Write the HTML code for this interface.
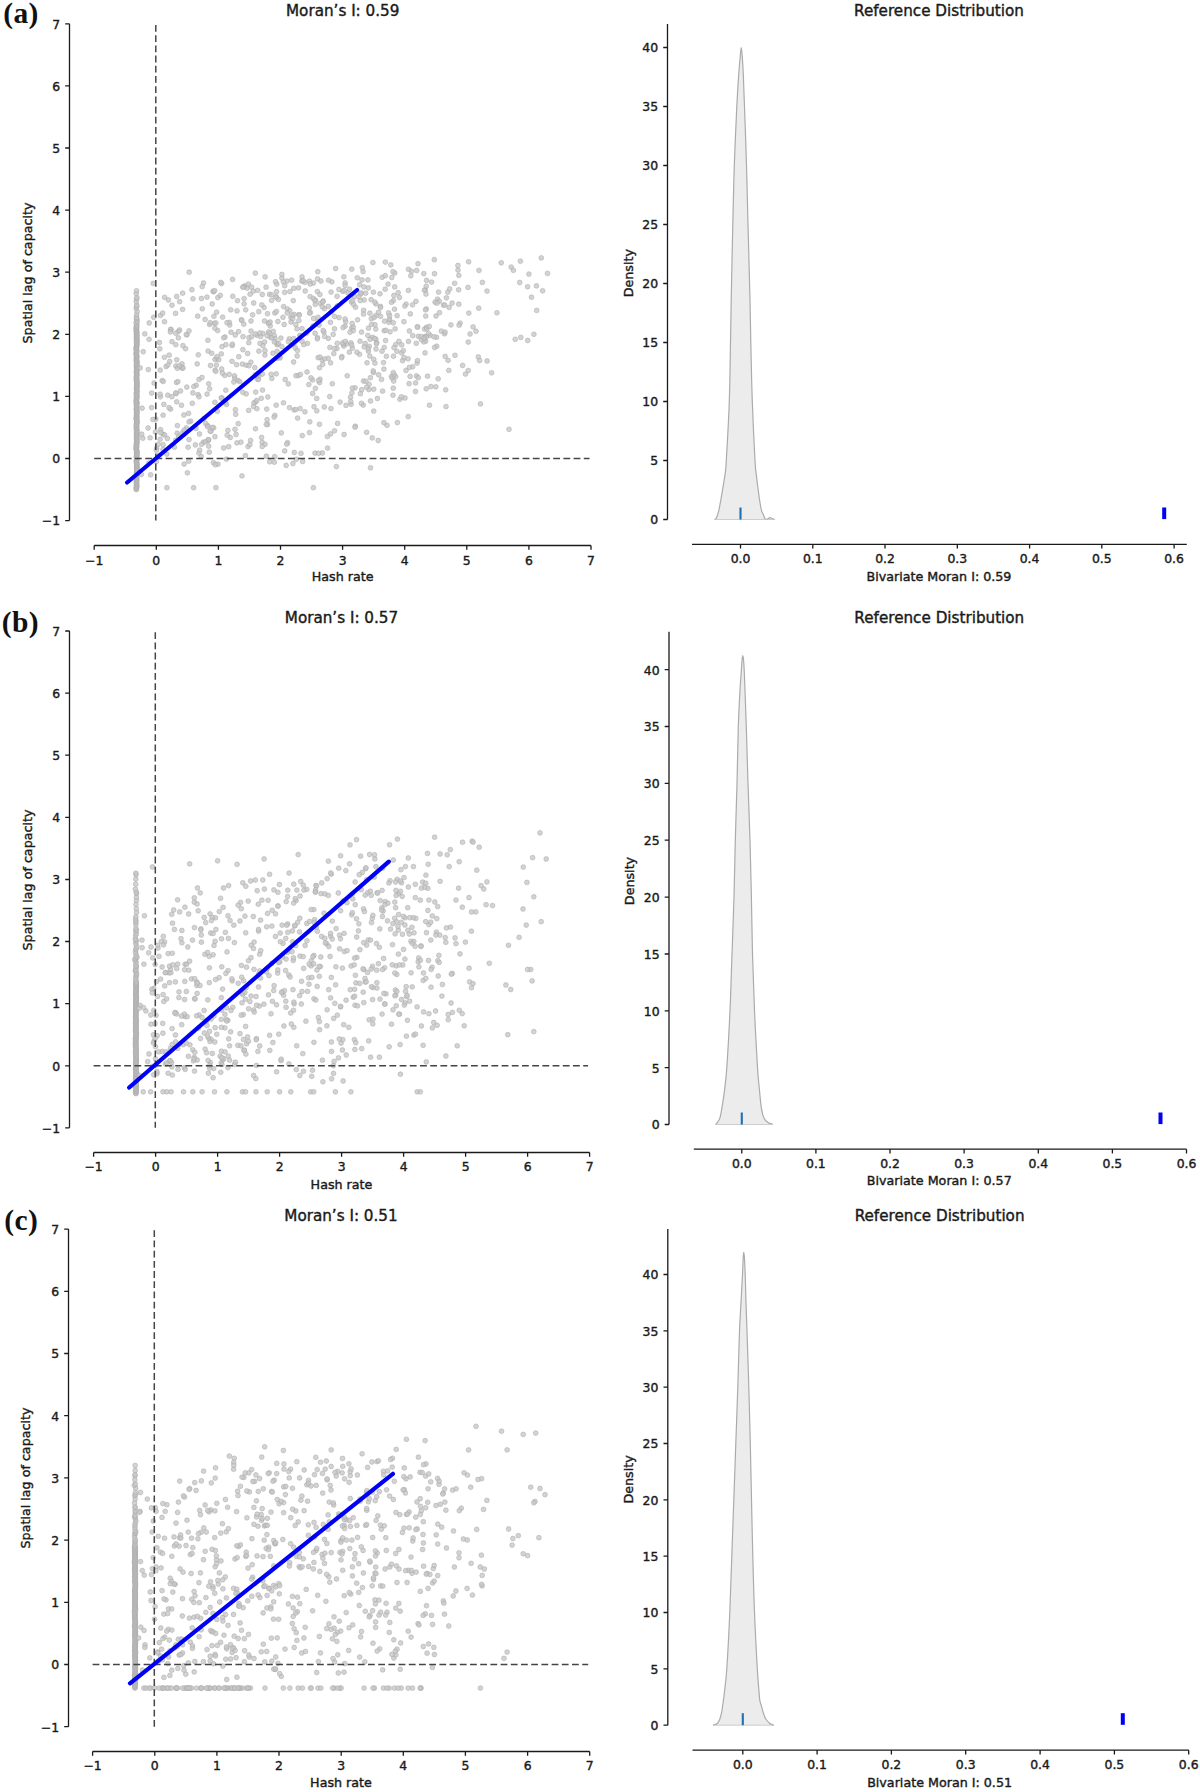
<!DOCTYPE html>
<html lang="en"><head><meta charset="utf-8"><title>Moran scatterplots</title>
<style>html,body{margin:0;padding:0;background:#fff}svg{display:block}text{font-family:'DejaVu Sans','Liberation Sans',sans-serif;fill:#1a1a1a;stroke:#1a1a1a;stroke-width:.4px}.t{font-size:12.4px}.h{font-size:15.2px}.l{font-size:12.7px}.tag{font-family:'Liberation Serif','DejaVu Serif',serif;font-weight:700;font-size:29.5px;fill:#111;stroke:none;letter-spacing:.4px}.ax{stroke:#1a1a1a;stroke-width:1.3;fill:none}.d{stroke:#454545;stroke-width:1.5;stroke-dasharray:6.8 3.4;fill:none}.p circle{fill:#c6c6c6;fill-opacity:.78;stroke:#a8a8a8;stroke-opacity:.75;stroke-width:.7}</style></head><body>
<svg width="1200" height="1792" viewBox="0 0 1200 1792">
<rect width="1200" height="1792" fill="#fff"/>
<g>
<text class="tag" x="3.2" y="23">(a)</text>
<text class="h" x="342.7" y="16.2" text-anchor="middle">Moran’s I: 0.59</text>
<g class="p">
<circle cx="136.3" cy="489.6" r="2.4"/><circle cx="136.5" cy="488.8" r="2.4"/><circle cx="136.2" cy="488.1" r="2.4"/><circle cx="136.3" cy="487.3" r="2.4"/><circle cx="137" cy="486.6" r="2.4"/><circle cx="136.6" cy="485.8" r="2.4"/><circle cx="136.5" cy="485.1" r="2.4"/><circle cx="136.6" cy="484.3" r="2.4"/><circle cx="136.4" cy="483.6" r="2.4"/><circle cx="136.6" cy="482.8" r="2.4"/><circle cx="136.5" cy="482.1" r="2.4"/><circle cx="136.4" cy="481.4" r="2.4"/><circle cx="136.6" cy="480.6" r="2.4"/><circle cx="136.8" cy="479.9" r="2.4"/><circle cx="136.6" cy="479.1" r="2.4"/><circle cx="136.3" cy="478.4" r="2.4"/><circle cx="136.6" cy="477.6" r="2.4"/><circle cx="136.5" cy="476.9" r="2.4"/><circle cx="136.5" cy="476.1" r="2.4"/><circle cx="136.7" cy="475.4" r="2.4"/><circle cx="136.7" cy="474.6" r="2.4"/><circle cx="136.8" cy="473.9" r="2.4"/><circle cx="136.5" cy="473.2" r="2.4"/><circle cx="137.2" cy="472.4" r="2.4"/><circle cx="136.8" cy="471.7" r="2.4"/><circle cx="136.8" cy="470.9" r="2.4"/><circle cx="137" cy="470.2" r="2.4"/><circle cx="136.9" cy="469.4" r="2.4"/><circle cx="137" cy="468.7" r="2.4"/><circle cx="136.9" cy="467.9" r="2.4"/><circle cx="136.5" cy="467.2" r="2.4"/><circle cx="136.8" cy="466.4" r="2.4"/><circle cx="136.9" cy="465.7" r="2.4"/><circle cx="136.8" cy="465" r="2.4"/><circle cx="136.9" cy="464.2" r="2.4"/><circle cx="136.8" cy="463.5" r="2.4"/><circle cx="136.4" cy="462.7" r="2.4"/><circle cx="136.6" cy="462" r="2.4"/><circle cx="136.4" cy="461.2" r="2.4"/><circle cx="136.3" cy="460.5" r="2.4"/><circle cx="137.1" cy="459.7" r="2.4"/><circle cx="136.8" cy="459" r="2.4"/><circle cx="136.9" cy="458.3" r="2.4"/><circle cx="136.3" cy="457.5" r="2.4"/><circle cx="136.8" cy="456.8" r="2.4"/><circle cx="136.5" cy="456" r="2.4"/><circle cx="136.8" cy="455.3" r="2.4"/><circle cx="136.8" cy="454.5" r="2.4"/><circle cx="136.9" cy="453.8" r="2.4"/><circle cx="136.4" cy="453" r="2.4"/><circle cx="136.9" cy="452.3" r="2.4"/><circle cx="136.9" cy="451.5" r="2.4"/><circle cx="136.7" cy="450.8" r="2.4"/><circle cx="136.4" cy="450.1" r="2.4"/><circle cx="136.3" cy="449.3" r="2.4"/><circle cx="136.2" cy="448.6" r="2.4"/><circle cx="136.2" cy="447.8" r="2.4"/><circle cx="136.8" cy="447.1" r="2.4"/><circle cx="136.2" cy="446.3" r="2.4"/><circle cx="136.4" cy="445.6" r="2.4"/><circle cx="136.7" cy="444.8" r="2.4"/><circle cx="136.5" cy="444.1" r="2.4"/><circle cx="136.7" cy="443.3" r="2.4"/><circle cx="136.9" cy="442.6" r="2.4"/><circle cx="136.5" cy="441.9" r="2.4"/><circle cx="136.8" cy="441.1" r="2.4"/><circle cx="136.9" cy="440.4" r="2.4"/><circle cx="136.6" cy="439.6" r="2.4"/><circle cx="136.9" cy="438.9" r="2.4"/><circle cx="136.6" cy="438.1" r="2.4"/><circle cx="136.7" cy="437.4" r="2.4"/><circle cx="136.8" cy="436.6" r="2.4"/><circle cx="136.6" cy="435.9" r="2.4"/><circle cx="136.6" cy="435.2" r="2.4"/><circle cx="136.8" cy="434.4" r="2.4"/><circle cx="136.9" cy="433.7" r="2.4"/><circle cx="136.4" cy="432.9" r="2.4"/><circle cx="136.9" cy="432.2" r="2.4"/><circle cx="136.7" cy="431.4" r="2.4"/><circle cx="136.7" cy="430.7" r="2.4"/><circle cx="137" cy="429.9" r="2.4"/><circle cx="136.4" cy="429.2" r="2.4"/><circle cx="136.4" cy="428.4" r="2.4"/><circle cx="136.3" cy="427.7" r="2.4"/><circle cx="136.7" cy="427" r="2.4"/><circle cx="136.7" cy="426.2" r="2.4"/><circle cx="136.3" cy="425.5" r="2.4"/><circle cx="136.7" cy="424.7" r="2.4"/><circle cx="136.3" cy="424" r="2.4"/><circle cx="136.7" cy="423.2" r="2.4"/><circle cx="137.1" cy="422.5" r="2.4"/><circle cx="136.9" cy="421.7" r="2.4"/><circle cx="136.6" cy="421" r="2.4"/><circle cx="136.9" cy="420.2" r="2.4"/><circle cx="136.8" cy="419.5" r="2.4"/><circle cx="136" cy="418.8" r="2.4"/><circle cx="136.4" cy="418" r="2.4"/><circle cx="136.8" cy="417.3" r="2.4"/><circle cx="136.8" cy="416.5" r="2.4"/><circle cx="136.4" cy="415.8" r="2.4"/><circle cx="136.7" cy="415" r="2.4"/><circle cx="136.7" cy="414.3" r="2.4"/><circle cx="136.6" cy="413.5" r="2.4"/><circle cx="136.6" cy="412.8" r="2.4"/><circle cx="137.1" cy="412" r="2.4"/><circle cx="136.8" cy="411.3" r="2.4"/><circle cx="136.8" cy="410.6" r="2.4"/><circle cx="136.2" cy="409.8" r="2.4"/><circle cx="136.5" cy="409.1" r="2.4"/><circle cx="136.8" cy="408.3" r="2.4"/><circle cx="136.7" cy="407.6" r="2.4"/><circle cx="136.6" cy="406.8" r="2.4"/><circle cx="136.4" cy="406.1" r="2.4"/><circle cx="136.7" cy="405.3" r="2.4"/><circle cx="136.6" cy="404.6" r="2.4"/><circle cx="136.2" cy="403.9" r="2.4"/><circle cx="137.3" cy="403.1" r="2.4"/><circle cx="136.6" cy="402.4" r="2.4"/><circle cx="136.2" cy="401.6" r="2.4"/><circle cx="136.3" cy="400.9" r="2.4"/><circle cx="136.5" cy="400.1" r="2.4"/><circle cx="136.5" cy="399.4" r="2.4"/><circle cx="136.4" cy="398.6" r="2.4"/><circle cx="136.6" cy="397.9" r="2.4"/><circle cx="137" cy="397.1" r="2.4"/><circle cx="136.4" cy="396.4" r="2.4"/><circle cx="136.9" cy="395.7" r="2.4"/><circle cx="136.8" cy="394.9" r="2.4"/><circle cx="136.4" cy="394.2" r="2.4"/><circle cx="136.3" cy="393.4" r="2.4"/><circle cx="136.8" cy="392.7" r="2.4"/><circle cx="136.9" cy="391.9" r="2.4"/><circle cx="136.8" cy="391.2" r="2.4"/><circle cx="136.8" cy="390.4" r="2.4"/><circle cx="136.5" cy="389.7" r="2.4"/><circle cx="136.8" cy="388.9" r="2.4"/><circle cx="136.4" cy="388.2" r="2.4"/><circle cx="136.8" cy="387.5" r="2.4"/><circle cx="136.8" cy="386.7" r="2.4"/><circle cx="136.8" cy="386" r="2.4"/><circle cx="137" cy="385.2" r="2.4"/><circle cx="136.8" cy="384.5" r="2.4"/><circle cx="136.9" cy="383.7" r="2.4"/><circle cx="136.7" cy="383" r="2.4"/><circle cx="137" cy="382.2" r="2.4"/><circle cx="136.6" cy="381.5" r="2.4"/><circle cx="137" cy="380.8" r="2.4"/><circle cx="136.5" cy="380" r="2.4"/><circle cx="136.3" cy="379.3" r="2.4"/><circle cx="136.7" cy="378.5" r="2.4"/><circle cx="136.6" cy="377.8" r="2.4"/><circle cx="136.5" cy="377" r="2.4"/><circle cx="136.4" cy="376.3" r="2.4"/><circle cx="136.8" cy="375.5" r="2.4"/><circle cx="136.7" cy="374.8" r="2.4"/><circle cx="136.9" cy="374" r="2.4"/><circle cx="136.5" cy="373.3" r="2.4"/><circle cx="136.7" cy="372.6" r="2.4"/><circle cx="136.4" cy="371.8" r="2.4"/><circle cx="136.5" cy="371.1" r="2.4"/><circle cx="136.8" cy="370.3" r="2.4"/><circle cx="136.8" cy="369.6" r="2.4"/><circle cx="136.7" cy="368.8" r="2.4"/><circle cx="136.9" cy="368.1" r="2.4"/><circle cx="136.4" cy="367.3" r="2.4"/><circle cx="137" cy="366.6" r="2.4"/><circle cx="136.6" cy="365.8" r="2.4"/><circle cx="136.6" cy="365.1" r="2.4"/><circle cx="136.4" cy="364.4" r="2.4"/><circle cx="137" cy="363.6" r="2.4"/><circle cx="136.4" cy="362.9" r="2.4"/><circle cx="137" cy="362.1" r="2.4"/><circle cx="137" cy="361.4" r="2.4"/><circle cx="136.2" cy="360.6" r="2.4"/><circle cx="136.6" cy="359.9" r="2.4"/><circle cx="136.4" cy="359.1" r="2.4"/><circle cx="136.5" cy="358.4" r="2.4"/><circle cx="136.6" cy="357.6" r="2.4"/><circle cx="136.6" cy="356.9" r="2.4"/><circle cx="136.8" cy="356.2" r="2.4"/><circle cx="136.7" cy="355.4" r="2.4"/><circle cx="136.2" cy="354.7" r="2.4"/><circle cx="136.3" cy="353.9" r="2.4"/><circle cx="136.3" cy="353.2" r="2.4"/><circle cx="136.3" cy="352.4" r="2.4"/><circle cx="136.8" cy="351.7" r="2.4"/><circle cx="136.6" cy="350.9" r="2.4"/><circle cx="136.6" cy="350.2" r="2.4"/><circle cx="136.1" cy="349.5" r="2.4"/><circle cx="136.5" cy="348.7" r="2.4"/><circle cx="136.1" cy="348" r="2.4"/><circle cx="136.6" cy="347.2" r="2.4"/><circle cx="136.5" cy="346.5" r="2.4"/><circle cx="136.7" cy="345.7" r="2.4"/><circle cx="136.8" cy="345" r="2.4"/><circle cx="136.8" cy="344.2" r="2.4"/><circle cx="136.6" cy="343.5" r="2.4"/><circle cx="136.7" cy="342.7" r="2.4"/><circle cx="136.4" cy="342" r="2.4"/><circle cx="137.2" cy="341.3" r="2.4"/><circle cx="136.7" cy="340.5" r="2.4"/><circle cx="136.4" cy="339.8" r="2.4"/><circle cx="136.6" cy="339" r="2.4"/><circle cx="136.9" cy="338.3" r="2.4"/><circle cx="136.4" cy="337.5" r="2.4"/><circle cx="136.9" cy="336.8" r="2.4"/><circle cx="136.5" cy="336" r="2.4"/><circle cx="137" cy="335.3" r="2.4"/><circle cx="136.6" cy="334.5" r="2.4"/><circle cx="136.4" cy="333.8" r="2.4"/><circle cx="136.7" cy="333.1" r="2.4"/><circle cx="136.9" cy="332.3" r="2.4"/><circle cx="136.2" cy="331.6" r="2.4"/><circle cx="136.4" cy="330.8" r="2.4"/><circle cx="136.7" cy="330.1" r="2.4"/><circle cx="136.4" cy="329.3" r="2.4"/><circle cx="136.2" cy="328.6" r="2.4"/><circle cx="136.6" cy="327.8" r="2.4"/><circle cx="136.5" cy="327.1" r="2.4"/><circle cx="136.6" cy="326.4" r="2.4"/><circle cx="136.5" cy="325.6" r="2.4"/><circle cx="136.7" cy="324.9" r="2.4"/><circle cx="136.7" cy="323.4" r="2.4"/><circle cx="136.1" cy="322.5" r="2.4"/><circle cx="137.2" cy="321.2" r="2.4"/><circle cx="136.7" cy="319.3" r="2.4"/><circle cx="136.6" cy="318.2" r="2.4"/><circle cx="136.5" cy="317.1" r="2.4"/><circle cx="136.7" cy="314.4" r="2.4"/><circle cx="137.1" cy="311.4" r="2.4"/><circle cx="136.2" cy="308.4" r="2.4"/><circle cx="136.7" cy="306.4" r="2.4"/><circle cx="136.7" cy="305.1" r="2.4"/><circle cx="136.2" cy="301.6" r="2.4"/><circle cx="136.6" cy="298.9" r="2.4"/><circle cx="136.9" cy="297.6" r="2.4"/><circle cx="136.2" cy="293.5" r="2.4"/><circle cx="136.6" cy="290.8" r="2.4"/>
<circle cx="330.6" cy="362.8" r="2.4"/><circle cx="465.5" cy="374.1" r="2.4"/><circle cx="213.7" cy="427.8" r="2.4"/><circle cx="405" cy="398" r="2.4"/><circle cx="276.2" cy="405.2" r="2.4"/><circle cx="487" cy="291.1" r="2.4"/><circle cx="198.1" cy="394.7" r="2.4"/><circle cx="441.3" cy="331.1" r="2.4"/><circle cx="271.8" cy="378.4" r="2.4"/><circle cx="253.7" cy="303" r="2.4"/><circle cx="247.6" cy="353.5" r="2.4"/><circle cx="212.4" cy="427.4" r="2.4"/>
<circle cx="229.2" cy="374.4" r="2.4"/><circle cx="267.6" cy="424.5" r="2.4"/><circle cx="394.7" cy="286.9" r="2.4"/><circle cx="203.5" cy="283" r="2.4"/><circle cx="159.8" cy="348.8" r="2.4"/><circle cx="430.1" cy="335.4" r="2.4"/><circle cx="398.9" cy="341.3" r="2.4"/><circle cx="305.2" cy="291" r="2.4"/><circle cx="163.1" cy="415.2" r="2.4"/><circle cx="155.8" cy="419.2" r="2.4"/><circle cx="280.9" cy="338.1" r="2.4"/><circle cx="348" cy="292.8" r="2.4"/>
<circle cx="329.9" cy="347.4" r="2.4"/><circle cx="330.6" cy="433.9" r="2.4"/><circle cx="167.8" cy="395.2" r="2.4"/><circle cx="207.1" cy="394.1" r="2.4"/><circle cx="230.3" cy="437.5" r="2.4"/><circle cx="394.8" cy="273" r="2.4"/><circle cx="437.5" cy="299.2" r="2.4"/><circle cx="409.4" cy="331" r="2.4"/><circle cx="289.4" cy="338.8" r="2.4"/><circle cx="468.2" cy="370.6" r="2.4"/><circle cx="346.5" cy="343.9" r="2.4"/><circle cx="274.8" cy="313" r="2.4"/>
<circle cx="231" cy="332.2" r="2.4"/><circle cx="425.1" cy="336.4" r="2.4"/><circle cx="323.2" cy="301" r="2.4"/><circle cx="460.1" cy="323.1" r="2.4"/><circle cx="396.9" cy="351.3" r="2.4"/><circle cx="300.2" cy="408.6" r="2.4"/><circle cx="361.2" cy="293" r="2.4"/><circle cx="246.2" cy="393.9" r="2.4"/><circle cx="201.3" cy="456.6" r="2.4"/><circle cx="351.7" cy="269.2" r="2.4"/><circle cx="355.3" cy="426.2" r="2.4"/><circle cx="175.9" cy="366" r="2.4"/>
<circle cx="156.6" cy="448.2" r="2.4"/><circle cx="354.4" cy="296.6" r="2.4"/><circle cx="351.1" cy="404.3" r="2.4"/><circle cx="426.6" cy="280.4" r="2.4"/><circle cx="337.1" cy="296.3" r="2.4"/><circle cx="412.7" cy="366.8" r="2.4"/><circle cx="160.4" cy="396.8" r="2.4"/><circle cx="369.3" cy="346.3" r="2.4"/><circle cx="181.5" cy="405.3" r="2.4"/><circle cx="393.5" cy="356.2" r="2.4"/><circle cx="264.5" cy="321" r="2.4"/><circle cx="447.8" cy="292.2" r="2.4"/>
<circle cx="336.9" cy="348.6" r="2.4"/><circle cx="360.6" cy="294.1" r="2.4"/><circle cx="317.5" cy="278.9" r="2.4"/><circle cx="293.6" cy="362" r="2.4"/><circle cx="226.5" cy="404.5" r="2.4"/><circle cx="185.6" cy="348.7" r="2.4"/><circle cx="287.5" cy="442.7" r="2.4"/><circle cx="319.5" cy="367.7" r="2.4"/><circle cx="297.6" cy="418.1" r="2.4"/><circle cx="458.6" cy="289.8" r="2.4"/><circle cx="426.3" cy="327.3" r="2.4"/><circle cx="277.2" cy="344.8" r="2.4"/>
<circle cx="304.9" cy="282.3" r="2.4"/><circle cx="160.1" cy="394.2" r="2.4"/><circle cx="176.7" cy="296.5" r="2.4"/><circle cx="408.5" cy="341.4" r="2.4"/><circle cx="285.2" cy="379.5" r="2.4"/><circle cx="358.9" cy="296.7" r="2.4"/><circle cx="217.8" cy="297.6" r="2.4"/><circle cx="458.8" cy="275.4" r="2.4"/><circle cx="237.5" cy="300.7" r="2.4"/><circle cx="274.8" cy="415.4" r="2.4"/><circle cx="286.9" cy="281.1" r="2.4"/><circle cx="360.4" cy="393.7" r="2.4"/>
<circle cx="391.5" cy="376.4" r="2.4"/><circle cx="211" cy="431.3" r="2.4"/><circle cx="184" cy="434.1" r="2.4"/><circle cx="271.6" cy="300.4" r="2.4"/><circle cx="274.7" cy="456.7" r="2.4"/><circle cx="293.8" cy="338.6" r="2.4"/><circle cx="245.4" cy="455.6" r="2.4"/><circle cx="269.5" cy="294.3" r="2.4"/><circle cx="281.8" cy="346.5" r="2.4"/><circle cx="187" cy="334.8" r="2.4"/><circle cx="320.5" cy="303.4" r="2.4"/><circle cx="310.1" cy="296.6" r="2.4"/>
<circle cx="409.1" cy="383.7" r="2.4"/><circle cx="291" cy="322" r="2.4"/><circle cx="229.7" cy="325.1" r="2.4"/><circle cx="205.1" cy="319.5" r="2.4"/><circle cx="389.6" cy="320.1" r="2.4"/><circle cx="368.4" cy="351.3" r="2.4"/><circle cx="443.6" cy="305.1" r="2.4"/><circle cx="357.3" cy="277.8" r="2.4"/><circle cx="208.7" cy="383.8" r="2.4"/><circle cx="313.4" cy="283.1" r="2.4"/><circle cx="388.1" cy="284.1" r="2.4"/><circle cx="171.9" cy="396.7" r="2.4"/>
<circle cx="178.4" cy="337.8" r="2.4"/><circle cx="375.9" cy="303.9" r="2.4"/><circle cx="176.1" cy="393.6" r="2.4"/><circle cx="273.3" cy="331.4" r="2.4"/><circle cx="291.6" cy="280.1" r="2.4"/><circle cx="171.1" cy="329.6" r="2.4"/><circle cx="182.6" cy="309.4" r="2.4"/><circle cx="298.9" cy="314.6" r="2.4"/><circle cx="415.6" cy="382.9" r="2.4"/><circle cx="388.9" cy="322.3" r="2.4"/><circle cx="368.5" cy="328.2" r="2.4"/><circle cx="371.6" cy="324.3" r="2.4"/>
<circle cx="357.6" cy="319.8" r="2.4"/><circle cx="244.8" cy="285.9" r="2.4"/><circle cx="434.5" cy="273.7" r="2.4"/><circle cx="255.5" cy="428.8" r="2.4"/><circle cx="376.7" cy="342.8" r="2.4"/><circle cx="384.6" cy="321.2" r="2.4"/><circle cx="175.6" cy="313.4" r="2.4"/><circle cx="208.6" cy="439.9" r="2.4"/><circle cx="319.5" cy="424.3" r="2.4"/><circle cx="242.4" cy="364.1" r="2.4"/><circle cx="393.4" cy="300.7" r="2.4"/><circle cx="307" cy="372" r="2.4"/>
<circle cx="232" cy="361.3" r="2.4"/><circle cx="260.1" cy="343.4" r="2.4"/><circle cx="212.2" cy="304" r="2.4"/><circle cx="280.2" cy="357.9" r="2.4"/><circle cx="163.9" cy="404.4" r="2.4"/><circle cx="209.6" cy="324.5" r="2.4"/><circle cx="240.9" cy="442.2" r="2.4"/><circle cx="237" cy="310.9" r="2.4"/><circle cx="306.8" cy="333" r="2.4"/><circle cx="217.4" cy="411.3" r="2.4"/><circle cx="382.2" cy="277.3" r="2.4"/><circle cx="383.5" cy="362.6" r="2.4"/>
<circle cx="416" cy="301.3" r="2.4"/><circle cx="399.9" cy="399.3" r="2.4"/><circle cx="302.6" cy="461.5" r="2.4"/><circle cx="294.1" cy="409.9" r="2.4"/><circle cx="307.4" cy="343.4" r="2.4"/><circle cx="283.5" cy="402.8" r="2.4"/><circle cx="214.5" cy="323.3" r="2.4"/><circle cx="250.1" cy="294.2" r="2.4"/><circle cx="196" cy="428.5" r="2.4"/><circle cx="352.4" cy="348.1" r="2.4"/><circle cx="283.6" cy="306.6" r="2.4"/><circle cx="468.8" cy="313.1" r="2.4"/>
<circle cx="423.8" cy="273.7" r="2.4"/><circle cx="198.9" cy="453" r="2.4"/><circle cx="342.7" cy="291.3" r="2.4"/><circle cx="426.3" cy="309" r="2.4"/><circle cx="250.9" cy="362.2" r="2.4"/><circle cx="296.3" cy="459.3" r="2.4"/><circle cx="182.4" cy="368.3" r="2.4"/><circle cx="398.2" cy="292.7" r="2.4"/><circle cx="438.6" cy="292.1" r="2.4"/><circle cx="355.1" cy="387.8" r="2.4"/><circle cx="309.5" cy="281.2" r="2.4"/><circle cx="250.6" cy="440.4" r="2.4"/>
<circle cx="241.4" cy="319.9" r="2.4"/><circle cx="188.6" cy="413.4" r="2.4"/><circle cx="221.6" cy="283.5" r="2.4"/><circle cx="364.1" cy="300" r="2.4"/><circle cx="279" cy="357.1" r="2.4"/><circle cx="351.4" cy="302.1" r="2.4"/><circle cx="317.5" cy="337.6" r="2.4"/><circle cx="386.4" cy="356.3" r="2.4"/><circle cx="244.1" cy="298.6" r="2.4"/><circle cx="262.1" cy="442.4" r="2.4"/><circle cx="247.1" cy="288.2" r="2.4"/><circle cx="288.3" cy="383.9" r="2.4"/>
<circle cx="395.8" cy="344.6" r="2.4"/><circle cx="276.3" cy="297" r="2.4"/><circle cx="426.2" cy="388.8" r="2.4"/><circle cx="425.4" cy="290" r="2.4"/><circle cx="319.6" cy="382.6" r="2.4"/><circle cx="331.6" cy="311.6" r="2.4"/><circle cx="317.4" cy="291.6" r="2.4"/><circle cx="251" cy="321" r="2.4"/><circle cx="190.7" cy="421.2" r="2.4"/><circle cx="527.6" cy="286.8" r="2.4"/><circle cx="417.1" cy="363.1" r="2.4"/><circle cx="334.5" cy="328.8" r="2.4"/>
<circle cx="208" cy="440.8" r="2.4"/><circle cx="458.8" cy="304.2" r="2.4"/><circle cx="363.6" cy="310.3" r="2.4"/><circle cx="186.3" cy="334.6" r="2.4"/><circle cx="372.5" cy="337.3" r="2.4"/><circle cx="393.9" cy="295.5" r="2.4"/><circle cx="213.4" cy="462.7" r="2.4"/><circle cx="406.1" cy="304.1" r="2.4"/><circle cx="345.1" cy="326.1" r="2.4"/><circle cx="297.1" cy="356" r="2.4"/><circle cx="482.4" cy="282.4" r="2.4"/><circle cx="343.1" cy="327.6" r="2.4"/>
<circle cx="154.1" cy="383" r="2.4"/><circle cx="276.2" cy="373.8" r="2.4"/><circle cx="319.9" cy="294.6" r="2.4"/><circle cx="277.1" cy="351.4" r="2.4"/><circle cx="160.2" cy="370.1" r="2.4"/><circle cx="449.1" cy="307.4" r="2.4"/><circle cx="179.6" cy="330" r="2.4"/><circle cx="235" cy="429.3" r="2.4"/><circle cx="424.5" cy="329.1" r="2.4"/><circle cx="216.3" cy="365.1" r="2.4"/><circle cx="293.3" cy="300.6" r="2.4"/><circle cx="176.8" cy="359.8" r="2.4"/>
<circle cx="331.9" cy="281.9" r="2.4"/><circle cx="283.3" cy="281.8" r="2.4"/><circle cx="237.9" cy="380.5" r="2.4"/><circle cx="424.4" cy="290.2" r="2.4"/><circle cx="159.4" cy="342.5" r="2.4"/><circle cx="261.3" cy="398.3" r="2.4"/><circle cx="363.1" cy="271.6" r="2.4"/><circle cx="243.8" cy="324.2" r="2.4"/><circle cx="289.5" cy="407.6" r="2.4"/><circle cx="496.9" cy="312.8" r="2.4"/><circle cx="181.9" cy="366.8" r="2.4"/><circle cx="343.8" cy="346.1" r="2.4"/>
<circle cx="270.3" cy="337.1" r="2.4"/><circle cx="385.3" cy="275.7" r="2.4"/><circle cx="531.5" cy="297.2" r="2.4"/><circle cx="151.6" cy="407.6" r="2.4"/><circle cx="284.2" cy="324.5" r="2.4"/><circle cx="245.7" cy="309.8" r="2.4"/><circle cx="281.9" cy="278" r="2.4"/><circle cx="315.5" cy="300.3" r="2.4"/><circle cx="265.1" cy="276.9" r="2.4"/><circle cx="232.8" cy="296.3" r="2.4"/><circle cx="331.1" cy="292.1" r="2.4"/><circle cx="272.9" cy="353.2" r="2.4"/>
<circle cx="360" cy="341.2" r="2.4"/><circle cx="214.9" cy="402.3" r="2.4"/><circle cx="335.6" cy="268.5" r="2.4"/><circle cx="235.2" cy="335" r="2.4"/><circle cx="223.7" cy="448" r="2.4"/><circle cx="277" cy="343.3" r="2.4"/><circle cx="283" cy="317.3" r="2.4"/><circle cx="382.6" cy="391.1" r="2.4"/><circle cx="372.9" cy="262.6" r="2.4"/><circle cx="401.7" cy="352.9" r="2.4"/><circle cx="262.3" cy="294.5" r="2.4"/><circle cx="371.3" cy="318.7" r="2.4"/>
<circle cx="236.6" cy="364.7" r="2.4"/><circle cx="248" cy="446.6" r="2.4"/><circle cx="287.3" cy="308.9" r="2.4"/><circle cx="274.4" cy="335.7" r="2.4"/><circle cx="439.3" cy="301.3" r="2.4"/><circle cx="215.1" cy="370.2" r="2.4"/><circle cx="276.5" cy="311.5" r="2.4"/><circle cx="458" cy="270.1" r="2.4"/><circle cx="363.5" cy="381" r="2.4"/><circle cx="172" cy="341.7" r="2.4"/><circle cx="322.9" cy="301.9" r="2.4"/><circle cx="226.4" cy="459.1" r="2.4"/>
<circle cx="369.8" cy="356.1" r="2.4"/><circle cx="322.7" cy="364.3" r="2.4"/><circle cx="320" cy="379.2" r="2.4"/><circle cx="202.3" cy="308.8" r="2.4"/><circle cx="384.2" cy="347.4" r="2.4"/><circle cx="309.3" cy="307.9" r="2.4"/><circle cx="324.4" cy="308.7" r="2.4"/><circle cx="300.3" cy="335.8" r="2.4"/><circle cx="268.7" cy="322.9" r="2.4"/><circle cx="286.7" cy="444.2" r="2.4"/><circle cx="455" cy="355.3" r="2.4"/><circle cx="385.2" cy="289.2" r="2.4"/>
<circle cx="373.7" cy="359.3" r="2.4"/><circle cx="376" cy="349" r="2.4"/><circle cx="317.7" cy="321.7" r="2.4"/><circle cx="302" cy="328.7" r="2.4"/><circle cx="210.2" cy="322.7" r="2.4"/><circle cx="345.1" cy="282.9" r="2.4"/><circle cx="428.4" cy="333.6" r="2.4"/><circle cx="239.8" cy="381.6" r="2.4"/><circle cx="322.2" cy="306.7" r="2.4"/><circle cx="295.7" cy="324.5" r="2.4"/><circle cx="366.6" cy="432.3" r="2.4"/><circle cx="426.9" cy="328.7" r="2.4"/>
<circle cx="249.9" cy="444.6" r="2.4"/><circle cx="337.2" cy="305.9" r="2.4"/><circle cx="425.7" cy="341.2" r="2.4"/><circle cx="160.1" cy="439.3" r="2.4"/><circle cx="397.1" cy="315.7" r="2.4"/><circle cx="308.8" cy="384.6" r="2.4"/><circle cx="274.1" cy="417.1" r="2.4"/><circle cx="323.9" cy="332.1" r="2.4"/><circle cx="418.4" cy="336.3" r="2.4"/><circle cx="411.5" cy="271.3" r="2.4"/><circle cx="255.2" cy="374.9" r="2.4"/><circle cx="339" cy="317.6" r="2.4"/>
<circle cx="395.1" cy="328.9" r="2.4"/><circle cx="177.4" cy="425.6" r="2.4"/><circle cx="416.7" cy="270.5" r="2.4"/><circle cx="170.6" cy="329.3" r="2.4"/><circle cx="349.5" cy="289.2" r="2.4"/><circle cx="164.6" cy="297.3" r="2.4"/><circle cx="302.3" cy="435.6" r="2.4"/><circle cx="166.1" cy="366.6" r="2.4"/><circle cx="363.5" cy="314.1" r="2.4"/><circle cx="227.9" cy="430.4" r="2.4"/><circle cx="384.2" cy="330.7" r="2.4"/><circle cx="264.1" cy="307.5" r="2.4"/>
<circle cx="454.6" cy="283.3" r="2.4"/><circle cx="380" cy="293.8" r="2.4"/><circle cx="203.5" cy="442.2" r="2.4"/><circle cx="391.8" cy="277.5" r="2.4"/><circle cx="426.2" cy="337" r="2.4"/><circle cx="177.2" cy="433.2" r="2.4"/><circle cx="318.1" cy="357.7" r="2.4"/><circle cx="395.6" cy="376.7" r="2.4"/><circle cx="174.4" cy="447.2" r="2.4"/><circle cx="368.4" cy="287.8" r="2.4"/><circle cx="163.1" cy="444.6" r="2.4"/><circle cx="199" cy="379.5" r="2.4"/>
<circle cx="265" cy="350.7" r="2.4"/><circle cx="353.6" cy="304.6" r="2.4"/><circle cx="351.7" cy="328.1" r="2.4"/><circle cx="182.8" cy="432.4" r="2.4"/><circle cx="327.4" cy="436.5" r="2.4"/><circle cx="448.1" cy="360.3" r="2.4"/><circle cx="208.4" cy="439.6" r="2.4"/><circle cx="169.2" cy="355.1" r="2.4"/><circle cx="180.5" cy="391" r="2.4"/><circle cx="351" cy="342.9" r="2.4"/><circle cx="284.7" cy="292.4" r="2.4"/><circle cx="295.8" cy="409.6" r="2.4"/>
<circle cx="312.5" cy="379.9" r="2.4"/><circle cx="406" cy="370.4" r="2.4"/><circle cx="207.7" cy="425.7" r="2.4"/><circle cx="261.6" cy="437.5" r="2.4"/><circle cx="227.2" cy="435.2" r="2.4"/><circle cx="330.9" cy="408.6" r="2.4"/><circle cx="293.9" cy="343.9" r="2.4"/><circle cx="380.3" cy="306.4" r="2.4"/><circle cx="416.5" cy="376" r="2.4"/><circle cx="478.3" cy="356.9" r="2.4"/><circle cx="374.9" cy="363.1" r="2.4"/><circle cx="257.2" cy="335.3" r="2.4"/>
<circle cx="334.5" cy="348.5" r="2.4"/><circle cx="301.8" cy="281.2" r="2.4"/><circle cx="243" cy="336.6" r="2.4"/><circle cx="332.3" cy="383.8" r="2.4"/><circle cx="375.9" cy="339.2" r="2.4"/><circle cx="276.8" cy="284.1" r="2.4"/><circle cx="242.8" cy="392.3" r="2.4"/><circle cx="330.4" cy="322.3" r="2.4"/><circle cx="470.1" cy="334" r="2.4"/><circle cx="353.3" cy="327.1" r="2.4"/><circle cx="286.2" cy="465.4" r="2.4"/><circle cx="309.8" cy="421.8" r="2.4"/>
<circle cx="301" cy="453.3" r="2.4"/><circle cx="163" cy="434.2" r="2.4"/><circle cx="294.1" cy="314.4" r="2.4"/><circle cx="418.3" cy="377.7" r="2.4"/><circle cx="172" cy="305.2" r="2.4"/><circle cx="216.6" cy="358.8" r="2.4"/><circle cx="501.3" cy="262.8" r="2.4"/><circle cx="164.6" cy="434.9" r="2.4"/><circle cx="417.7" cy="327" r="2.4"/><circle cx="241.8" cy="320.2" r="2.4"/><circle cx="275.1" cy="338.8" r="2.4"/><circle cx="255.7" cy="402.1" r="2.4"/>
<circle cx="258.8" cy="311.7" r="2.4"/><circle cx="375.8" cy="329.1" r="2.4"/><circle cx="328.4" cy="338.4" r="2.4"/><circle cx="232.6" cy="279.4" r="2.4"/><circle cx="248.3" cy="284.1" r="2.4"/><circle cx="394.5" cy="309.2" r="2.4"/><circle cx="391.5" cy="302.3" r="2.4"/><circle cx="295.3" cy="348" r="2.4"/><circle cx="334.5" cy="430.8" r="2.4"/><circle cx="425" cy="352.9" r="2.4"/><circle cx="361.6" cy="332.1" r="2.4"/><circle cx="363.2" cy="405.1" r="2.4"/>
<circle cx="387" cy="425.3" r="2.4"/><circle cx="213.9" cy="316.3" r="2.4"/><circle cx="303.8" cy="344.6" r="2.4"/><circle cx="251.6" cy="287.1" r="2.4"/><circle cx="201.6" cy="444.3" r="2.4"/><circle cx="328.2" cy="358.3" r="2.4"/><circle cx="429.3" cy="326.4" r="2.4"/><circle cx="289.8" cy="310.8" r="2.4"/><circle cx="268.6" cy="331.9" r="2.4"/><circle cx="362.3" cy="267.7" r="2.4"/><circle cx="243.4" cy="286.8" r="2.4"/><circle cx="365.7" cy="293.2" r="2.4"/>
<circle cx="232.1" cy="345.6" r="2.4"/><circle cx="255.3" cy="273.1" r="2.4"/><circle cx="363.9" cy="287" r="2.4"/><circle cx="186.8" cy="387.1" r="2.4"/><circle cx="340.1" cy="402.1" r="2.4"/><circle cx="205.7" cy="423.6" r="2.4"/><circle cx="236.9" cy="442.9" r="2.4"/><circle cx="266.1" cy="287.2" r="2.4"/><circle cx="176.5" cy="382.5" r="2.4"/><circle cx="316.7" cy="398.5" r="2.4"/><circle cx="313" cy="326.1" r="2.4"/><circle cx="393" cy="395.2" r="2.4"/>
<circle cx="170.4" cy="331.9" r="2.4"/><circle cx="313.4" cy="298.4" r="2.4"/><circle cx="249" cy="337.6" r="2.4"/><circle cx="253.3" cy="291.2" r="2.4"/><circle cx="207.6" cy="426.6" r="2.4"/><circle cx="382" cy="351.2" r="2.4"/><circle cx="436.7" cy="346.2" r="2.4"/><circle cx="372.3" cy="437.9" r="2.4"/><circle cx="267.5" cy="313.7" r="2.4"/><circle cx="182.9" cy="367.9" r="2.4"/><circle cx="394" cy="347.7" r="2.4"/><circle cx="368.8" cy="389.5" r="2.4"/>
<circle cx="224.7" cy="375.4" r="2.4"/><circle cx="385.6" cy="340.5" r="2.4"/><circle cx="402.6" cy="360.7" r="2.4"/><circle cx="341.9" cy="356.6" r="2.4"/><circle cx="186.5" cy="427.9" r="2.4"/><circle cx="404" cy="357.7" r="2.4"/><circle cx="370.4" cy="377.7" r="2.4"/><circle cx="169.7" cy="361.5" r="2.4"/><circle cx="318.5" cy="380.6" r="2.4"/><circle cx="367.8" cy="335.4" r="2.4"/><circle cx="310.2" cy="284" r="2.4"/><circle cx="163" cy="449.4" r="2.4"/>
<circle cx="408.1" cy="358.8" r="2.4"/><circle cx="230.7" cy="309.8" r="2.4"/><circle cx="225.6" cy="402.5" r="2.4"/><circle cx="353.3" cy="330.6" r="2.4"/><circle cx="255.7" cy="392.1" r="2.4"/><circle cx="462.6" cy="365.4" r="2.4"/><circle cx="373.7" cy="389.2" r="2.4"/><circle cx="423.8" cy="341.9" r="2.4"/><circle cx="209.6" cy="388.8" r="2.4"/><circle cx="192.9" cy="392.9" r="2.4"/><circle cx="213.1" cy="291.3" r="2.4"/><circle cx="156.3" cy="461.6" r="2.4"/>
<circle cx="244.1" cy="303.9" r="2.4"/><circle cx="403.3" cy="350.6" r="2.4"/><circle cx="370.1" cy="339.3" r="2.4"/><circle cx="246.2" cy="365.2" r="2.4"/><circle cx="328.3" cy="306.4" r="2.4"/><circle cx="158.9" cy="455.3" r="2.4"/><circle cx="221.9" cy="397.8" r="2.4"/><circle cx="381.5" cy="379.4" r="2.4"/><circle cx="267.1" cy="419.7" r="2.4"/><circle cx="252.6" cy="314.8" r="2.4"/><circle cx="198.3" cy="354.8" r="2.4"/><circle cx="222" cy="346.6" r="2.4"/>
<circle cx="215" cy="359.4" r="2.4"/><circle cx="315" cy="453.1" r="2.4"/><circle cx="281.3" cy="432.9" r="2.4"/><circle cx="343.5" cy="344.1" r="2.4"/><circle cx="315.1" cy="333.2" r="2.4"/><circle cx="182.9" cy="345.6" r="2.4"/><circle cx="265" cy="444.3" r="2.4"/><circle cx="188.7" cy="461.2" r="2.4"/><circle cx="345.7" cy="321.6" r="2.4"/><circle cx="479" cy="270.4" r="2.4"/><circle cx="367" cy="362.8" r="2.4"/><circle cx="267.8" cy="397" r="2.4"/>
<circle cx="266.4" cy="456.2" r="2.4"/><circle cx="421.4" cy="339.6" r="2.4"/><circle cx="410.8" cy="275.8" r="2.4"/><circle cx="392.9" cy="271.7" r="2.4"/><circle cx="258.9" cy="351.2" r="2.4"/><circle cx="222.3" cy="373" r="2.4"/><circle cx="409.3" cy="367.4" r="2.4"/><circle cx="217.7" cy="330.6" r="2.4"/><circle cx="408.5" cy="269.3" r="2.4"/><circle cx="197.7" cy="316.2" r="2.4"/><circle cx="195.4" cy="444.9" r="2.4"/><circle cx="448.8" cy="370.4" r="2.4"/>
<circle cx="257.5" cy="379.1" r="2.4"/><circle cx="350.5" cy="397.2" r="2.4"/><circle cx="288.5" cy="341.5" r="2.4"/><circle cx="415.5" cy="391.5" r="2.4"/><circle cx="278.4" cy="299.4" r="2.4"/><circle cx="232.4" cy="344.2" r="2.4"/><circle cx="373.5" cy="372.5" r="2.4"/><circle cx="260.7" cy="336.5" r="2.4"/><circle cx="256.9" cy="408.7" r="2.4"/><circle cx="362" cy="279.9" r="2.4"/><circle cx="302" cy="276.9" r="2.4"/><circle cx="182.6" cy="293.2" r="2.4"/>
<circle cx="352.2" cy="323.4" r="2.4"/><circle cx="452.1" cy="303.1" r="2.4"/><circle cx="207" cy="297.1" r="2.4"/><circle cx="397.4" cy="422.6" r="2.4"/><circle cx="235.7" cy="414.3" r="2.4"/><circle cx="314" cy="406.7" r="2.4"/><circle cx="238.2" cy="423.7" r="2.4"/><circle cx="370.5" cy="401" r="2.4"/><circle cx="209.3" cy="452.2" r="2.4"/><circle cx="158.2" cy="444.3" r="2.4"/><circle cx="290.8" cy="317.4" r="2.4"/><circle cx="425.7" cy="316.1" r="2.4"/>
<circle cx="270.2" cy="326" r="2.4"/><circle cx="337.3" cy="343.3" r="2.4"/><circle cx="179.6" cy="301.7" r="2.4"/><circle cx="383.9" cy="369.1" r="2.4"/><circle cx="449.7" cy="288.9" r="2.4"/><circle cx="377.4" cy="398.5" r="2.4"/><circle cx="294.3" cy="452.5" r="2.4"/><circle cx="183.9" cy="415" r="2.4"/><circle cx="374.8" cy="302.1" r="2.4"/><circle cx="218.8" cy="359.7" r="2.4"/><circle cx="324.7" cy="336.4" r="2.4"/><circle cx="435.1" cy="302.2" r="2.4"/>
<circle cx="329.7" cy="396.6" r="2.4"/><circle cx="318" cy="317.3" r="2.4"/><circle cx="313.5" cy="318.4" r="2.4"/><circle cx="167.4" cy="438.5" r="2.4"/><circle cx="204" cy="418.6" r="2.4"/><circle cx="284.7" cy="450.9" r="2.4"/><circle cx="202" cy="377.5" r="2.4"/><circle cx="434.3" cy="259.7" r="2.4"/><circle cx="344.1" cy="434.5" r="2.4"/><circle cx="269.4" cy="333.3" r="2.4"/><circle cx="220.7" cy="282.4" r="2.4"/><circle cx="175.8" cy="392.9" r="2.4"/>
<circle cx="201.4" cy="298.5" r="2.4"/><circle cx="292.3" cy="315.6" r="2.4"/><circle cx="178.4" cy="331.5" r="2.4"/><circle cx="431.6" cy="282.1" r="2.4"/><circle cx="267.1" cy="335.8" r="2.4"/><circle cx="345.1" cy="285.5" r="2.4"/><circle cx="284.7" cy="285.7" r="2.4"/><circle cx="351.9" cy="392.9" r="2.4"/><circle cx="268.6" cy="323.5" r="2.4"/><circle cx="191.9" cy="289.7" r="2.4"/><circle cx="233.8" cy="382" r="2.4"/><circle cx="257.7" cy="290.3" r="2.4"/>
<circle cx="242.8" cy="287.3" r="2.4"/><circle cx="468" cy="287.4" r="2.4"/><circle cx="300" cy="335.3" r="2.4"/><circle cx="266.7" cy="409.1" r="2.4"/><circle cx="445.2" cy="356.4" r="2.4"/><circle cx="182" cy="363.8" r="2.4"/><circle cx="429.5" cy="405.2" r="2.4"/><circle cx="322.4" cy="453" r="2.4"/><circle cx="271.7" cy="294.8" r="2.4"/><circle cx="361.4" cy="403.3" r="2.4"/><circle cx="213.6" cy="291.8" r="2.4"/><circle cx="214.7" cy="290.6" r="2.4"/>
<circle cx="369.1" cy="384.3" r="2.4"/><circle cx="315.3" cy="304.4" r="2.4"/><circle cx="160.6" cy="429.6" r="2.4"/><circle cx="319.1" cy="325.1" r="2.4"/><circle cx="421.1" cy="336.6" r="2.4"/><circle cx="297.5" cy="350.6" r="2.4"/><circle cx="376.5" cy="343.8" r="2.4"/><circle cx="350.7" cy="401.7" r="2.4"/><circle cx="217" cy="356.6" r="2.4"/><circle cx="170.6" cy="409.2" r="2.4"/><circle cx="352.4" cy="388.2" r="2.4"/><circle cx="536.7" cy="310.4" r="2.4"/>
<circle cx="298.1" cy="375.6" r="2.4"/><circle cx="393.3" cy="388.2" r="2.4"/><circle cx="316.8" cy="410.8" r="2.4"/><circle cx="426.2" cy="286.2" r="2.4"/><circle cx="434.6" cy="347.5" r="2.4"/><circle cx="262.4" cy="374" r="2.4"/><circle cx="320.9" cy="281" r="2.4"/><circle cx="392.2" cy="378.1" r="2.4"/><circle cx="337.6" cy="423.4" r="2.4"/><circle cx="346" cy="405.4" r="2.4"/><circle cx="287.3" cy="313" r="2.4"/><circle cx="177.4" cy="368.3" r="2.4"/>
<circle cx="360.3" cy="300.6" r="2.4"/><circle cx="444.5" cy="333.8" r="2.4"/><circle cx="368.1" cy="348.6" r="2.4"/><circle cx="196.2" cy="385.2" r="2.4"/><circle cx="177.9" cy="381.6" r="2.4"/><circle cx="459.1" cy="325.2" r="2.4"/><circle cx="323.2" cy="330.4" r="2.4"/><circle cx="254.8" cy="367.6" r="2.4"/><circle cx="383.9" cy="422.7" r="2.4"/><circle cx="215.9" cy="323" r="2.4"/><circle cx="401.7" cy="344.9" r="2.4"/><circle cx="408.2" cy="416.6" r="2.4"/>
<circle cx="375.8" cy="315.6" r="2.4"/><circle cx="404.8" cy="306.1" r="2.4"/><circle cx="342.6" cy="343" r="2.4"/><circle cx="327.6" cy="448.1" r="2.4"/><circle cx="162.1" cy="380.6" r="2.4"/><circle cx="167.9" cy="365.1" r="2.4"/><circle cx="352.7" cy="300.6" r="2.4"/><circle cx="341.6" cy="357.8" r="2.4"/><circle cx="390.8" cy="264.9" r="2.4"/><circle cx="193.8" cy="386.6" r="2.4"/><circle cx="410.1" cy="376.4" r="2.4"/><circle cx="435.8" cy="386.8" r="2.4"/>
<circle cx="197.2" cy="363.9" r="2.4"/><circle cx="296" cy="375.7" r="2.4"/><circle cx="393.7" cy="381.1" r="2.4"/><circle cx="310.4" cy="312.5" r="2.4"/><circle cx="166.8" cy="454.1" r="2.4"/><circle cx="189" cy="330.9" r="2.4"/><circle cx="251.6" cy="336.8" r="2.4"/><circle cx="289.9" cy="291.6" r="2.4"/><circle cx="437" cy="303.2" r="2.4"/><circle cx="199" cy="396.8" r="2.4"/><circle cx="378.6" cy="374.8" r="2.4"/><circle cx="208.7" cy="446.2" r="2.4"/>
<circle cx="310.9" cy="377.8" r="2.4"/><circle cx="175.8" cy="344.7" r="2.4"/><circle cx="281.9" cy="274.4" r="2.4"/><circle cx="292.8" cy="318.8" r="2.4"/><circle cx="324.3" cy="407" r="2.4"/><circle cx="299.3" cy="315.1" r="2.4"/><circle cx="334.6" cy="316.5" r="2.4"/><circle cx="438.2" cy="378.8" r="2.4"/><circle cx="365.2" cy="343.5" r="2.4"/><circle cx="431" cy="386.6" r="2.4"/><circle cx="278.5" cy="343.5" r="2.4"/><circle cx="371.1" cy="299.7" r="2.4"/>
<circle cx="364.2" cy="346.9" r="2.4"/><circle cx="478.7" cy="308.2" r="2.4"/><circle cx="351.7" cy="345.1" r="2.4"/><circle cx="293.8" cy="288.3" r="2.4"/><circle cx="271.1" cy="374.3" r="2.4"/><circle cx="468.2" cy="342.1" r="2.4"/><circle cx="374.1" cy="317.6" r="2.4"/><circle cx="315.4" cy="388.4" r="2.4"/><circle cx="255.4" cy="333.9" r="2.4"/><circle cx="276" cy="297.2" r="2.4"/><circle cx="262.2" cy="446.5" r="2.4"/><circle cx="359.7" cy="284.7" r="2.4"/>
<circle cx="160.5" cy="315.4" r="2.4"/><circle cx="349.4" cy="352.2" r="2.4"/><circle cx="373.4" cy="292.2" r="2.4"/><circle cx="445.1" cy="332.1" r="2.4"/><circle cx="258.8" cy="376.3" r="2.4"/><circle cx="359.5" cy="354.3" r="2.4"/><circle cx="253.9" cy="402.9" r="2.4"/><circle cx="375" cy="324.7" r="2.4"/><circle cx="261.8" cy="304.9" r="2.4"/><circle cx="248.8" cy="342.7" r="2.4"/><circle cx="234.6" cy="378.1" r="2.4"/><circle cx="179.1" cy="365.9" r="2.4"/>
<circle cx="276.5" cy="291.7" r="2.4"/><circle cx="178.8" cy="436.2" r="2.4"/><circle cx="235.4" cy="409.7" r="2.4"/><circle cx="275.5" cy="281.7" r="2.4"/><circle cx="210.5" cy="365.5" r="2.4"/><circle cx="176.7" cy="401.8" r="2.4"/><circle cx="427.5" cy="376.2" r="2.4"/><circle cx="199.5" cy="434" r="2.4"/><circle cx="205.3" cy="441.8" r="2.4"/><circle cx="216.6" cy="312.2" r="2.4"/><circle cx="184.2" cy="430" r="2.4"/><circle cx="312.7" cy="393.5" r="2.4"/>
<circle cx="436.5" cy="337.3" r="2.4"/><circle cx="214.9" cy="328.2" r="2.4"/><circle cx="160.8" cy="432.7" r="2.4"/><circle cx="333.2" cy="334.4" r="2.4"/><circle cx="253.5" cy="406.6" r="2.4"/><circle cx="156.4" cy="450.1" r="2.4"/><circle cx="343.9" cy="276.8" r="2.4"/><circle cx="317.3" cy="338.9" r="2.4"/><circle cx="393.3" cy="322.8" r="2.4"/><circle cx="345.4" cy="341.4" r="2.4"/><circle cx="304.9" cy="411.8" r="2.4"/><circle cx="487.1" cy="361" r="2.4"/>
<circle cx="225" cy="337" r="2.4"/><circle cx="297" cy="328.8" r="2.4"/><circle cx="153.7" cy="317.3" r="2.4"/><circle cx="225.8" cy="390.2" r="2.4"/><circle cx="309.5" cy="432.6" r="2.4"/><circle cx="424.1" cy="338.1" r="2.4"/><circle cx="238.5" cy="331.6" r="2.4"/><circle cx="269.7" cy="461.8" r="2.4"/><circle cx="369.9" cy="313.2" r="2.4"/><circle cx="444.7" cy="305.1" r="2.4"/><circle cx="350" cy="332.2" r="2.4"/><circle cx="229.4" cy="322.4" r="2.4"/>
<circle cx="519.7" cy="282.5" r="2.4"/><circle cx="408.4" cy="290.4" r="2.4"/><circle cx="302" cy="341.2" r="2.4"/><circle cx="264.9" cy="355.1" r="2.4"/><circle cx="215.8" cy="371.3" r="2.4"/><circle cx="367.9" cy="279.9" r="2.4"/><circle cx="403.9" cy="321.7" r="2.4"/><circle cx="355.5" cy="307.2" r="2.4"/><circle cx="338.9" cy="289.5" r="2.4"/><circle cx="266.3" cy="424.4" r="2.4"/><circle cx="412.7" cy="335.7" r="2.4"/><circle cx="220.3" cy="295.4" r="2.4"/>
<circle cx="426" cy="294.1" r="2.4"/><circle cx="378.5" cy="312.3" r="2.4"/><circle cx="199.7" cy="450.1" r="2.4"/><circle cx="416.3" cy="343.3" r="2.4"/><circle cx="164.5" cy="321.7" r="2.4"/><circle cx="217.9" cy="464.2" r="2.4"/><circle cx="264.6" cy="342" r="2.4"/><circle cx="373.7" cy="411.1" r="2.4"/><circle cx="445.7" cy="389.8" r="2.4"/><circle cx="322.2" cy="360" r="2.4"/><circle cx="236.1" cy="434.5" r="2.4"/><circle cx="418" cy="263.7" r="2.4"/>
<circle cx="303.1" cy="280.6" r="2.4"/><circle cx="188.1" cy="447.2" r="2.4"/><circle cx="309.6" cy="313.2" r="2.4"/><circle cx="378.2" cy="440.5" r="2.4"/><circle cx="214.9" cy="436.7" r="2.4"/><circle cx="189" cy="421.9" r="2.4"/><circle cx="434" cy="336.8" r="2.4"/><circle cx="344.2" cy="290.7" r="2.4"/><circle cx="365.9" cy="381.3" r="2.4"/><circle cx="468.6" cy="261.8" r="2.4"/><circle cx="389.4" cy="319.1" r="2.4"/><circle cx="162.7" cy="313.1" r="2.4"/>
<circle cx="425.4" cy="309.8" r="2.4"/><circle cx="450.9" cy="324.9" r="2.4"/><circle cx="274.3" cy="462.2" r="2.4"/><circle cx="476" cy="331.2" r="2.4"/><circle cx="164.4" cy="357.3" r="2.4"/><circle cx="271.6" cy="337.9" r="2.4"/><circle cx="473.1" cy="326.9" r="2.4"/><circle cx="248.9" cy="365.8" r="2.4"/><circle cx="366.7" cy="387.2" r="2.4"/><circle cx="225.9" cy="344.7" r="2.4"/><circle cx="380.6" cy="316.4" r="2.4"/><circle cx="163.3" cy="381.4" r="2.4"/>
<circle cx="390.1" cy="331.8" r="2.4"/><circle cx="410.3" cy="313.9" r="2.4"/><circle cx="277.9" cy="321.5" r="2.4"/><circle cx="193" cy="298.8" r="2.4"/><circle cx="175.8" cy="333.2" r="2.4"/><circle cx="394.1" cy="374.8" r="2.4"/><circle cx="152.9" cy="419.5" r="2.4"/><circle cx="238.8" cy="356.7" r="2.4"/><circle cx="262.8" cy="333.3" r="2.4"/><circle cx="446" cy="406.6" r="2.4"/><circle cx="380.5" cy="307.5" r="2.4"/><circle cx="318.5" cy="453.3" r="2.4"/>
<circle cx="355.1" cy="427.2" r="2.4"/><circle cx="385.9" cy="330.3" r="2.4"/><circle cx="347.2" cy="375.8" r="2.4"/><circle cx="324.6" cy="358.9" r="2.4"/><circle cx="151.7" cy="393.1" r="2.4"/><circle cx="401.4" cy="396.8" r="2.4"/><circle cx="262.5" cy="390.1" r="2.4"/><circle cx="251" cy="331.1" r="2.4"/><circle cx="345.1" cy="319" r="2.4"/><circle cx="374.5" cy="338.5" r="2.4"/><circle cx="457.9" cy="265.5" r="2.4"/><circle cx="511.2" cy="267.1" r="2.4"/>
<circle cx="328.5" cy="280.2" r="2.4"/><circle cx="389.6" cy="315.5" r="2.4"/><circle cx="223.7" cy="337.8" r="2.4"/><circle cx="298.5" cy="287.9" r="2.4"/><circle cx="258.1" cy="373.9" r="2.4"/><circle cx="210.1" cy="431.1" r="2.4"/><circle cx="333.8" cy="353.6" r="2.4"/><circle cx="202.2" cy="286.6" r="2.4"/><circle cx="168.4" cy="300" r="2.4"/><circle cx="263" cy="345.8" r="2.4"/><circle cx="155.4" cy="432.1" r="2.4"/><circle cx="270.1" cy="322" r="2.4"/>
<circle cx="417.2" cy="326.9" r="2.4"/><circle cx="277.3" cy="358.5" r="2.4"/><circle cx="208.1" cy="351.1" r="2.4"/><circle cx="242.9" cy="349.7" r="2.4"/><circle cx="192.3" cy="403.3" r="2.4"/><circle cx="189" cy="439.6" r="2.4"/><circle cx="221.7" cy="369" r="2.4"/><circle cx="274.4" cy="341.9" r="2.4"/><circle cx="393.3" cy="372.6" r="2.4"/><circle cx="356.9" cy="352.2" r="2.4"/><circle cx="436" cy="316" r="2.4"/><circle cx="248.7" cy="410.4" r="2.4"/>
<circle cx="412.5" cy="304.8" r="2.4"/><circle cx="520.4" cy="261.2" r="2.4"/><circle cx="446.4" cy="297.8" r="2.4"/><circle cx="314.8" cy="300.5" r="2.4"/><circle cx="169" cy="407.7" r="2.4"/><circle cx="228.7" cy="446.7" r="2.4"/><circle cx="320" cy="357.1" r="2.4"/><circle cx="258.4" cy="379.5" r="2.4"/><circle cx="417.5" cy="360.6" r="2.4"/><circle cx="221.3" cy="353.9" r="2.4"/><circle cx="300.4" cy="374.5" r="2.4"/><circle cx="234.5" cy="375.8" r="2.4"/>
<circle cx="385.3" cy="262.1" r="2.4"/><circle cx="439.5" cy="312.7" r="2.4"/><circle cx="399.4" cy="297.5" r="2.4"/><circle cx="211.7" cy="353.3" r="2.4"/><circle cx="175.8" cy="440.2" r="2.4"/><circle cx="259.8" cy="333" r="2.4"/><circle cx="221.2" cy="398" r="2.4"/><circle cx="388.6" cy="312.9" r="2.4"/><circle cx="256.7" cy="400.5" r="2.4"/><circle cx="184.1" cy="464.1" r="2.4"/><circle cx="207.9" cy="340.3" r="2.4"/><circle cx="317.8" cy="271.7" r="2.4"/>
<circle cx="373.2" cy="371" r="2.4"/><circle cx="361.7" cy="389.7" r="2.4"/><circle cx="298.9" cy="320.6" r="2.4"/><circle cx="479.6" cy="360.5" r="2.4"/><circle cx="227" cy="322.7" r="2.4"/><circle cx="222.6" cy="317.1" r="2.4"/><circle cx="166.9" cy="487.7" r="2.4"/><circle cx="193.6" cy="487.7" r="2.4"/><circle cx="215.9" cy="487.7" r="2.4"/><circle cx="313.4" cy="487.7" r="2.4"/><circle cx="140.2" cy="367.9" r="2.4"/><circle cx="150.1" cy="437.8" r="2.4"/>
<circle cx="142.1" cy="408.2" r="2.4"/><circle cx="143.2" cy="351.7" r="2.4"/><circle cx="142.8" cy="438.2" r="2.4"/><circle cx="144.8" cy="333.9" r="2.4"/><circle cx="148.8" cy="463.1" r="2.4"/><circle cx="141.4" cy="474.4" r="2.4"/><circle cx="148.3" cy="369.6" r="2.4"/><circle cx="141.7" cy="434.2" r="2.4"/><circle cx="150.6" cy="474.8" r="2.4"/><circle cx="149.1" cy="339.3" r="2.4"/><circle cx="148.1" cy="428" r="2.4"/><circle cx="149.2" cy="323" r="2.4"/>
<circle cx="509" cy="429.3" r="2.4"/><circle cx="541.3" cy="257.9" r="2.4"/><circle cx="547.5" cy="273.4" r="2.4"/><circle cx="536.4" cy="285.9" r="2.4"/><circle cx="542.6" cy="290.8" r="2.4"/><circle cx="533.9" cy="334.3" r="2.4"/><circle cx="527.7" cy="340.5" r="2.4"/><circle cx="520.8" cy="337.4" r="2.4"/><circle cx="515.2" cy="339.3" r="2.4"/><circle cx="513.4" cy="270.3" r="2.4"/><circle cx="528.9" cy="274.1" r="2.4"/><circle cx="189.2" cy="272.2" r="2.4"/>
<circle cx="153.2" cy="283.4" r="2.4"/><circle cx="242" cy="475.9" r="2.4"/><circle cx="187.4" cy="472.8" r="2.4"/><circle cx="336.4" cy="466.6" r="2.4"/><circle cx="370.5" cy="467.8" r="2.4"/><circle cx="215.3" cy="464.7" r="2.4"/><circle cx="292.9" cy="463.5" r="2.4"/><circle cx="491.6" cy="372.8" r="2.4"/><circle cx="480.5" cy="403.9" r="2.4"/>
</g>
<path class="d" d="M155.8 25V520.6"/>
<path class="d" d="M94.2 458.5H589.5"/>
<path d="M127.1 482.5L357.1 290" stroke="#0000f6" stroke-width="4.2" stroke-linecap="round" fill="none"/>
<path class="ax" d="M69.5 23.8V520.6M69.5 520.6h-4.3M69.5 458.5h-4.3M69.5 396.4h-4.3M69.5 334.3h-4.3M69.5 272.2h-4.3M69.5 210.1h-4.3M69.5 148h-4.3M69.5 85.9h-4.3M69.5 23.8h-4.3M94.2 545.5H591M94.2 545.5v4.3M156.3 545.5v4.3M218.4 545.5v4.3M280.5 545.5v4.3M342.6 545.5v4.3M404.7 545.5v4.3M466.8 545.5v4.3M528.9 545.5v4.3M591 545.5v4.3"/>
<text class="t" x="60.1" y="525.4" text-anchor="end">−1</text>
<text class="t" x="94.2" y="564.5" text-anchor="middle">−1</text>
<text class="t" x="60.1" y="463.3" text-anchor="end">0</text>
<text class="t" x="156.3" y="564.5" text-anchor="middle">0</text>
<text class="t" x="60.1" y="401.2" text-anchor="end">1</text>
<text class="t" x="218.4" y="564.5" text-anchor="middle">1</text>
<text class="t" x="60.1" y="339.1" text-anchor="end">2</text>
<text class="t" x="280.5" y="564.5" text-anchor="middle">2</text>
<text class="t" x="60.1" y="277" text-anchor="end">3</text>
<text class="t" x="342.6" y="564.5" text-anchor="middle">3</text>
<text class="t" x="60.1" y="214.9" text-anchor="end">4</text>
<text class="t" x="404.7" y="564.5" text-anchor="middle">4</text>
<text class="t" x="60.1" y="152.8" text-anchor="end">5</text>
<text class="t" x="466.8" y="564.5" text-anchor="middle">5</text>
<text class="t" x="60.1" y="90.7" text-anchor="end">6</text>
<text class="t" x="528.9" y="564.5" text-anchor="middle">6</text>
<text class="t" x="60.1" y="28.6" text-anchor="end">7</text>
<text class="t" x="591" y="564.5" text-anchor="middle">7</text>
<text class="l" x="342.7" y="581" text-anchor="middle">Hash rate</text>
<text class="l" transform="translate(32 273) rotate(-90)" text-anchor="middle">Spatial lag of capacity</text>
<text class="h" x="939" y="16.2" text-anchor="middle">Reference Distribution</text>
<path d="M714.5 519.5C714.78 519.3 715.68 519.11 716.2 518.32C716.72 517.53 717.15 516.16 717.6 514.78C718.05 513.4 718.37 512.52 718.9 510.06C719.43 507.6 720.07 504.16 720.8 500.03C721.53 495.9 722.6 489.51 723.3 485.28C724 481.05 724.5 478.79 725 474.66C725.5 470.53 725.58 472.69 726.3 460.5C727.02 448.31 728.6 421.17 729.3 401.5C730 381.83 730.18 359.41 730.5 342.5C730.82 325.59 730.82 319.69 731.2 300.02C731.58 280.35 732.28 246.92 732.8 224.5C733.32 202.08 733.63 185.17 734.3 165.5C734.97 145.83 736.07 121.64 736.8 106.5C737.53 91.36 738.12 83.1 738.7 74.64C739.28 66.18 739.88 60.28 740.3 55.76C740.72 51.24 740.93 47.5 741.25 47.5C741.57 47.5 741.86 51.24 742.2 55.76C742.54 60.28 742.92 66.18 743.3 74.64C743.68 83.1 743.97 91.36 744.5 106.5C745.03 121.64 745.92 145.83 746.5 165.5C747.08 185.17 747.42 202.08 748 224.5C748.58 246.92 749.53 280.35 750 300.02C750.47 319.69 750.42 325.59 750.8 342.5C751.18 359.41 751.6 381.83 752.3 401.5C753 421.17 754.33 448.31 755 460.5C755.67 472.69 755.87 470.53 756.3 474.66C756.73 478.79 757.05 481.05 757.6 485.28C758.15 489.51 758.97 495.9 759.6 500.03C760.23 504.16 760.77 507.6 761.4 510.06C762.03 512.52 762.82 513.4 763.4 514.78C763.98 516.16 764.43 517.53 764.9 518.32C765.37 519.11 765.68 519.46 766.2 519.5C766.72 519.54 767.37 518.87 768 518.56C768.63 518.24 769.33 517.61 770 517.61C770.67 517.61 771.17 518.24 772 518.56C772.83 518.87 774.5 519.34 775 519.5Z" fill="#ececec" stroke="none"/>
<path d="M714.5 519.5C714.78 519.3 715.68 519.11 716.2 518.32C716.72 517.53 717.15 516.16 717.6 514.78C718.05 513.4 718.37 512.52 718.9 510.06C719.43 507.6 720.07 504.16 720.8 500.03C721.53 495.9 722.6 489.51 723.3 485.28C724 481.05 724.5 478.79 725 474.66C725.5 470.53 725.58 472.69 726.3 460.5C727.02 448.31 728.6 421.17 729.3 401.5C730 381.83 730.18 359.41 730.5 342.5C730.82 325.59 730.82 319.69 731.2 300.02C731.58 280.35 732.28 246.92 732.8 224.5C733.32 202.08 733.63 185.17 734.3 165.5C734.97 145.83 736.07 121.64 736.8 106.5C737.53 91.36 738.12 83.1 738.7 74.64C739.28 66.18 739.88 60.28 740.3 55.76C740.72 51.24 740.93 47.5 741.25 47.5C741.57 47.5 741.86 51.24 742.2 55.76C742.54 60.28 742.92 66.18 743.3 74.64C743.68 83.1 743.97 91.36 744.5 106.5C745.03 121.64 745.92 145.83 746.5 165.5C747.08 185.17 747.42 202.08 748 224.5C748.58 246.92 749.53 280.35 750 300.02C750.47 319.69 750.42 325.59 750.8 342.5C751.18 359.41 751.6 381.83 752.3 401.5C753 421.17 754.33 448.31 755 460.5C755.67 472.69 755.87 470.53 756.3 474.66C756.73 478.79 757.05 481.05 757.6 485.28C758.15 489.51 758.97 495.9 759.6 500.03C760.23 504.16 760.77 507.6 761.4 510.06C762.03 512.52 762.82 513.4 763.4 514.78C763.98 516.16 764.43 517.53 764.9 518.32C765.37 519.11 765.68 519.46 766.2 519.5C766.72 519.54 767.37 518.87 768 518.56C768.63 518.24 769.33 517.61 770 517.61C770.67 517.61 771.17 518.24 772 518.56C772.83 518.87 774.5 519.34 775 519.5" fill="none" stroke="#ababab" stroke-width="1.2" stroke-linejoin="round"/>
<path d="M714.5 519.5H775" stroke="#c4c4c4" stroke-width=".8"/>
<path d="M740.5 507.5V519.5" stroke="#1f6fb4" stroke-width="2.1"/>
<rect x="1162.2" y="507.5" width="4" height="11.6" fill="#0000f6"/>
<path class="ax" d="M667.5 24V519.5M667.5 519.5h-4.3M667.5 460.5h-4.3M667.5 401.5h-4.3M667.5 342.5h-4.3M667.5 283.5h-4.3M667.5 224.5h-4.3M667.5 165.5h-4.3M667.5 106.5h-4.3M667.5 47.5h-4.3M692 544.3H1186.8M740.5 544.3v4.3M812.8 544.3v4.3M885 544.3v4.3M957.3 544.3v4.3M1029.6 544.3v4.3M1101.8 544.3v4.3M1174.1 544.3v4.3"/>
<text class="t" x="658.1" y="524.3" text-anchor="end">0</text>
<text class="t" x="658.1" y="465.3" text-anchor="end">5</text>
<text class="t" x="658.1" y="406.3" text-anchor="end">10</text>
<text class="t" x="658.1" y="347.3" text-anchor="end">15</text>
<text class="t" x="658.1" y="288.3" text-anchor="end">20</text>
<text class="t" x="658.1" y="229.3" text-anchor="end">25</text>
<text class="t" x="658.1" y="170.3" text-anchor="end">30</text>
<text class="t" x="658.1" y="111.3" text-anchor="end">35</text>
<text class="t" x="658.1" y="52.3" text-anchor="end">40</text>
<text class="t" x="740.5" y="563" text-anchor="middle">0.0</text>
<text class="t" x="812.8" y="563" text-anchor="middle">0.1</text>
<text class="t" x="885" y="563" text-anchor="middle">0.2</text>
<text class="t" x="957.3" y="563" text-anchor="middle">0.3</text>
<text class="t" x="1029.6" y="563" text-anchor="middle">0.4</text>
<text class="t" x="1101.8" y="563" text-anchor="middle">0.5</text>
<text class="t" x="1174.1" y="563" text-anchor="middle">0.6</text>
<text class="l" x="939" y="580.5" text-anchor="middle">Bivariate Moran I: 0.59</text>
<text class="l" transform="translate(632.7 273.2) rotate(-90)" text-anchor="middle">Density</text>
</g>
<g>
<text class="tag" x="1.7" y="632.1">(b)</text>
<text class="h" x="341.5" y="623.3" text-anchor="middle">Moran’s I: 0.57</text>
<g class="p">
<circle cx="136" cy="1093.7" r="2.4"/><circle cx="136" cy="1092.9" r="2.4"/><circle cx="135.5" cy="1092.2" r="2.4"/><circle cx="136" cy="1091.5" r="2.4"/><circle cx="136" cy="1090.7" r="2.4"/><circle cx="136.3" cy="1090" r="2.4"/><circle cx="136.1" cy="1089.2" r="2.4"/><circle cx="135.9" cy="1088.5" r="2.4"/><circle cx="135.7" cy="1087.7" r="2.4"/><circle cx="136.1" cy="1087" r="2.4"/><circle cx="136.1" cy="1086.2" r="2.4"/><circle cx="136" cy="1085.5" r="2.4"/><circle cx="135.8" cy="1084.8" r="2.4"/><circle cx="136.2" cy="1084" r="2.4"/><circle cx="136" cy="1083.3" r="2.4"/><circle cx="136" cy="1082.5" r="2.4"/><circle cx="135.6" cy="1081.8" r="2.4"/><circle cx="136.4" cy="1081" r="2.4"/><circle cx="135.8" cy="1080.3" r="2.4"/><circle cx="135.6" cy="1079.5" r="2.4"/><circle cx="136.1" cy="1078.8" r="2.4"/><circle cx="136" cy="1078" r="2.4"/><circle cx="136.3" cy="1077.3" r="2.4"/><circle cx="135.6" cy="1076.6" r="2.4"/><circle cx="136.3" cy="1075.8" r="2.4"/><circle cx="136.6" cy="1075.1" r="2.4"/><circle cx="136.2" cy="1074.3" r="2.4"/><circle cx="135.8" cy="1073.6" r="2.4"/><circle cx="136" cy="1072.8" r="2.4"/><circle cx="136.4" cy="1072.1" r="2.4"/><circle cx="136.1" cy="1071.3" r="2.4"/><circle cx="136.3" cy="1070.6" r="2.4"/><circle cx="135.7" cy="1069.8" r="2.4"/><circle cx="135.6" cy="1069.1" r="2.4"/><circle cx="135.8" cy="1068.4" r="2.4"/><circle cx="135.9" cy="1067.6" r="2.4"/><circle cx="136.2" cy="1066.9" r="2.4"/><circle cx="135.9" cy="1066.1" r="2.4"/><circle cx="136.2" cy="1065.4" r="2.4"/><circle cx="135.8" cy="1064.6" r="2.4"/><circle cx="135.9" cy="1063.9" r="2.4"/><circle cx="135.7" cy="1063.1" r="2.4"/><circle cx="136.2" cy="1062.4" r="2.4"/><circle cx="136.1" cy="1061.7" r="2.4"/><circle cx="136" cy="1060.9" r="2.4"/><circle cx="136.3" cy="1060.2" r="2.4"/><circle cx="136.1" cy="1059.4" r="2.4"/><circle cx="136.1" cy="1058.7" r="2.4"/><circle cx="135.8" cy="1057.9" r="2.4"/><circle cx="136.2" cy="1057.2" r="2.4"/><circle cx="136.1" cy="1056.4" r="2.4"/><circle cx="136.2" cy="1055.7" r="2.4"/><circle cx="136" cy="1054.9" r="2.4"/><circle cx="135.8" cy="1054.2" r="2.4"/><circle cx="135.8" cy="1053.5" r="2.4"/><circle cx="136.4" cy="1052.7" r="2.4"/><circle cx="135.6" cy="1052" r="2.4"/><circle cx="135.7" cy="1051.2" r="2.4"/><circle cx="135.9" cy="1050.5" r="2.4"/><circle cx="136.3" cy="1049.7" r="2.4"/><circle cx="136.2" cy="1049" r="2.4"/><circle cx="135.8" cy="1048.2" r="2.4"/><circle cx="135.8" cy="1047.5" r="2.4"/><circle cx="135.7" cy="1046.7" r="2.4"/><circle cx="136.3" cy="1046" r="2.4"/><circle cx="135.4" cy="1045.3" r="2.4"/><circle cx="135.8" cy="1044.5" r="2.4"/><circle cx="135.4" cy="1043.8" r="2.4"/><circle cx="136.2" cy="1043" r="2.4"/><circle cx="135.6" cy="1042.3" r="2.4"/><circle cx="135.7" cy="1041.5" r="2.4"/><circle cx="135.7" cy="1040.8" r="2.4"/><circle cx="135.8" cy="1040" r="2.4"/><circle cx="136.1" cy="1039.3" r="2.4"/><circle cx="135.3" cy="1038.6" r="2.4"/><circle cx="136.1" cy="1037.8" r="2.4"/><circle cx="136" cy="1037.1" r="2.4"/><circle cx="136" cy="1036.3" r="2.4"/><circle cx="136" cy="1035.6" r="2.4"/><circle cx="136.1" cy="1034.8" r="2.4"/><circle cx="136.1" cy="1034.1" r="2.4"/><circle cx="136.5" cy="1033.3" r="2.4"/><circle cx="135.8" cy="1032.6" r="2.4"/><circle cx="135.6" cy="1031.8" r="2.4"/><circle cx="136" cy="1031.1" r="2.4"/><circle cx="136.1" cy="1030.4" r="2.4"/><circle cx="135.7" cy="1029.6" r="2.4"/><circle cx="135.9" cy="1028.9" r="2.4"/><circle cx="135.7" cy="1028.1" r="2.4"/><circle cx="135.8" cy="1027.4" r="2.4"/><circle cx="136" cy="1026.6" r="2.4"/><circle cx="135.9" cy="1025.9" r="2.4"/><circle cx="136.1" cy="1025.1" r="2.4"/><circle cx="135.9" cy="1024.4" r="2.4"/><circle cx="135.9" cy="1023.6" r="2.4"/><circle cx="135.5" cy="1022.9" r="2.4"/><circle cx="135.9" cy="1022.2" r="2.4"/><circle cx="136.1" cy="1021.4" r="2.4"/><circle cx="136.2" cy="1020.7" r="2.4"/><circle cx="136" cy="1019.9" r="2.4"/><circle cx="135.8" cy="1019.2" r="2.4"/><circle cx="135.9" cy="1018.4" r="2.4"/><circle cx="135.6" cy="1017.7" r="2.4"/><circle cx="135.7" cy="1016.9" r="2.4"/><circle cx="135.9" cy="1016.2" r="2.4"/><circle cx="135.8" cy="1015.4" r="2.4"/><circle cx="135.8" cy="1014.7" r="2.4"/><circle cx="135.8" cy="1014" r="2.4"/><circle cx="136" cy="1013.2" r="2.4"/><circle cx="135.8" cy="1012.5" r="2.4"/><circle cx="136" cy="1011.7" r="2.4"/><circle cx="136" cy="1011" r="2.4"/><circle cx="135.9" cy="1010.2" r="2.4"/><circle cx="136.1" cy="1009.5" r="2.4"/><circle cx="135.8" cy="1008.7" r="2.4"/><circle cx="136.1" cy="1008" r="2.4"/><circle cx="135.7" cy="1007.3" r="2.4"/><circle cx="135.9" cy="1006.5" r="2.4"/><circle cx="136" cy="1005.8" r="2.4"/><circle cx="136.3" cy="1005" r="2.4"/><circle cx="135.9" cy="1004.3" r="2.4"/><circle cx="136.1" cy="1003.5" r="2.4"/><circle cx="135.9" cy="1002.8" r="2.4"/><circle cx="136" cy="1002" r="2.4"/><circle cx="136.1" cy="1001.3" r="2.4"/><circle cx="135.9" cy="1000.5" r="2.4"/><circle cx="136" cy="999.8" r="2.4"/><circle cx="136.1" cy="999.1" r="2.4"/><circle cx="136.2" cy="998.3" r="2.4"/><circle cx="136.4" cy="997.6" r="2.4"/><circle cx="136.1" cy="996.8" r="2.4"/><circle cx="135.9" cy="996.1" r="2.4"/><circle cx="135.9" cy="995.3" r="2.4"/><circle cx="135.8" cy="994.6" r="2.4"/><circle cx="136.1" cy="993.8" r="2.4"/><circle cx="136" cy="993.1" r="2.4"/><circle cx="136" cy="992.3" r="2.4"/><circle cx="136.1" cy="991.6" r="2.4"/><circle cx="136" cy="990.9" r="2.4"/><circle cx="136.1" cy="990.1" r="2.4"/><circle cx="136" cy="989.4" r="2.4"/><circle cx="136.1" cy="988.6" r="2.4"/><circle cx="136.1" cy="987.9" r="2.4"/><circle cx="136.3" cy="987.1" r="2.4"/><circle cx="136.4" cy="986.4" r="2.4"/><circle cx="136" cy="985.6" r="2.4"/><circle cx="136.1" cy="984.9" r="2.4"/><circle cx="136.2" cy="984.2" r="2.4"/><circle cx="135.9" cy="983.4" r="2.4"/><circle cx="136" cy="982.7" r="2.4"/><circle cx="136.2" cy="981.9" r="2.4"/><circle cx="135.9" cy="980.4" r="2.4"/><circle cx="135.7" cy="978.7" r="2.4"/><circle cx="136" cy="977.1" r="2.4"/><circle cx="136.1" cy="975.6" r="2.4"/><circle cx="136.5" cy="974.4" r="2.4"/><circle cx="136.4" cy="972.9" r="2.4"/><circle cx="135.4" cy="971.1" r="2.4"/><circle cx="135.5" cy="970.1" r="2.4"/><circle cx="136.1" cy="969.2" r="2.4"/><circle cx="136.1" cy="967" r="2.4"/><circle cx="136.2" cy="966.1" r="2.4"/><circle cx="135.7" cy="965.3" r="2.4"/><circle cx="136.1" cy="962.9" r="2.4"/><circle cx="135.8" cy="961" r="2.4"/><circle cx="134.7" cy="959.7" r="2.4"/><circle cx="135.7" cy="958.7" r="2.4"/><circle cx="137" cy="957.4" r="2.4"/><circle cx="136.2" cy="956.2" r="2.4"/><circle cx="136" cy="954" r="2.4"/><circle cx="135.4" cy="951.9" r="2.4"/><circle cx="136" cy="949.6" r="2.4"/><circle cx="136.2" cy="948.3" r="2.4"/><circle cx="136.6" cy="946.3" r="2.4"/><circle cx="135.7" cy="943.6" r="2.4"/><circle cx="136.2" cy="941.3" r="2.4"/><circle cx="136" cy="940" r="2.4"/><circle cx="135.3" cy="938.9" r="2.4"/><circle cx="135.6" cy="935.5" r="2.4"/><circle cx="136.3" cy="933.7" r="2.4"/><circle cx="135.7" cy="930.9" r="2.4"/><circle cx="136.4" cy="930" r="2.4"/><circle cx="135.9" cy="928.3" r="2.4"/><circle cx="135.8" cy="924.6" r="2.4"/><circle cx="135.9" cy="922.3" r="2.4"/><circle cx="135.9" cy="920.8" r="2.4"/><circle cx="135.6" cy="918.8" r="2.4"/><circle cx="135.9" cy="916.7" r="2.4"/><circle cx="136.5" cy="912.3" r="2.4"/><circle cx="136.3" cy="908.7" r="2.4"/><circle cx="136" cy="904.4" r="2.4"/><circle cx="136.5" cy="900.4" r="2.4"/><circle cx="136.4" cy="897.2" r="2.4"/><circle cx="136.6" cy="893.4" r="2.4"/><circle cx="136.2" cy="892" r="2.4"/><circle cx="135.4" cy="889.1" r="2.4"/><circle cx="135.7" cy="884.2" r="2.4"/><circle cx="135.8" cy="879.1" r="2.4"/><circle cx="136" cy="874.7" r="2.4"/><circle cx="135.9" cy="873.2" r="2.4"/>
<circle cx="384.8" cy="1004" r="2.4"/><circle cx="184.6" cy="969.8" r="2.4"/><circle cx="410.9" cy="941.3" r="2.4"/><circle cx="184.6" cy="999.5" r="2.4"/><circle cx="221.3" cy="997.7" r="2.4"/><circle cx="296.9" cy="890.1" r="2.4"/><circle cx="216.8" cy="1034.3" r="2.4"/><circle cx="299.8" cy="918.2" r="2.4"/><circle cx="359.9" cy="949.7" r="2.4"/><circle cx="313.9" cy="909.6" r="2.4"/><circle cx="368.2" cy="939.9" r="2.4"/><circle cx="181.7" cy="1024.7" r="2.4"/>
<circle cx="434.8" cy="902" r="2.4"/><circle cx="340.6" cy="910.7" r="2.4"/><circle cx="184.8" cy="1016.5" r="2.4"/><circle cx="288.8" cy="975" r="2.4"/><circle cx="339.6" cy="935.1" r="2.4"/><circle cx="194.3" cy="902.2" r="2.4"/><circle cx="259.7" cy="954.2" r="2.4"/><circle cx="409.6" cy="1001.2" r="2.4"/><circle cx="336.1" cy="928.6" r="2.4"/><circle cx="187.2" cy="1016.7" r="2.4"/><circle cx="293.8" cy="884.2" r="2.4"/><circle cx="306.9" cy="940.8" r="2.4"/>
<circle cx="275.5" cy="913.8" r="2.4"/><circle cx="219.1" cy="977.7" r="2.4"/><circle cx="320.8" cy="957" r="2.4"/><circle cx="415.1" cy="946.3" r="2.4"/><circle cx="365.2" cy="982" r="2.4"/><circle cx="390.5" cy="929.1" r="2.4"/><circle cx="345.8" cy="870.6" r="2.4"/><circle cx="211.2" cy="1039.4" r="2.4"/><circle cx="194.5" cy="1071.1" r="2.4"/><circle cx="258.3" cy="904.2" r="2.4"/><circle cx="440.1" cy="881.3" r="2.4"/><circle cx="376.9" cy="982.7" r="2.4"/>
<circle cx="353.3" cy="997.3" r="2.4"/><circle cx="465.4" cy="942.1" r="2.4"/><circle cx="351.1" cy="966" r="2.4"/><circle cx="351.7" cy="914.8" r="2.4"/><circle cx="213.7" cy="1068.5" r="2.4"/><circle cx="171.7" cy="914.3" r="2.4"/><circle cx="340.5" cy="1006.9" r="2.4"/><circle cx="192.5" cy="940.1" r="2.4"/><circle cx="402.2" cy="896.4" r="2.4"/><circle cx="283.6" cy="995.3" r="2.4"/><circle cx="259.3" cy="1006.1" r="2.4"/><circle cx="398.7" cy="893.6" r="2.4"/>
<circle cx="440.1" cy="854" r="2.4"/><circle cx="196.8" cy="985.5" r="2.4"/><circle cx="282.2" cy="992.1" r="2.4"/><circle cx="445.8" cy="942.3" r="2.4"/><circle cx="404" cy="877.6" r="2.4"/><circle cx="165.5" cy="1064.2" r="2.4"/><circle cx="469.6" cy="981.9" r="2.4"/><circle cx="303.7" cy="968.4" r="2.4"/><circle cx="402.8" cy="965" r="2.4"/><circle cx="234.6" cy="1064.4" r="2.4"/><circle cx="442.4" cy="984.5" r="2.4"/><circle cx="456" cy="943.6" r="2.4"/>
<circle cx="184.9" cy="907.2" r="2.4"/><circle cx="150.9" cy="1024.2" r="2.4"/><circle cx="367.7" cy="892.7" r="2.4"/><circle cx="427.9" cy="888.3" r="2.4"/><circle cx="172.5" cy="923.2" r="2.4"/><circle cx="194.2" cy="1057.3" r="2.4"/><circle cx="163.3" cy="936.3" r="2.4"/><circle cx="459.2" cy="861.7" r="2.4"/><circle cx="242.9" cy="993.5" r="2.4"/><circle cx="365" cy="978.5" r="2.4"/><circle cx="281" cy="1060.6" r="2.4"/><circle cx="396.3" cy="1005.8" r="2.4"/>
<circle cx="228" cy="970.6" r="2.4"/><circle cx="210" cy="1041.5" r="2.4"/><circle cx="376.9" cy="988.1" r="2.4"/><circle cx="156.1" cy="1015.3" r="2.4"/><circle cx="396.8" cy="974.5" r="2.4"/><circle cx="424.6" cy="887.3" r="2.4"/><circle cx="206.6" cy="1052.8" r="2.4"/><circle cx="428.9" cy="900.1" r="2.4"/><circle cx="243.3" cy="1014.6" r="2.4"/><circle cx="293.5" cy="1010.3" r="2.4"/><circle cx="436.8" cy="918.6" r="2.4"/><circle cx="379.4" cy="947.3" r="2.4"/>
<circle cx="383.6" cy="958.5" r="2.4"/><circle cx="358.4" cy="930.9" r="2.4"/><circle cx="319.6" cy="1029.7" r="2.4"/><circle cx="242.8" cy="882.8" r="2.4"/><circle cx="483.8" cy="889" r="2.4"/><circle cx="223.5" cy="888" r="2.4"/><circle cx="168.2" cy="1073.3" r="2.4"/><circle cx="172.2" cy="1044.5" r="2.4"/><circle cx="363.5" cy="908.8" r="2.4"/><circle cx="306.7" cy="889.4" r="2.4"/><circle cx="321" cy="893.6" r="2.4"/><circle cx="259.6" cy="971" r="2.4"/>
<circle cx="333.5" cy="1073.4" r="2.4"/><circle cx="398.3" cy="930.1" r="2.4"/><circle cx="177.6" cy="964.1" r="2.4"/><circle cx="258.5" cy="987" r="2.4"/><circle cx="221.4" cy="1051.2" r="2.4"/><circle cx="348.8" cy="1027.3" r="2.4"/><circle cx="328.4" cy="861.2" r="2.4"/><circle cx="331.4" cy="1042" r="2.4"/><circle cx="212.3" cy="1053.5" r="2.4"/><circle cx="175.6" cy="1041.8" r="2.4"/><circle cx="288.7" cy="950.5" r="2.4"/><circle cx="246.6" cy="1043.8" r="2.4"/>
<circle cx="396.3" cy="921.7" r="2.4"/><circle cx="184.4" cy="1067.7" r="2.4"/><circle cx="405.4" cy="866.6" r="2.4"/><circle cx="215.5" cy="917.8" r="2.4"/><circle cx="220.5" cy="898.3" r="2.4"/><circle cx="306.8" cy="923.5" r="2.4"/><circle cx="387.5" cy="920.8" r="2.4"/><circle cx="245.7" cy="932.8" r="2.4"/><circle cx="331.3" cy="874.2" r="2.4"/><circle cx="163.8" cy="1001.5" r="2.4"/><circle cx="473" cy="983.6" r="2.4"/><circle cx="163.1" cy="994.6" r="2.4"/>
<circle cx="382.1" cy="1014.1" r="2.4"/><circle cx="354.4" cy="1039.6" r="2.4"/><circle cx="452.3" cy="973.4" r="2.4"/><circle cx="519.1" cy="937.3" r="2.4"/><circle cx="254" cy="969.3" r="2.4"/><circle cx="266.4" cy="971.8" r="2.4"/><circle cx="375.9" cy="866.6" r="2.4"/><circle cx="258.6" cy="974.2" r="2.4"/><circle cx="237.1" cy="864.3" r="2.4"/><circle cx="228.3" cy="1056.1" r="2.4"/><circle cx="364.4" cy="911.5" r="2.4"/><circle cx="201.4" cy="942.2" r="2.4"/>
<circle cx="313.9" cy="955.4" r="2.4"/><circle cx="396.1" cy="965.9" r="2.4"/><circle cx="277.7" cy="973.1" r="2.4"/><circle cx="469" cy="897.6" r="2.4"/><circle cx="426.3" cy="1061.9" r="2.4"/><circle cx="330.6" cy="936.1" r="2.4"/><circle cx="158" cy="948" r="2.4"/><circle cx="322.9" cy="1081.8" r="2.4"/><circle cx="314.6" cy="919.7" r="2.4"/><circle cx="311.1" cy="909.6" r="2.4"/><circle cx="220.1" cy="1056.1" r="2.4"/><circle cx="284.5" cy="990.6" r="2.4"/>
<circle cx="395.4" cy="990" r="2.4"/><circle cx="256.4" cy="1065.4" r="2.4"/><circle cx="309" cy="984.2" r="2.4"/><circle cx="379.4" cy="1057.2" r="2.4"/><circle cx="311.1" cy="965.9" r="2.4"/><circle cx="349.6" cy="863.8" r="2.4"/><circle cx="421" cy="945.9" r="2.4"/><circle cx="456" cy="900.1" r="2.4"/><circle cx="330.6" cy="933.4" r="2.4"/><circle cx="355" cy="1005.2" r="2.4"/><circle cx="198.2" cy="910.8" r="2.4"/><circle cx="382.6" cy="868.2" r="2.4"/>
<circle cx="220.7" cy="1072.3" r="2.4"/><circle cx="350" cy="844.9" r="2.4"/><circle cx="283.9" cy="1026" r="2.4"/><circle cx="260.6" cy="920.2" r="2.4"/><circle cx="361.3" cy="889.7" r="2.4"/><circle cx="428.5" cy="960.5" r="2.4"/><circle cx="222.6" cy="1060.1" r="2.4"/><circle cx="391.5" cy="1024.2" r="2.4"/><circle cx="192.8" cy="1049.8" r="2.4"/><circle cx="398.4" cy="954.1" r="2.4"/><circle cx="413.8" cy="941.4" r="2.4"/><circle cx="342.8" cy="1039.6" r="2.4"/>
<circle cx="311.7" cy="1076.3" r="2.4"/><circle cx="221.4" cy="1010.1" r="2.4"/><circle cx="152.2" cy="1066.4" r="2.4"/><circle cx="384.8" cy="1004.1" r="2.4"/><circle cx="282.1" cy="925.1" r="2.4"/><circle cx="221.2" cy="1063" r="2.4"/><circle cx="489.3" cy="963.3" r="2.4"/><circle cx="169.1" cy="972.9" r="2.4"/><circle cx="200" cy="985.5" r="2.4"/><circle cx="256.1" cy="996.5" r="2.4"/><circle cx="312.5" cy="1070.2" r="2.4"/><circle cx="372.8" cy="1023.9" r="2.4"/>
<circle cx="251.2" cy="945.2" r="2.4"/><circle cx="395.9" cy="890.4" r="2.4"/><circle cx="282.6" cy="957" r="2.4"/><circle cx="307.5" cy="991.4" r="2.4"/><circle cx="286.1" cy="959.1" r="2.4"/><circle cx="423.5" cy="973" r="2.4"/><circle cx="157.6" cy="996.5" r="2.4"/><circle cx="210.1" cy="913.9" r="2.4"/><circle cx="275.5" cy="936.5" r="2.4"/><circle cx="254.1" cy="942.1" r="2.4"/><circle cx="166.7" cy="1062.8" r="2.4"/><circle cx="347" cy="902.7" r="2.4"/>
<circle cx="208.4" cy="1073.2" r="2.4"/><circle cx="407.7" cy="907.7" r="2.4"/><circle cx="328.7" cy="989.7" r="2.4"/><circle cx="381.9" cy="907.8" r="2.4"/><circle cx="279.4" cy="884.5" r="2.4"/><circle cx="281.2" cy="1059.2" r="2.4"/><circle cx="330.7" cy="873" r="2.4"/><circle cx="324.9" cy="893.9" r="2.4"/><circle cx="296.1" cy="900.6" r="2.4"/><circle cx="330.6" cy="997.9" r="2.4"/><circle cx="197.2" cy="1060" r="2.4"/><circle cx="413.9" cy="1035.1" r="2.4"/>
<circle cx="398.6" cy="914.5" r="2.4"/><circle cx="384.6" cy="967.8" r="2.4"/><circle cx="451.3" cy="974.2" r="2.4"/><circle cx="395.6" cy="995.2" r="2.4"/><circle cx="256.4" cy="1038.6" r="2.4"/><circle cx="221.9" cy="1064.7" r="2.4"/><circle cx="209.2" cy="956.4" r="2.4"/><circle cx="244" cy="1050.4" r="2.4"/><circle cx="476.8" cy="870.2" r="2.4"/><circle cx="223.8" cy="1058.7" r="2.4"/><circle cx="457.2" cy="1045.8" r="2.4"/><circle cx="343.1" cy="1081" r="2.4"/>
<circle cx="153.8" cy="988.5" r="2.4"/><circle cx="157.2" cy="1035.7" r="2.4"/><circle cx="245.8" cy="886.3" r="2.4"/><circle cx="342.4" cy="1050" r="2.4"/><circle cx="430.8" cy="940.1" r="2.4"/><circle cx="165.7" cy="972.6" r="2.4"/><circle cx="174.4" cy="929.4" r="2.4"/><circle cx="170.9" cy="972.7" r="2.4"/><circle cx="259.7" cy="1046" r="2.4"/><circle cx="407.4" cy="1020.3" r="2.4"/><circle cx="185.2" cy="1069.4" r="2.4"/><circle cx="191.5" cy="979" r="2.4"/>
<circle cx="184.4" cy="1014.1" r="2.4"/><circle cx="285.6" cy="970.5" r="2.4"/><circle cx="196.9" cy="982" r="2.4"/><circle cx="316" cy="885.5" r="2.4"/><circle cx="162.1" cy="967" r="2.4"/><circle cx="471.5" cy="987.7" r="2.4"/><circle cx="337.3" cy="1015.1" r="2.4"/><circle cx="374.2" cy="877.2" r="2.4"/><circle cx="318.4" cy="1017.5" r="2.4"/><circle cx="210.3" cy="1062.5" r="2.4"/><circle cx="227.9" cy="1067.6" r="2.4"/><circle cx="210.7" cy="933" r="2.4"/>
<circle cx="389.2" cy="1046.8" r="2.4"/><circle cx="255.8" cy="1078.6" r="2.4"/><circle cx="428.9" cy="1013.7" r="2.4"/><circle cx="449.2" cy="866.6" r="2.4"/><circle cx="352.3" cy="912.7" r="2.4"/><circle cx="170.4" cy="969.3" r="2.4"/><circle cx="224.9" cy="1027.9" r="2.4"/><circle cx="400.9" cy="869.7" r="2.4"/><circle cx="338.3" cy="893" r="2.4"/><circle cx="245.4" cy="999.2" r="2.4"/><circle cx="267.2" cy="968.5" r="2.4"/><circle cx="362.2" cy="872.5" r="2.4"/>
<circle cx="235.4" cy="1062.2" r="2.4"/><circle cx="412.2" cy="986.9" r="2.4"/><circle cx="316.5" cy="885.9" r="2.4"/><circle cx="315.4" cy="891.9" r="2.4"/><circle cx="399.5" cy="964.9" r="2.4"/><circle cx="437.7" cy="906.6" r="2.4"/><circle cx="462.2" cy="1013.6" r="2.4"/><circle cx="287.6" cy="896.6" r="2.4"/><circle cx="352.4" cy="894.1" r="2.4"/><circle cx="333.7" cy="1018.4" r="2.4"/><circle cx="292" cy="951.6" r="2.4"/><circle cx="354.6" cy="996.2" r="2.4"/>
<circle cx="227.9" cy="1020.4" r="2.4"/><circle cx="380" cy="999.1" r="2.4"/><circle cx="194.8" cy="1052.3" r="2.4"/><circle cx="308.7" cy="977.8" r="2.4"/><circle cx="311.3" cy="960.7" r="2.4"/><circle cx="154.2" cy="1041.2" r="2.4"/><circle cx="366.2" cy="981.8" r="2.4"/><circle cx="160.6" cy="979.1" r="2.4"/><circle cx="450.5" cy="927.1" r="2.4"/><circle cx="313.9" cy="998.8" r="2.4"/><circle cx="510.7" cy="989.5" r="2.4"/><circle cx="230.6" cy="1031.8" r="2.4"/>
<circle cx="420.3" cy="900.2" r="2.4"/><circle cx="389.6" cy="844.8" r="2.4"/><circle cx="292.4" cy="930.9" r="2.4"/><circle cx="159" cy="956.4" r="2.4"/><circle cx="421.4" cy="1026" r="2.4"/><circle cx="166.6" cy="998.9" r="2.4"/><circle cx="215.1" cy="941.3" r="2.4"/><circle cx="213.1" cy="1077.7" r="2.4"/><circle cx="370.4" cy="891.2" r="2.4"/><circle cx="186.4" cy="991.5" r="2.4"/><circle cx="206.6" cy="1020.8" r="2.4"/><circle cx="297.6" cy="922.4" r="2.4"/>
<circle cx="209.4" cy="967.8" r="2.4"/><circle cx="401.2" cy="922.3" r="2.4"/><circle cx="432.4" cy="1027.9" r="2.4"/><circle cx="241.7" cy="977.2" r="2.4"/><circle cx="355.1" cy="882" r="2.4"/><circle cx="299.5" cy="931.9" r="2.4"/><circle cx="320.4" cy="966.6" r="2.4"/><circle cx="300.7" cy="881.5" r="2.4"/><circle cx="415.5" cy="1034.1" r="2.4"/><circle cx="248.5" cy="960.7" r="2.4"/><circle cx="369.6" cy="854.5" r="2.4"/><circle cx="253.7" cy="1010" r="2.4"/>
<circle cx="302.8" cy="1053.6" r="2.4"/><circle cx="241.3" cy="908.7" r="2.4"/><circle cx="165.3" cy="972.6" r="2.4"/><circle cx="417.1" cy="1006.9" r="2.4"/><circle cx="450.3" cy="849.6" r="2.4"/><circle cx="436.4" cy="932.1" r="2.4"/><circle cx="324.1" cy="913.2" r="2.4"/><circle cx="293" cy="989.7" r="2.4"/><circle cx="452.4" cy="1012.4" r="2.4"/><circle cx="433.7" cy="1022.5" r="2.4"/><circle cx="285.8" cy="1001.2" r="2.4"/><circle cx="441.9" cy="996.1" r="2.4"/>
<circle cx="157.7" cy="945.2" r="2.4"/><circle cx="316.4" cy="927.3" r="2.4"/><circle cx="189.9" cy="1044.8" r="2.4"/><circle cx="197.1" cy="983.2" r="2.4"/><circle cx="523" cy="909" r="2.4"/><circle cx="333.4" cy="1065.6" r="2.4"/><circle cx="431" cy="987.2" r="2.4"/><circle cx="294.6" cy="925.9" r="2.4"/><circle cx="314.3" cy="922.4" r="2.4"/><circle cx="175.4" cy="981.9" r="2.4"/><circle cx="411.9" cy="927.3" r="2.4"/><circle cx="290.7" cy="1013" r="2.4"/>
<circle cx="526.9" cy="882.4" r="2.4"/><circle cx="451.1" cy="1003" r="2.4"/><circle cx="221.5" cy="938.8" r="2.4"/><circle cx="212.3" cy="917.3" r="2.4"/><circle cx="366.6" cy="945.1" r="2.4"/><circle cx="475.8" cy="911.9" r="2.4"/><circle cx="215.9" cy="929.5" r="2.4"/><circle cx="406.2" cy="986.6" r="2.4"/><circle cx="392.5" cy="944.6" r="2.4"/><circle cx="273.7" cy="990.6" r="2.4"/><circle cx="418.7" cy="957.9" r="2.4"/><circle cx="392.2" cy="964.8" r="2.4"/>
<circle cx="486.9" cy="881.9" r="2.4"/><circle cx="321.6" cy="936.4" r="2.4"/><circle cx="172.1" cy="1028.6" r="2.4"/><circle cx="221.3" cy="1027.3" r="2.4"/><circle cx="226.5" cy="1007.8" r="2.4"/><circle cx="175.4" cy="1035" r="2.4"/><circle cx="366.6" cy="879.6" r="2.4"/><circle cx="326.8" cy="943.8" r="2.4"/><circle cx="464.2" cy="1025.8" r="2.4"/><circle cx="393.3" cy="860" r="2.4"/><circle cx="341.1" cy="1043.2" r="2.4"/><circle cx="413.4" cy="866.6" r="2.4"/>
<circle cx="343.1" cy="901" r="2.4"/><circle cx="172.4" cy="1075.1" r="2.4"/><circle cx="278.8" cy="1034.2" r="2.4"/><circle cx="189.6" cy="961.2" r="2.4"/><circle cx="471.4" cy="931.2" r="2.4"/><circle cx="439.8" cy="935.1" r="2.4"/><circle cx="372.5" cy="966.3" r="2.4"/><circle cx="385.2" cy="901.6" r="2.4"/><circle cx="180.3" cy="1043.9" r="2.4"/><circle cx="287.7" cy="924" r="2.4"/><circle cx="214" cy="945.5" r="2.4"/><circle cx="209.3" cy="982.6" r="2.4"/>
<circle cx="249.9" cy="1001.6" r="2.4"/><circle cx="296.3" cy="1069.6" r="2.4"/><circle cx="317.3" cy="931.3" r="2.4"/><circle cx="204.9" cy="954.3" r="2.4"/><circle cx="193.4" cy="1060.8" r="2.4"/><circle cx="319.4" cy="1021.6" r="2.4"/><circle cx="277.9" cy="892.3" r="2.4"/><circle cx="200.9" cy="928.9" r="2.4"/><circle cx="260.5" cy="978.1" r="2.4"/><circle cx="355.2" cy="904.7" r="2.4"/><circle cx="409.3" cy="934" r="2.4"/><circle cx="205.1" cy="1049.1" r="2.4"/>
<circle cx="343.7" cy="1024.7" r="2.4"/><circle cx="390.1" cy="880.7" r="2.4"/><circle cx="406.6" cy="996.6" r="2.4"/><circle cx="481.1" cy="885.7" r="2.4"/><circle cx="324.8" cy="938.3" r="2.4"/><circle cx="315.8" cy="1000" r="2.4"/><circle cx="383.2" cy="911" r="2.4"/><circle cx="339.3" cy="1039" r="2.4"/><circle cx="303.9" cy="890.1" r="2.4"/><circle cx="242.6" cy="994.4" r="2.4"/><circle cx="335.6" cy="984.8" r="2.4"/><circle cx="327.1" cy="878.7" r="2.4"/>
<circle cx="300" cy="956.1" r="2.4"/><circle cx="268.1" cy="900.3" r="2.4"/><circle cx="162.3" cy="1051.4" r="2.4"/><circle cx="238.2" cy="983.3" r="2.4"/><circle cx="188.4" cy="1056.3" r="2.4"/><circle cx="386" cy="993.9" r="2.4"/><circle cx="356.9" cy="957.4" r="2.4"/><circle cx="396.1" cy="895.5" r="2.4"/><circle cx="169.8" cy="1060.8" r="2.4"/><circle cx="426.5" cy="932.7" r="2.4"/><circle cx="208.6" cy="1038.2" r="2.4"/><circle cx="164.6" cy="941.9" r="2.4"/>
<circle cx="279.8" cy="961.9" r="2.4"/><circle cx="155.5" cy="1046.7" r="2.4"/><circle cx="406.4" cy="1036.2" r="2.4"/><circle cx="305.9" cy="1021.2" r="2.4"/><circle cx="247.6" cy="1036.8" r="2.4"/><circle cx="448.2" cy="1014.5" r="2.4"/><circle cx="181.9" cy="942.8" r="2.4"/><circle cx="253.4" cy="948.4" r="2.4"/><circle cx="356.5" cy="918.8" r="2.4"/><circle cx="237.8" cy="1045.3" r="2.4"/><circle cx="158.6" cy="1051.8" r="2.4"/><circle cx="344.3" cy="951.5" r="2.4"/>
<circle cx="183.3" cy="1044.6" r="2.4"/><circle cx="378.4" cy="963.7" r="2.4"/><circle cx="255.3" cy="880" r="2.4"/><circle cx="232.8" cy="1007.3" r="2.4"/><circle cx="292.6" cy="941.7" r="2.4"/><circle cx="241.4" cy="965.4" r="2.4"/><circle cx="208.1" cy="1060.4" r="2.4"/><circle cx="428.9" cy="924.6" r="2.4"/><circle cx="387.9" cy="903.2" r="2.4"/><circle cx="295" cy="925.5" r="2.4"/><circle cx="207.8" cy="999.9" r="2.4"/><circle cx="300.1" cy="896" r="2.4"/>
<circle cx="278.6" cy="962.5" r="2.4"/><circle cx="462.3" cy="907.2" r="2.4"/><circle cx="472.1" cy="841.1" r="2.4"/><circle cx="260.7" cy="950.7" r="2.4"/><circle cx="321.7" cy="882.9" r="2.4"/><circle cx="330.1" cy="956.5" r="2.4"/><circle cx="271.9" cy="926.1" r="2.4"/><circle cx="423.6" cy="1011.9" r="2.4"/><circle cx="168.1" cy="953.6" r="2.4"/><circle cx="175.3" cy="1012.5" r="2.4"/><circle cx="435.6" cy="1011" r="2.4"/><circle cx="313.9" cy="1042.3" r="2.4"/>
<circle cx="248.4" cy="1041.2" r="2.4"/><circle cx="293.2" cy="960.4" r="2.4"/><circle cx="155.7" cy="1065.3" r="2.4"/><circle cx="396.9" cy="991.4" r="2.4"/><circle cx="354.6" cy="989.3" r="2.4"/><circle cx="267.6" cy="913.4" r="2.4"/><circle cx="215.6" cy="979.5" r="2.4"/><circle cx="240" cy="921" r="2.4"/><circle cx="371.3" cy="969" r="2.4"/><circle cx="225.4" cy="932.4" r="2.4"/><circle cx="164.7" cy="985.9" r="2.4"/><circle cx="186.2" cy="1043" r="2.4"/>
<circle cx="301.5" cy="981.3" r="2.4"/><circle cx="354.9" cy="1049.5" r="2.4"/><circle cx="290.1" cy="977" r="2.4"/><circle cx="226.2" cy="1019.3" r="2.4"/><circle cx="376.7" cy="970.2" r="2.4"/><circle cx="156.5" cy="981.6" r="2.4"/><circle cx="394.7" cy="918.3" r="2.4"/><circle cx="181.4" cy="1016.1" r="2.4"/><circle cx="176.5" cy="1014" r="2.4"/><circle cx="176.7" cy="968.5" r="2.4"/><circle cx="188.7" cy="914" r="2.4"/><circle cx="394.9" cy="995.8" r="2.4"/>
<circle cx="422.6" cy="882.1" r="2.4"/><circle cx="219.3" cy="911.6" r="2.4"/><circle cx="405.1" cy="1002.9" r="2.4"/><circle cx="194.6" cy="998.7" r="2.4"/><circle cx="204.1" cy="1010.4" r="2.4"/><circle cx="370.6" cy="1057.2" r="2.4"/><circle cx="223.1" cy="907.4" r="2.4"/><circle cx="332.3" cy="939.1" r="2.4"/><circle cx="286.7" cy="925.3" r="2.4"/><circle cx="397.1" cy="879.3" r="2.4"/><circle cx="229.6" cy="1045.8" r="2.4"/><circle cx="253.3" cy="916.5" r="2.4"/>
<circle cx="418.9" cy="966.9" r="2.4"/><circle cx="299.6" cy="995.7" r="2.4"/><circle cx="245.6" cy="1026.4" r="2.4"/><circle cx="229.6" cy="1060.2" r="2.4"/><circle cx="264.4" cy="889.1" r="2.4"/><circle cx="317.2" cy="986.4" r="2.4"/><circle cx="383.8" cy="993.4" r="2.4"/><circle cx="407.8" cy="930.3" r="2.4"/><circle cx="326.9" cy="1025.8" r="2.4"/><circle cx="294.1" cy="1003.9" r="2.4"/><circle cx="213.9" cy="1016.1" r="2.4"/><circle cx="262.8" cy="880" r="2.4"/>
<circle cx="162.7" cy="1023.4" r="2.4"/><circle cx="286.1" cy="1007.3" r="2.4"/><circle cx="328.8" cy="946.5" r="2.4"/><circle cx="325.4" cy="942.9" r="2.4"/><circle cx="432.3" cy="915.9" r="2.4"/><circle cx="448.2" cy="1019.7" r="2.4"/><circle cx="171.9" cy="1066.9" r="2.4"/><circle cx="399.5" cy="1014.2" r="2.4"/><circle cx="280.2" cy="933.1" r="2.4"/><circle cx="199.1" cy="1014.9" r="2.4"/><circle cx="350.2" cy="989.7" r="2.4"/><circle cx="287.4" cy="952.3" r="2.4"/>
<circle cx="269" cy="975.6" r="2.4"/><circle cx="360.6" cy="856.2" r="2.4"/><circle cx="228" cy="915.8" r="2.4"/><circle cx="151.8" cy="989.3" r="2.4"/><circle cx="388.9" cy="883" r="2.4"/><circle cx="240.6" cy="902.4" r="2.4"/><circle cx="256.6" cy="1005.2" r="2.4"/><circle cx="155.1" cy="1038.5" r="2.4"/><circle cx="508.5" cy="945.3" r="2.4"/><circle cx="381.6" cy="910.1" r="2.4"/><circle cx="423.1" cy="1045.3" r="2.4"/><circle cx="455" cy="937.9" r="2.4"/>
<circle cx="412.3" cy="943.4" r="2.4"/><circle cx="347.1" cy="950.7" r="2.4"/><circle cx="394.8" cy="902.1" r="2.4"/><circle cx="363.8" cy="969.5" r="2.4"/><circle cx="402.5" cy="934.3" r="2.4"/><circle cx="404.9" cy="917.8" r="2.4"/><circle cx="319.3" cy="976.3" r="2.4"/><circle cx="430.7" cy="922.2" r="2.4"/><circle cx="315.7" cy="889.9" r="2.4"/><circle cx="161.4" cy="941.4" r="2.4"/><circle cx="214.8" cy="1042" r="2.4"/><circle cx="271.9" cy="963.4" r="2.4"/>
<circle cx="312.9" cy="956.8" r="2.4"/><circle cx="242" cy="1002.8" r="2.4"/><circle cx="202" cy="1017.5" r="2.4"/><circle cx="405.5" cy="991.3" r="2.4"/><circle cx="272.2" cy="910.3" r="2.4"/><circle cx="248.6" cy="1008.8" r="2.4"/><circle cx="293.6" cy="903.1" r="2.4"/><circle cx="418.2" cy="961.8" r="2.4"/><circle cx="363.8" cy="1002.6" r="2.4"/><circle cx="382.1" cy="890.4" r="2.4"/><circle cx="287.8" cy="932.3" r="2.4"/><circle cx="155" cy="1023.7" r="2.4"/>
<circle cx="188.8" cy="970.2" r="2.4"/><circle cx="243.6" cy="980.8" r="2.4"/><circle cx="228.4" cy="938.4" r="2.4"/><circle cx="384.8" cy="904.7" r="2.4"/><circle cx="447.2" cy="854.8" r="2.4"/><circle cx="432.1" cy="967.2" r="2.4"/><circle cx="340.6" cy="1006.3" r="2.4"/><circle cx="157" cy="1073.7" r="2.4"/><circle cx="276.5" cy="1004.8" r="2.4"/><circle cx="446.4" cy="927.9" r="2.4"/><circle cx="374.8" cy="858.9" r="2.4"/><circle cx="334.1" cy="1061.3" r="2.4"/>
<circle cx="328.3" cy="895.4" r="2.4"/><circle cx="257.9" cy="1051.4" r="2.4"/><circle cx="253.6" cy="1075.5" r="2.4"/><circle cx="395.6" cy="907.7" r="2.4"/><circle cx="437.8" cy="960.7" r="2.4"/><circle cx="334.8" cy="1003.3" r="2.4"/><circle cx="197.1" cy="993.5" r="2.4"/><circle cx="274.1" cy="985.7" r="2.4"/><circle cx="228.7" cy="1038.9" r="2.4"/><circle cx="370.5" cy="940.2" r="2.4"/><circle cx="258.6" cy="931.2" r="2.4"/><circle cx="172.3" cy="953.3" r="2.4"/>
<circle cx="427.9" cy="910.5" r="2.4"/><circle cx="372.6" cy="999.6" r="2.4"/><circle cx="392.9" cy="923.7" r="2.4"/><circle cx="222.6" cy="989.1" r="2.4"/><circle cx="173.7" cy="910" r="2.4"/><circle cx="194.5" cy="927.6" r="2.4"/><circle cx="163.5" cy="944.9" r="2.4"/><circle cx="354.2" cy="964.8" r="2.4"/><circle cx="342.4" cy="968.1" r="2.4"/><circle cx="179.7" cy="911.9" r="2.4"/><circle cx="414" cy="932.8" r="2.4"/><circle cx="248.2" cy="901.1" r="2.4"/>
<circle cx="295.2" cy="898.6" r="2.4"/><circle cx="398" cy="926.4" r="2.4"/><circle cx="365.6" cy="868.7" r="2.4"/><circle cx="401.5" cy="999.5" r="2.4"/><circle cx="152.3" cy="992.9" r="2.4"/><circle cx="354.6" cy="958.1" r="2.4"/><circle cx="153.8" cy="1010.3" r="2.4"/><circle cx="368.7" cy="1040.9" r="2.4"/><circle cx="233.8" cy="925.2" r="2.4"/><circle cx="289.1" cy="873.1" r="2.4"/><circle cx="313.7" cy="963.9" r="2.4"/><circle cx="213.1" cy="954.8" r="2.4"/>
<circle cx="344.1" cy="933.4" r="2.4"/><circle cx="200.2" cy="892.9" r="2.4"/><circle cx="401.5" cy="882.8" r="2.4"/><circle cx="371.5" cy="922.6" r="2.4"/><circle cx="322.4" cy="1060.2" r="2.4"/><circle cx="169.5" cy="966.2" r="2.4"/><circle cx="357.5" cy="1005.9" r="2.4"/><circle cx="382.4" cy="916.5" r="2.4"/><circle cx="339.6" cy="948.8" r="2.4"/><circle cx="400.4" cy="1074.2" r="2.4"/><circle cx="445.9" cy="1056" r="2.4"/><circle cx="438.9" cy="955.3" r="2.4"/>
<circle cx="445.2" cy="937.6" r="2.4"/><circle cx="526.2" cy="925.1" r="2.4"/><circle cx="421" cy="946.4" r="2.4"/><circle cx="225.8" cy="973.4" r="2.4"/><circle cx="258.6" cy="929.5" r="2.4"/><circle cx="400.4" cy="881" r="2.4"/><circle cx="423.2" cy="980.5" r="2.4"/><circle cx="241.2" cy="1015.2" r="2.4"/><circle cx="421.4" cy="888.1" r="2.4"/><circle cx="196.6" cy="1015.8" r="2.4"/><circle cx="372.3" cy="918.3" r="2.4"/><circle cx="185.1" cy="964.3" r="2.4"/>
<circle cx="358.9" cy="923.8" r="2.4"/><circle cx="317" cy="970" r="2.4"/><circle cx="187.8" cy="947" r="2.4"/><circle cx="408.3" cy="858" r="2.4"/><circle cx="299.8" cy="1075.5" r="2.4"/><circle cx="404.9" cy="959.1" r="2.4"/><circle cx="319.1" cy="966.5" r="2.4"/><circle cx="211.2" cy="1019" r="2.4"/><circle cx="271" cy="1013.8" r="2.4"/><circle cx="356.7" cy="937" r="2.4"/><circle cx="372.9" cy="987.6" r="2.4"/><circle cx="155.1" cy="964.5" r="2.4"/>
<circle cx="288.9" cy="1063.9" r="2.4"/><circle cx="224.9" cy="1014.2" r="2.4"/><circle cx="181.9" cy="930.5" r="2.4"/><circle cx="273.9" cy="889.9" r="2.4"/><circle cx="197.1" cy="904" r="2.4"/><circle cx="201.3" cy="935" r="2.4"/><circle cx="374.5" cy="854.8" r="2.4"/><circle cx="174.9" cy="1013" r="2.4"/><circle cx="331.5" cy="1051.4" r="2.4"/><circle cx="372.9" cy="915.3" r="2.4"/><circle cx="431.1" cy="969.4" r="2.4"/><circle cx="230.1" cy="920.6" r="2.4"/>
<circle cx="200.5" cy="1038.5" r="2.4"/><circle cx="404.9" cy="925" r="2.4"/><circle cx="363.8" cy="942.6" r="2.4"/><circle cx="332.3" cy="921.1" r="2.4"/><circle cx="331.6" cy="1078.8" r="2.4"/><circle cx="532.1" cy="980.9" r="2.4"/><circle cx="266.7" cy="926.8" r="2.4"/><circle cx="363.2" cy="992.2" r="2.4"/><circle cx="315.4" cy="892" r="2.4"/><circle cx="204.3" cy="1033" r="2.4"/><circle cx="269.6" cy="1035.3" r="2.4"/><circle cx="276.6" cy="1071.8" r="2.4"/>
<circle cx="331.3" cy="977.4" r="2.4"/><circle cx="439.2" cy="962.4" r="2.4"/><circle cx="377.1" cy="892.8" r="2.4"/><circle cx="254.2" cy="1012.1" r="2.4"/><circle cx="250.6" cy="881" r="2.4"/><circle cx="207" cy="1025.5" r="2.4"/><circle cx="221.3" cy="1019.4" r="2.4"/><circle cx="209.5" cy="1031.3" r="2.4"/><circle cx="471.5" cy="912" r="2.4"/><circle cx="221.8" cy="1057.7" r="2.4"/><circle cx="221.8" cy="966.8" r="2.4"/><circle cx="435.9" cy="935" r="2.4"/>
<circle cx="238.1" cy="905.2" r="2.4"/><circle cx="213.1" cy="933.5" r="2.4"/><circle cx="177.8" cy="1048.3" r="2.4"/><circle cx="244.9" cy="916.2" r="2.4"/><circle cx="459.3" cy="1010.3" r="2.4"/><circle cx="285.7" cy="938.4" r="2.4"/><circle cx="207.6" cy="952.4" r="2.4"/><circle cx="361.7" cy="1048.6" r="2.4"/><circle cx="340.5" cy="938.8" r="2.4"/><circle cx="403.4" cy="916.5" r="2.4"/><circle cx="215.1" cy="1027.7" r="2.4"/><circle cx="232.2" cy="980.9" r="2.4"/>
<circle cx="246.5" cy="967.2" r="2.4"/><circle cx="492.5" cy="905.6" r="2.4"/><circle cx="293.8" cy="1027.3" r="2.4"/><circle cx="408.4" cy="887" r="2.4"/><circle cx="226.6" cy="1021" r="2.4"/><circle cx="469.1" cy="968.2" r="2.4"/><circle cx="155.5" cy="1058.9" r="2.4"/><circle cx="261.9" cy="900.2" r="2.4"/><circle cx="293.9" cy="1002.1" r="2.4"/><circle cx="415.8" cy="918.4" r="2.4"/><circle cx="407.1" cy="995.4" r="2.4"/><circle cx="179" cy="991.9" r="2.4"/>
<circle cx="156.9" cy="1071.4" r="2.4"/><circle cx="377.6" cy="893" r="2.4"/><circle cx="393" cy="1009.8" r="2.4"/><circle cx="486.1" cy="904.7" r="2.4"/><circle cx="335.9" cy="966.8" r="2.4"/><circle cx="355.9" cy="982.9" r="2.4"/><circle cx="283" cy="943.4" r="2.4"/><circle cx="231" cy="1010.5" r="2.4"/><circle cx="346.2" cy="1055" r="2.4"/><circle cx="404.3" cy="1005.1" r="2.4"/><circle cx="246.2" cy="987.6" r="2.4"/><circle cx="400.5" cy="891.3" r="2.4"/>
<circle cx="438.2" cy="976" r="2.4"/><circle cx="425.9" cy="875.2" r="2.4"/><circle cx="355.4" cy="975.3" r="2.4"/><circle cx="352.7" cy="898.9" r="2.4"/><circle cx="244.9" cy="992.4" r="2.4"/><circle cx="291.3" cy="1024" r="2.4"/><circle cx="177.6" cy="899.8" r="2.4"/><circle cx="197.5" cy="888" r="2.4"/><circle cx="425.8" cy="978.4" r="2.4"/><circle cx="359.2" cy="874.7" r="2.4"/><circle cx="231.9" cy="978.8" r="2.4"/><circle cx="251" cy="996.1" r="2.4"/>
<circle cx="280.3" cy="941.7" r="2.4"/><circle cx="256.3" cy="1039.8" r="2.4"/><circle cx="413.3" cy="917.7" r="2.4"/><circle cx="366" cy="867.8" r="2.4"/><circle cx="523.3" cy="867.1" r="2.4"/><circle cx="268.5" cy="994.8" r="2.4"/><circle cx="153.7" cy="1074.8" r="2.4"/><circle cx="460" cy="953.9" r="2.4"/><circle cx="194.6" cy="978.6" r="2.4"/><circle cx="365.2" cy="895.2" r="2.4"/><circle cx="309.1" cy="964.1" r="2.4"/><circle cx="437.1" cy="1025.3" r="2.4"/>
<circle cx="227" cy="951.9" r="2.4"/><circle cx="425.7" cy="921.6" r="2.4"/><circle cx="371.2" cy="895.3" r="2.4"/><circle cx="411.1" cy="972.8" r="2.4"/><circle cx="428.2" cy="864.3" r="2.4"/><circle cx="195.1" cy="999" r="2.4"/><circle cx="346.1" cy="1000.2" r="2.4"/><circle cx="363" cy="968.9" r="2.4"/><circle cx="272.9" cy="1042.5" r="2.4"/><circle cx="244.4" cy="1050.1" r="2.4"/><circle cx="225.1" cy="1051.9" r="2.4"/><circle cx="172.8" cy="964.8" r="2.4"/>
<circle cx="376.5" cy="943.5" r="2.4"/><circle cx="170.5" cy="1048.2" r="2.4"/><circle cx="211.5" cy="920.6" r="2.4"/><circle cx="240" cy="1033.7" r="2.4"/><circle cx="269.6" cy="874.3" r="2.4"/><circle cx="263.9" cy="1004.2" r="2.4"/><circle cx="369.1" cy="1019.8" r="2.4"/><circle cx="371.5" cy="986.7" r="2.4"/><circle cx="338.5" cy="1057.9" r="2.4"/><circle cx="184.8" cy="981.4" r="2.4"/><circle cx="327.1" cy="1009.8" r="2.4"/><circle cx="278" cy="905.9" r="2.4"/>
<circle cx="287.8" cy="890.2" r="2.4"/><circle cx="171.5" cy="1062.4" r="2.4"/><circle cx="415.3" cy="897.6" r="2.4"/><circle cx="166" cy="1051.9" r="2.4"/><circle cx="234.4" cy="942.6" r="2.4"/><circle cx="228.6" cy="885.6" r="2.4"/><circle cx="181" cy="938.7" r="2.4"/><circle cx="241" cy="1045.9" r="2.4"/><circle cx="395.7" cy="882" r="2.4"/><circle cx="272.4" cy="1001.3" r="2.4"/><circle cx="303.5" cy="1071.3" r="2.4"/><circle cx="194.1" cy="1058.8" r="2.4"/>
<circle cx="425.7" cy="883.2" r="2.4"/><circle cx="380.2" cy="900.6" r="2.4"/><circle cx="359.7" cy="983.4" r="2.4"/><circle cx="400.1" cy="1044.6" r="2.4"/><circle cx="403.6" cy="949.4" r="2.4"/><circle cx="153.4" cy="1043" r="2.4"/><circle cx="169.5" cy="982.7" r="2.4"/><circle cx="372.9" cy="1019.2" r="2.4"/><circle cx="178" cy="1069.3" r="2.4"/><circle cx="301.3" cy="1004" r="2.4"/><circle cx="303.2" cy="956.6" r="2.4"/><circle cx="340.6" cy="855.8" r="2.4"/>
<circle cx="305.1" cy="945.5" r="2.4"/><circle cx="355.8" cy="1042.7" r="2.4"/><circle cx="152.7" cy="957.9" r="2.4"/><circle cx="379.8" cy="928.9" r="2.4"/><circle cx="311.9" cy="977.4" r="2.4"/><circle cx="394.8" cy="973" r="2.4"/><circle cx="277.9" cy="906.2" r="2.4"/><circle cx="245.9" cy="1054.1" r="2.4"/><circle cx="409.7" cy="917.7" r="2.4"/><circle cx="257.2" cy="890.7" r="2.4"/><circle cx="367.6" cy="972.4" r="2.4"/><circle cx="427.5" cy="853.4" r="2.4"/>
<circle cx="170.2" cy="1060.6" r="2.4"/><circle cx="209.6" cy="1068.1" r="2.4"/><circle cx="420.4" cy="960.3" r="2.4"/><circle cx="178.9" cy="997.6" r="2.4"/><circle cx="200.8" cy="930" r="2.4"/><circle cx="153.4" cy="1034.8" r="2.4"/><circle cx="186.6" cy="964.2" r="2.4"/><circle cx="251" cy="957.7" r="2.4"/><circle cx="269.8" cy="1050.4" r="2.4"/><circle cx="205.7" cy="922.6" r="2.4"/><circle cx="281.6" cy="992.3" r="2.4"/><circle cx="277.8" cy="970" r="2.4"/>
<circle cx="395.1" cy="933.9" r="2.4"/><circle cx="302" cy="991.5" r="2.4"/><circle cx="293.5" cy="957.8" r="2.4"/><circle cx="296.7" cy="1045.8" r="2.4"/><circle cx="398.7" cy="1014.1" r="2.4"/><circle cx="458.6" cy="888.2" r="2.4"/><circle cx="286.2" cy="901.6" r="2.4"/><circle cx="162.9" cy="1033.2" r="2.4"/><circle cx="198.5" cy="1028.3" r="2.4"/><circle cx="209.6" cy="1065.3" r="2.4"/><circle cx="243.5" cy="1039.4" r="2.4"/><circle cx="382.5" cy="969.6" r="2.4"/>
<circle cx="207.5" cy="1036.1" r="2.4"/><circle cx="309.6" cy="921.5" r="2.4"/><circle cx="194.3" cy="897.8" r="2.4"/><circle cx="338.7" cy="868.2" r="2.4"/><circle cx="204.2" cy="917.5" r="2.4"/><circle cx="415.3" cy="884.3" r="2.4"/><circle cx="295.6" cy="945.7" r="2.4"/><circle cx="303.3" cy="885.2" r="2.4"/><circle cx="143.2" cy="1091.8" r="2.4"/><circle cx="150.6" cy="1091.8" r="2.4"/><circle cx="163" cy="1091.8" r="2.4"/><circle cx="166.8" cy="1091.8" r="2.4"/>
<circle cx="171.1" cy="1091.8" r="2.4"/><circle cx="183.5" cy="1091.8" r="2.4"/><circle cx="192.8" cy="1091.8" r="2.4"/><circle cx="214.5" cy="1091.8" r="2.4"/><circle cx="242.4" cy="1091.8" r="2.4"/><circle cx="245.5" cy="1091.8" r="2.4"/><circle cx="256" cy="1091.8" r="2.4"/><circle cx="267.2" cy="1091.8" r="2.4"/><circle cx="279.6" cy="1091.8" r="2.4"/><circle cx="290.8" cy="1091.8" r="2.4"/><circle cx="310.6" cy="1091.8" r="2.4"/><circle cx="313.7" cy="1091.8" r="2.4"/>
<circle cx="335.4" cy="1091.8" r="2.4"/><circle cx="350.9" cy="1091.8" r="2.4"/><circle cx="417.2" cy="1091.8" r="2.4"/><circle cx="420.3" cy="1091.8" r="2.4"/><circle cx="202.1" cy="1091.8" r="2.4"/><circle cx="226.9" cy="1091.8" r="2.4"/><circle cx="144.4" cy="915.8" r="2.4"/><circle cx="139.5" cy="1075.4" r="2.4"/><circle cx="145.9" cy="1010.9" r="2.4"/><circle cx="151" cy="947" r="2.4"/><circle cx="142.1" cy="947.7" r="2.4"/><circle cx="148.7" cy="952.8" r="2.4"/>
<circle cx="140.2" cy="1005.4" r="2.4"/><circle cx="147.7" cy="1061.6" r="2.4"/><circle cx="143.5" cy="1007.6" r="2.4"/><circle cx="142" cy="940.1" r="2.4"/><circle cx="149" cy="1054" r="2.4"/><circle cx="138.9" cy="1008.3" r="2.4"/><circle cx="150.8" cy="1015" r="2.4"/><circle cx="143.9" cy="964.2" r="2.4"/><circle cx="540" cy="832.9" r="2.4"/><circle cx="546.2" cy="859" r="2.4"/><circle cx="532.6" cy="857.7" r="2.4"/><circle cx="533.8" cy="896.8" r="2.4"/>
<circle cx="541.2" cy="921.7" r="2.4"/><circle cx="530.7" cy="969.5" r="2.4"/><circle cx="533.8" cy="1031.6" r="2.4"/><circle cx="507.8" cy="1034.7" r="2.4"/><circle cx="527.6" cy="969.5" r="2.4"/><circle cx="505.9" cy="985" r="2.4"/><circle cx="397.4" cy="839.1" r="2.4"/><circle cx="434.6" cy="837.2" r="2.4"/><circle cx="462.5" cy="842.2" r="2.4"/><circle cx="473" cy="842.2" r="2.4"/><circle cx="479.2" cy="847.2" r="2.4"/><circle cx="152.5" cy="867" r="2.4"/>
<circle cx="189.7" cy="863.9" r="2.4"/><circle cx="217.6" cy="860.8" r="2.4"/><circle cx="264.1" cy="859" r="2.4"/><circle cx="298.2" cy="854.6" r="2.4"/><circle cx="356.5" cy="839.7" r="2.4"/>
</g>
<path class="d" d="M155.3 632.2V1127.8"/>
<path class="d" d="M93.6 1065.8H588.1"/>
<path d="M129.2 1087.5L388.8 861.7" stroke="#0000f6" stroke-width="4.2" stroke-linecap="round" fill="none"/>
<path class="ax" d="M69.5 631V1127.8M69.5 1127.8h-4.3M69.5 1065.8h-4.3M69.5 1003.6h-4.3M69.5 941.5h-4.3M69.5 879.5h-4.3M69.5 817.4h-4.3M69.5 755.2h-4.3M69.5 693.1h-4.3M69.5 631h-4.3M93.6 1152.5H589.6M93.6 1152.5v4.3M155.6 1152.5v4.3M217.6 1152.5v4.3M279.6 1152.5v4.3M341.6 1152.5v4.3M403.6 1152.5v4.3M465.6 1152.5v4.3M527.6 1152.5v4.3M589.6 1152.5v4.3"/>
<text class="t" x="60.1" y="1132.6" text-anchor="end">−1</text>
<text class="t" x="93.6" y="1171.3" text-anchor="middle">−1</text>
<text class="t" x="60.1" y="1070.5" text-anchor="end">0</text>
<text class="t" x="155.6" y="1171.3" text-anchor="middle">0</text>
<text class="t" x="60.1" y="1008.4" text-anchor="end">1</text>
<text class="t" x="217.6" y="1171.3" text-anchor="middle">1</text>
<text class="t" x="60.1" y="946.3" text-anchor="end">2</text>
<text class="t" x="279.6" y="1171.3" text-anchor="middle">2</text>
<text class="t" x="60.1" y="884.2" text-anchor="end">3</text>
<text class="t" x="341.6" y="1171.3" text-anchor="middle">3</text>
<text class="t" x="60.1" y="822.1" text-anchor="end">4</text>
<text class="t" x="403.6" y="1171.3" text-anchor="middle">4</text>
<text class="t" x="60.1" y="760" text-anchor="end">5</text>
<text class="t" x="465.6" y="1171.3" text-anchor="middle">5</text>
<text class="t" x="60.1" y="697.9" text-anchor="end">6</text>
<text class="t" x="527.6" y="1171.3" text-anchor="middle">6</text>
<text class="t" x="60.1" y="635.8" text-anchor="end">7</text>
<text class="t" x="589.6" y="1171.3" text-anchor="middle">7</text>
<text class="l" x="341.5" y="1188.7" text-anchor="middle">Hash rate</text>
<text class="l" transform="translate(32 880) rotate(-90)" text-anchor="middle">Spatial lag of capacity</text>
<text class="h" x="939.3" y="623.3" text-anchor="middle">Reference Distribution</text>
<path d="M715.5 1124.5C715.83 1124.16 716.75 1123.59 717.5 1122.45C718.25 1121.32 719.25 1120.18 720 1117.68C720.75 1115.18 721.25 1111.99 722 1107.44C722.75 1102.9 723.7 1097.02 724.5 1090.39C725.3 1083.76 725.88 1080.92 726.8 1067.65C727.72 1054.38 729.13 1029.75 730 1010.8C730.87 991.85 731.33 972.9 732 953.95C732.67 935 733.45 916.05 734 897.1C734.55 878.15 734.8 859.2 735.3 840.25C735.8 821.3 736.5 802.35 737 783.4C737.5 764.45 737.8 742.09 738.3 726.55C738.8 711.01 739.48 699.64 740 690.17C740.52 680.69 741.05 674.82 741.4 669.7C741.75 664.58 741.88 661.84 742.1 659.47C742.33 657.1 742.52 655.49 742.75 655.49C742.98 655.49 743.26 657.1 743.5 659.47C743.74 661.84 743.95 664.58 744.2 669.7C744.45 674.82 744.65 680.69 745 690.17C745.35 699.64 745.8 711.01 746.3 726.55C746.8 742.09 747.38 764.45 748 783.4C748.62 802.35 749.43 821.3 750 840.25C750.57 859.2 750.98 878.15 751.4 897.1C751.82 916.05 751.98 935 752.5 953.95C753.02 972.9 753.67 991.85 754.5 1010.8C755.33 1029.75 756.67 1054.38 757.5 1067.65C758.33 1080.92 758.87 1083.76 759.5 1090.39C760.13 1097.02 760.58 1102.9 761.3 1107.44C762.02 1111.99 762.68 1115.18 763.8 1117.68C764.92 1120.18 766.47 1121.32 768 1122.45C769.53 1123.59 772.17 1124.16 773 1124.5Z" fill="#ececec" stroke="none"/>
<path d="M715.5 1124.5C715.83 1124.16 716.75 1123.59 717.5 1122.45C718.25 1121.32 719.25 1120.18 720 1117.68C720.75 1115.18 721.25 1111.99 722 1107.44C722.75 1102.9 723.7 1097.02 724.5 1090.39C725.3 1083.76 725.88 1080.92 726.8 1067.65C727.72 1054.38 729.13 1029.75 730 1010.8C730.87 991.85 731.33 972.9 732 953.95C732.67 935 733.45 916.05 734 897.1C734.55 878.15 734.8 859.2 735.3 840.25C735.8 821.3 736.5 802.35 737 783.4C737.5 764.45 737.8 742.09 738.3 726.55C738.8 711.01 739.48 699.64 740 690.17C740.52 680.69 741.05 674.82 741.4 669.7C741.75 664.58 741.88 661.84 742.1 659.47C742.33 657.1 742.52 655.49 742.75 655.49C742.98 655.49 743.26 657.1 743.5 659.47C743.74 661.84 743.95 664.58 744.2 669.7C744.45 674.82 744.65 680.69 745 690.17C745.35 699.64 745.8 711.01 746.3 726.55C746.8 742.09 747.38 764.45 748 783.4C748.62 802.35 749.43 821.3 750 840.25C750.57 859.2 750.98 878.15 751.4 897.1C751.82 916.05 751.98 935 752.5 953.95C753.02 972.9 753.67 991.85 754.5 1010.8C755.33 1029.75 756.67 1054.38 757.5 1067.65C758.33 1080.92 758.87 1083.76 759.5 1090.39C760.13 1097.02 760.58 1102.9 761.3 1107.44C762.02 1111.99 762.68 1115.18 763.8 1117.68C764.92 1120.18 766.47 1121.32 768 1122.45C769.53 1123.59 772.17 1124.16 773 1124.5" fill="none" stroke="#ababab" stroke-width="1.2" stroke-linejoin="round"/>
<path d="M715.5 1124.5H773" stroke="#c4c4c4" stroke-width=".8"/>
<path d="M741.8 1112.5V1124.5" stroke="#1f6fb4" stroke-width="2.1"/>
<rect x="1158.5" y="1112.5" width="4" height="11.6" fill="#0000f6"/>
<path class="ax" d="M669 631.8V1124.5M669 1124.5h-4.3M669 1067.7h-4.3M669 1010.8h-4.3M669 954h-4.3M669 897.1h-4.3M669 840.2h-4.3M669 783.4h-4.3M669 726.5h-4.3M669 669.7h-4.3M693.8 1149.2H1186.5M741.8 1149.2v4.3M815.9 1149.2v4.3M890 1149.2v4.3M964.1 1149.2v4.3M1038.3 1149.2v4.3M1112.4 1149.2v4.3M1186.5 1149.2v4.3"/>
<text class="t" x="659.6" y="1129.3" text-anchor="end">0</text>
<text class="t" x="659.6" y="1072.5" text-anchor="end">5</text>
<text class="t" x="659.6" y="1015.6" text-anchor="end">10</text>
<text class="t" x="659.6" y="958.8" text-anchor="end">15</text>
<text class="t" x="659.6" y="901.9" text-anchor="end">20</text>
<text class="t" x="659.6" y="845" text-anchor="end">25</text>
<text class="t" x="659.6" y="788.2" text-anchor="end">30</text>
<text class="t" x="659.6" y="731.3" text-anchor="end">35</text>
<text class="t" x="659.6" y="674.5" text-anchor="end">40</text>
<text class="t" x="741.8" y="1168" text-anchor="middle">0.0</text>
<text class="t" x="815.9" y="1168" text-anchor="middle">0.1</text>
<text class="t" x="890" y="1168" text-anchor="middle">0.2</text>
<text class="t" x="964.1" y="1168" text-anchor="middle">0.3</text>
<text class="t" x="1038.3" y="1168" text-anchor="middle">0.4</text>
<text class="t" x="1112.4" y="1168" text-anchor="middle">0.5</text>
<text class="t" x="1186.5" y="1168" text-anchor="middle">0.6</text>
<text class="l" x="939.3" y="1185" text-anchor="middle">Bivariate Moran I: 0.57</text>
<text class="l" transform="translate(633.5 881) rotate(-90)" text-anchor="middle">Density</text>
</g>
<g>
<text class="tag" x="4.2" y="1230.3">(c)</text>
<text class="h" x="341" y="1221.2" text-anchor="middle">Moran’s I: 0.51</text>
<g class="p">
<circle cx="135" cy="1688.1" r="2.4"/><circle cx="135.2" cy="1687.4" r="2.4"/><circle cx="134.6" cy="1686.6" r="2.4"/><circle cx="134.7" cy="1685.9" r="2.4"/><circle cx="134.9" cy="1685.2" r="2.4"/><circle cx="135.2" cy="1684.4" r="2.4"/><circle cx="134.8" cy="1683.7" r="2.4"/><circle cx="135" cy="1682.9" r="2.4"/><circle cx="135.2" cy="1682.2" r="2.4"/><circle cx="134.9" cy="1681.4" r="2.4"/><circle cx="135.1" cy="1680.7" r="2.4"/><circle cx="134.8" cy="1679.9" r="2.4"/><circle cx="134.9" cy="1679.2" r="2.4"/><circle cx="134.9" cy="1678.4" r="2.4"/><circle cx="134.9" cy="1677.7" r="2.4"/><circle cx="135" cy="1676.9" r="2.4"/><circle cx="135.8" cy="1676.2" r="2.4"/><circle cx="134.6" cy="1675.4" r="2.4"/><circle cx="134.8" cy="1674.7" r="2.4"/><circle cx="135.6" cy="1674" r="2.4"/><circle cx="134.9" cy="1673.2" r="2.4"/><circle cx="135.4" cy="1672.5" r="2.4"/><circle cx="135.2" cy="1671.7" r="2.4"/><circle cx="135.3" cy="1671" r="2.4"/><circle cx="135" cy="1670.2" r="2.4"/><circle cx="135.3" cy="1669.5" r="2.4"/><circle cx="135" cy="1668.7" r="2.4"/><circle cx="135.5" cy="1668" r="2.4"/><circle cx="135.2" cy="1667.2" r="2.4"/><circle cx="134.7" cy="1666.5" r="2.4"/><circle cx="135.5" cy="1665.7" r="2.4"/><circle cx="134.9" cy="1665" r="2.4"/><circle cx="135.3" cy="1664.3" r="2.4"/><circle cx="135.2" cy="1663.5" r="2.4"/><circle cx="135.3" cy="1662.8" r="2.4"/><circle cx="135.3" cy="1662" r="2.4"/><circle cx="135.2" cy="1661.3" r="2.4"/><circle cx="135.4" cy="1660.5" r="2.4"/><circle cx="135.4" cy="1659.8" r="2.4"/><circle cx="134.9" cy="1659" r="2.4"/><circle cx="135" cy="1658.3" r="2.4"/><circle cx="135.4" cy="1657.5" r="2.4"/><circle cx="134.9" cy="1656.8" r="2.4"/><circle cx="134.9" cy="1656" r="2.4"/><circle cx="135" cy="1655.3" r="2.4"/><circle cx="135.1" cy="1654.5" r="2.4"/><circle cx="135.1" cy="1653.8" r="2.4"/><circle cx="135.1" cy="1653.1" r="2.4"/><circle cx="135.7" cy="1652.3" r="2.4"/><circle cx="135" cy="1651.6" r="2.4"/><circle cx="134.6" cy="1650.8" r="2.4"/><circle cx="135.1" cy="1650.1" r="2.4"/><circle cx="135.2" cy="1649.3" r="2.4"/><circle cx="135" cy="1648.6" r="2.4"/><circle cx="135" cy="1647.8" r="2.4"/><circle cx="135.4" cy="1647.1" r="2.4"/><circle cx="134.9" cy="1646.3" r="2.4"/><circle cx="134.9" cy="1645.6" r="2.4"/><circle cx="135.2" cy="1644.8" r="2.4"/><circle cx="135.1" cy="1644.1" r="2.4"/><circle cx="135.5" cy="1643.4" r="2.4"/><circle cx="135.2" cy="1642.6" r="2.4"/><circle cx="135" cy="1641.9" r="2.4"/><circle cx="135.6" cy="1641.1" r="2.4"/><circle cx="135.2" cy="1640.4" r="2.4"/><circle cx="135.3" cy="1639.6" r="2.4"/><circle cx="135.2" cy="1638.9" r="2.4"/><circle cx="135.4" cy="1638.1" r="2.4"/><circle cx="134.8" cy="1637.4" r="2.4"/><circle cx="135.2" cy="1636.6" r="2.4"/><circle cx="134.7" cy="1635.9" r="2.4"/><circle cx="135.2" cy="1635.1" r="2.4"/><circle cx="135.3" cy="1634.4" r="2.4"/><circle cx="135.4" cy="1633.6" r="2.4"/><circle cx="134.6" cy="1632.9" r="2.4"/><circle cx="135.2" cy="1632.2" r="2.4"/><circle cx="135.5" cy="1631.4" r="2.4"/><circle cx="135.3" cy="1630.7" r="2.4"/><circle cx="135.2" cy="1629.9" r="2.4"/><circle cx="135.2" cy="1629.2" r="2.4"/><circle cx="135.1" cy="1628.4" r="2.4"/><circle cx="134.9" cy="1627.7" r="2.4"/><circle cx="135" cy="1626.9" r="2.4"/><circle cx="134.5" cy="1626.2" r="2.4"/><circle cx="135.1" cy="1625.4" r="2.4"/><circle cx="135" cy="1624.7" r="2.4"/><circle cx="135.2" cy="1623.9" r="2.4"/><circle cx="135.3" cy="1623.2" r="2.4"/><circle cx="135.3" cy="1622.5" r="2.4"/><circle cx="135.3" cy="1621.7" r="2.4"/><circle cx="135.2" cy="1621" r="2.4"/><circle cx="134.9" cy="1620.2" r="2.4"/><circle cx="135.3" cy="1619.5" r="2.4"/><circle cx="134.8" cy="1618.7" r="2.4"/><circle cx="134.9" cy="1618" r="2.4"/><circle cx="134.9" cy="1617.2" r="2.4"/><circle cx="135" cy="1616.5" r="2.4"/><circle cx="134.9" cy="1615.7" r="2.4"/><circle cx="135" cy="1615" r="2.4"/><circle cx="135" cy="1614.2" r="2.4"/><circle cx="135.1" cy="1613.5" r="2.4"/><circle cx="135.1" cy="1612.7" r="2.4"/><circle cx="134.4" cy="1612" r="2.4"/><circle cx="135.3" cy="1611.3" r="2.4"/><circle cx="134.7" cy="1610.5" r="2.4"/><circle cx="134.9" cy="1609.8" r="2.4"/><circle cx="135.7" cy="1609" r="2.4"/><circle cx="134.9" cy="1608.3" r="2.4"/><circle cx="134.9" cy="1607.5" r="2.4"/><circle cx="135.1" cy="1606.8" r="2.4"/><circle cx="134.9" cy="1606" r="2.4"/><circle cx="135.2" cy="1605.3" r="2.4"/><circle cx="135" cy="1604.5" r="2.4"/><circle cx="135.2" cy="1603.8" r="2.4"/><circle cx="134.8" cy="1603" r="2.4"/><circle cx="134.9" cy="1602.3" r="2.4"/><circle cx="134.9" cy="1601.6" r="2.4"/><circle cx="135" cy="1600.8" r="2.4"/><circle cx="135" cy="1600.1" r="2.4"/><circle cx="134.9" cy="1599.3" r="2.4"/><circle cx="135.3" cy="1598.6" r="2.4"/><circle cx="135" cy="1597.8" r="2.4"/><circle cx="135.2" cy="1597.1" r="2.4"/><circle cx="134.6" cy="1596.3" r="2.4"/><circle cx="135.2" cy="1595.6" r="2.4"/><circle cx="135.3" cy="1594.8" r="2.4"/><circle cx="134.9" cy="1594.1" r="2.4"/><circle cx="135.4" cy="1593.3" r="2.4"/><circle cx="135.1" cy="1592.6" r="2.4"/><circle cx="134.8" cy="1591.9" r="2.4"/><circle cx="135" cy="1591.1" r="2.4"/><circle cx="134.9" cy="1590.4" r="2.4"/><circle cx="135" cy="1589.6" r="2.4"/><circle cx="135.2" cy="1588.9" r="2.4"/><circle cx="135" cy="1588.1" r="2.4"/><circle cx="135.2" cy="1587.4" r="2.4"/><circle cx="135.4" cy="1586.6" r="2.4"/><circle cx="135.4" cy="1585.9" r="2.4"/><circle cx="135.2" cy="1585.1" r="2.4"/><circle cx="135.3" cy="1584.4" r="2.4"/><circle cx="135.6" cy="1583.6" r="2.4"/><circle cx="134.9" cy="1582.9" r="2.4"/><circle cx="135.3" cy="1582.1" r="2.4"/><circle cx="134.8" cy="1581.4" r="2.4"/><circle cx="134.9" cy="1580.7" r="2.4"/><circle cx="135.3" cy="1579.9" r="2.4"/><circle cx="135.3" cy="1579.2" r="2.4"/><circle cx="135" cy="1578.4" r="2.4"/><circle cx="135.1" cy="1577.7" r="2.4"/><circle cx="134.6" cy="1576.9" r="2.4"/><circle cx="135.3" cy="1576.2" r="2.4"/><circle cx="134.9" cy="1575.4" r="2.4"/><circle cx="135.4" cy="1574.7" r="2.4"/><circle cx="135.4" cy="1573.9" r="2.4"/><circle cx="135.1" cy="1573.2" r="2.4"/><circle cx="134.8" cy="1572.4" r="2.4"/><circle cx="135.4" cy="1571.7" r="2.4"/><circle cx="134.8" cy="1571" r="2.4"/><circle cx="135.3" cy="1570.2" r="2.4"/><circle cx="134.8" cy="1569.5" r="2.4"/><circle cx="134.9" cy="1568.7" r="2.4"/><circle cx="135" cy="1568" r="2.4"/><circle cx="135" cy="1567.2" r="2.4"/><circle cx="134.9" cy="1566.5" r="2.4"/><circle cx="135" cy="1565.7" r="2.4"/><circle cx="135.3" cy="1565" r="2.4"/><circle cx="135.1" cy="1564.2" r="2.4"/><circle cx="135.2" cy="1563.5" r="2.4"/><circle cx="134.3" cy="1562.7" r="2.4"/><circle cx="134.9" cy="1562" r="2.4"/><circle cx="135.1" cy="1561.2" r="2.4"/><circle cx="134.7" cy="1560.5" r="2.4"/><circle cx="135.1" cy="1559.8" r="2.4"/><circle cx="135.1" cy="1559" r="2.4"/><circle cx="135.3" cy="1558.3" r="2.4"/><circle cx="135.3" cy="1557.5" r="2.4"/><circle cx="134.6" cy="1556.8" r="2.4"/><circle cx="135.3" cy="1556" r="2.4"/><circle cx="135.3" cy="1555.3" r="2.4"/><circle cx="134.8" cy="1554.5" r="2.4"/><circle cx="134.9" cy="1553.8" r="2.4"/><circle cx="135.1" cy="1553" r="2.4"/><circle cx="135.1" cy="1552.3" r="2.4"/><circle cx="135.2" cy="1551.5" r="2.4"/><circle cx="134.6" cy="1550.8" r="2.4"/><circle cx="135.1" cy="1550.1" r="2.4"/><circle cx="135.2" cy="1549.3" r="2.4"/><circle cx="135.1" cy="1548.6" r="2.4"/><circle cx="134.5" cy="1547.8" r="2.4"/><circle cx="135.2" cy="1547.1" r="2.4"/><circle cx="134.9" cy="1546.3" r="2.4"/><circle cx="134.7" cy="1545.3" r="2.4"/><circle cx="135.1" cy="1543.9" r="2.4"/><circle cx="134.9" cy="1542" r="2.4"/><circle cx="135.2" cy="1541.1" r="2.4"/><circle cx="135.1" cy="1539.7" r="2.4"/><circle cx="134.7" cy="1537.6" r="2.4"/><circle cx="134.7" cy="1535.3" r="2.4"/><circle cx="135.1" cy="1533.3" r="2.4"/><circle cx="135.2" cy="1532.6" r="2.4"/><circle cx="135.8" cy="1531.8" r="2.4"/><circle cx="135" cy="1530" r="2.4"/><circle cx="134.9" cy="1527.5" r="2.4"/><circle cx="135" cy="1525.5" r="2.4"/><circle cx="135.1" cy="1523.7" r="2.4"/><circle cx="135.8" cy="1521.3" r="2.4"/><circle cx="135.4" cy="1518.9" r="2.4"/><circle cx="134.9" cy="1517.4" r="2.4"/><circle cx="134.7" cy="1516.4" r="2.4"/><circle cx="135.1" cy="1515.2" r="2.4"/><circle cx="135.2" cy="1512.1" r="2.4"/><circle cx="135.3" cy="1510.8" r="2.4"/><circle cx="135.1" cy="1507.8" r="2.4"/><circle cx="135" cy="1507" r="2.4"/><circle cx="134.6" cy="1503" r="2.4"/><circle cx="135.1" cy="1499.1" r="2.4"/><circle cx="134.8" cy="1495.7" r="2.4"/><circle cx="135.5" cy="1494.7" r="2.4"/><circle cx="135.4" cy="1492.5" r="2.4"/><circle cx="135.6" cy="1488.2" r="2.4"/><circle cx="134.3" cy="1485.3" r="2.4"/><circle cx="135.3" cy="1484.1" r="2.4"/><circle cx="134.8" cy="1479.8" r="2.4"/><circle cx="135" cy="1475.9" r="2.4"/><circle cx="135" cy="1474.7" r="2.4"/><circle cx="135.2" cy="1470.5" r="2.4"/><circle cx="135.1" cy="1465.5" r="2.4"/>
<circle cx="420.2" cy="1498.7" r="2.4"/><circle cx="192.5" cy="1646" r="2.4"/><circle cx="482.2" cy="1575.4" r="2.4"/><circle cx="377" cy="1461.6" r="2.4"/><circle cx="379.7" cy="1648.8" r="2.4"/><circle cx="427.1" cy="1573.5" r="2.4"/><circle cx="234.2" cy="1458.3" r="2.4"/><circle cx="285" cy="1649.1" r="2.4"/><circle cx="360.1" cy="1499.1" r="2.4"/><circle cx="512.9" cy="1538.5" r="2.4"/><circle cx="275.2" cy="1669.4" r="2.4"/><circle cx="166" cy="1599.9" r="2.4"/>
<circle cx="160.8" cy="1628" r="2.4"/><circle cx="342.7" cy="1570.3" r="2.4"/><circle cx="184" cy="1670.2" r="2.4"/><circle cx="184.5" cy="1497.1" r="2.4"/><circle cx="180.1" cy="1568.9" r="2.4"/><circle cx="443.2" cy="1493.2" r="2.4"/><circle cx="417" cy="1502" r="2.4"/><circle cx="210.2" cy="1660.9" r="2.4"/><circle cx="423" cy="1534.5" r="2.4"/><circle cx="459" cy="1557.8" r="2.4"/><circle cx="246.2" cy="1552.2" r="2.4"/><circle cx="238.6" cy="1546.5" r="2.4"/>
<circle cx="346.6" cy="1519.7" r="2.4"/><circle cx="205.9" cy="1597.6" r="2.4"/><circle cx="409.1" cy="1512" r="2.4"/><circle cx="210.5" cy="1581.8" r="2.4"/><circle cx="289.2" cy="1477.9" r="2.4"/><circle cx="316.7" cy="1672.5" r="2.4"/><circle cx="434.4" cy="1654.5" r="2.4"/><circle cx="372.2" cy="1585.8" r="2.4"/><circle cx="355" cy="1553.7" r="2.4"/><circle cx="211.7" cy="1631.5" r="2.4"/><circle cx="237.6" cy="1491.2" r="2.4"/><circle cx="178.4" cy="1502.1" r="2.4"/>
<circle cx="375" cy="1573.1" r="2.4"/><circle cx="215.5" cy="1467.8" r="2.4"/><circle cx="271.6" cy="1491.5" r="2.4"/><circle cx="262.2" cy="1508.6" r="2.4"/><circle cx="170.2" cy="1578.2" r="2.4"/><circle cx="166.9" cy="1654.2" r="2.4"/><circle cx="376.1" cy="1520.4" r="2.4"/><circle cx="276.7" cy="1463.4" r="2.4"/><circle cx="397" cy="1649.2" r="2.4"/><circle cx="432.6" cy="1583" r="2.4"/><circle cx="437.7" cy="1575.6" r="2.4"/><circle cx="282.8" cy="1539.5" r="2.4"/>
<circle cx="253.9" cy="1507.4" r="2.4"/><circle cx="299.2" cy="1566.7" r="2.4"/><circle cx="284" cy="1469.1" r="2.4"/><circle cx="439" cy="1484.3" r="2.4"/><circle cx="246.9" cy="1517.8" r="2.4"/><circle cx="404.3" cy="1467.9" r="2.4"/><circle cx="329.2" cy="1521.9" r="2.4"/><circle cx="382.7" cy="1669.9" r="2.4"/><circle cx="162" cy="1590.6" r="2.4"/><circle cx="219.4" cy="1572.9" r="2.4"/><circle cx="428.6" cy="1643.9" r="2.4"/><circle cx="427.1" cy="1653.2" r="2.4"/>
<circle cx="151.5" cy="1574.6" r="2.4"/><circle cx="259.9" cy="1597.5" r="2.4"/><circle cx="233.6" cy="1588.4" r="2.4"/><circle cx="158.2" cy="1536.3" r="2.4"/><circle cx="247.7" cy="1600.8" r="2.4"/><circle cx="199.7" cy="1510.4" r="2.4"/><circle cx="174.9" cy="1647.7" r="2.4"/><circle cx="216.5" cy="1559.8" r="2.4"/><circle cx="272.3" cy="1492.1" r="2.4"/><circle cx="239" cy="1603.6" r="2.4"/><circle cx="276.7" cy="1473.6" r="2.4"/><circle cx="232.1" cy="1652.5" r="2.4"/>
<circle cx="331" cy="1490" r="2.4"/><circle cx="240.4" cy="1544.9" r="2.4"/><circle cx="226.7" cy="1648.8" r="2.4"/><circle cx="212" cy="1645.7" r="2.4"/><circle cx="192.2" cy="1627.9" r="2.4"/><circle cx="322.1" cy="1554.5" r="2.4"/><circle cx="314.7" cy="1536.8" r="2.4"/><circle cx="179.1" cy="1546.2" r="2.4"/><circle cx="233.6" cy="1648" r="2.4"/><circle cx="277.3" cy="1499.5" r="2.4"/><circle cx="348.7" cy="1650.5" r="2.4"/><circle cx="387" cy="1612.2" r="2.4"/>
<circle cx="188.2" cy="1532.1" r="2.4"/><circle cx="400.2" cy="1669.3" r="2.4"/><circle cx="196.1" cy="1490.5" r="2.4"/><circle cx="421.3" cy="1510.9" r="2.4"/><circle cx="268.7" cy="1547.2" r="2.4"/><circle cx="373" cy="1643.2" r="2.4"/><circle cx="254.6" cy="1481.3" r="2.4"/><circle cx="222.9" cy="1666.1" r="2.4"/><circle cx="396.5" cy="1565.9" r="2.4"/><circle cx="333.7" cy="1505" r="2.4"/><circle cx="252.2" cy="1564.7" r="2.4"/><circle cx="334" cy="1616.8" r="2.4"/>
<circle cx="212.9" cy="1613.3" r="2.4"/><circle cx="386.1" cy="1603.3" r="2.4"/><circle cx="201.2" cy="1629.8" r="2.4"/><circle cx="274.2" cy="1480.2" r="2.4"/><circle cx="249.3" cy="1657.2" r="2.4"/><circle cx="216.8" cy="1503.3" r="2.4"/><circle cx="400.2" cy="1611.2" r="2.4"/><circle cx="350.3" cy="1498.5" r="2.4"/><circle cx="394.3" cy="1481.3" r="2.4"/><circle cx="163.8" cy="1614.1" r="2.4"/><circle cx="233.6" cy="1469.2" r="2.4"/><circle cx="271.3" cy="1638.2" r="2.4"/>
<circle cx="275.7" cy="1657" r="2.4"/><circle cx="262.9" cy="1580.9" r="2.4"/><circle cx="317.2" cy="1469.6" r="2.4"/><circle cx="406" cy="1478.9" r="2.4"/><circle cx="297.3" cy="1611.7" r="2.4"/><circle cx="322.7" cy="1493.1" r="2.4"/><circle cx="158.9" cy="1660.8" r="2.4"/><circle cx="269.2" cy="1472.8" r="2.4"/><circle cx="203.8" cy="1527.9" r="2.4"/><circle cx="482.1" cy="1585.9" r="2.4"/><circle cx="177.6" cy="1512.4" r="2.4"/><circle cx="440.3" cy="1504.3" r="2.4"/>
<circle cx="301.9" cy="1496.1" r="2.4"/><circle cx="187" cy="1520.2" r="2.4"/><circle cx="431.5" cy="1615.4" r="2.4"/><circle cx="344.8" cy="1663.6" r="2.4"/><circle cx="336.2" cy="1476" r="2.4"/><circle cx="169.9" cy="1675.4" r="2.4"/><circle cx="297.5" cy="1597.2" r="2.4"/><circle cx="363.4" cy="1573" r="2.4"/><circle cx="248" cy="1568.1" r="2.4"/><circle cx="300.9" cy="1500.2" r="2.4"/><circle cx="365.3" cy="1611.3" r="2.4"/><circle cx="248.8" cy="1654.9" r="2.4"/>
<circle cx="308.5" cy="1480.4" r="2.4"/><circle cx="379.3" cy="1491.7" r="2.4"/><circle cx="341" cy="1540.4" r="2.4"/><circle cx="191.5" cy="1538.2" r="2.4"/><circle cx="194.2" cy="1671.9" r="2.4"/><circle cx="350.8" cy="1594.1" r="2.4"/><circle cx="292.5" cy="1488.3" r="2.4"/><circle cx="403.8" cy="1476.7" r="2.4"/><circle cx="249.4" cy="1491.9" r="2.4"/><circle cx="349.1" cy="1482.3" r="2.4"/><circle cx="190.3" cy="1554.6" r="2.4"/><circle cx="370" cy="1615.4" r="2.4"/>
<circle cx="279.3" cy="1593.8" r="2.4"/><circle cx="182.5" cy="1653" r="2.4"/><circle cx="342.5" cy="1458.4" r="2.4"/><circle cx="212.9" cy="1586.7" r="2.4"/><circle cx="197.9" cy="1538.8" r="2.4"/><circle cx="305.5" cy="1651.5" r="2.4"/><circle cx="295.8" cy="1511" r="2.4"/><circle cx="164.5" cy="1538.2" r="2.4"/><circle cx="377.1" cy="1651.1" r="2.4"/><circle cx="192.4" cy="1648.4" r="2.4"/><circle cx="179.7" cy="1481.1" r="2.4"/><circle cx="236.8" cy="1589.2" r="2.4"/>
<circle cx="236.6" cy="1511.6" r="2.4"/><circle cx="245.8" cy="1556.4" r="2.4"/><circle cx="255.9" cy="1474.9" r="2.4"/><circle cx="319.4" cy="1636.5" r="2.4"/><circle cx="385.8" cy="1537.7" r="2.4"/><circle cx="165.2" cy="1511.4" r="2.4"/><circle cx="437.8" cy="1524.2" r="2.4"/><circle cx="422.6" cy="1549.5" r="2.4"/><circle cx="337.8" cy="1654.8" r="2.4"/><circle cx="392.5" cy="1458.3" r="2.4"/><circle cx="317.7" cy="1595.3" r="2.4"/><circle cx="183" cy="1572.2" r="2.4"/>
<circle cx="166.9" cy="1504.7" r="2.4"/><circle cx="360.6" cy="1636.9" r="2.4"/><circle cx="404.3" cy="1489.7" r="2.4"/><circle cx="186" cy="1545.5" r="2.4"/><circle cx="338.6" cy="1514" r="2.4"/><circle cx="372.7" cy="1537.5" r="2.4"/><circle cx="429.9" cy="1574.5" r="2.4"/><circle cx="393.8" cy="1658.1" r="2.4"/><circle cx="346.4" cy="1540.1" r="2.4"/><circle cx="304.1" cy="1510.7" r="2.4"/><circle cx="372.4" cy="1492" r="2.4"/><circle cx="370" cy="1562.1" r="2.4"/>
<circle cx="290.6" cy="1469.2" r="2.4"/><circle cx="199.3" cy="1602.7" r="2.4"/><circle cx="251.8" cy="1596.3" r="2.4"/><circle cx="372.6" cy="1610.7" r="2.4"/><circle cx="303.3" cy="1558.8" r="2.4"/><circle cx="432.6" cy="1624.4" r="2.4"/><circle cx="311" cy="1486" r="2.4"/><circle cx="168.3" cy="1629.3" r="2.4"/><circle cx="233.5" cy="1614.5" r="2.4"/><circle cx="412.8" cy="1541" r="2.4"/><circle cx="256.4" cy="1500.8" r="2.4"/><circle cx="220.7" cy="1533.1" r="2.4"/>
<circle cx="418" cy="1623.7" r="2.4"/><circle cx="425.6" cy="1476.1" r="2.4"/><circle cx="464.1" cy="1472.8" r="2.4"/><circle cx="199" cy="1582.7" r="2.4"/><circle cx="221" cy="1560.9" r="2.4"/><circle cx="194.1" cy="1591.5" r="2.4"/><circle cx="266.7" cy="1651.5" r="2.4"/><circle cx="237.2" cy="1592.8" r="2.4"/><circle cx="433.8" cy="1647.4" r="2.4"/><circle cx="399.8" cy="1514.7" r="2.4"/><circle cx="200.5" cy="1514.7" r="2.4"/><circle cx="470.7" cy="1487.2" r="2.4"/>
<circle cx="169.9" cy="1650.9" r="2.4"/><circle cx="246.8" cy="1491" r="2.4"/><circle cx="454.4" cy="1567" r="2.4"/><circle cx="326.9" cy="1543.5" r="2.4"/><circle cx="205.8" cy="1612.4" r="2.4"/><circle cx="395.8" cy="1654.9" r="2.4"/><circle cx="283.6" cy="1502.6" r="2.4"/><circle cx="426" cy="1463.9" r="2.4"/><circle cx="292.3" cy="1623.5" r="2.4"/><circle cx="393.4" cy="1499.5" r="2.4"/><circle cx="340.7" cy="1631.1" r="2.4"/><circle cx="275.3" cy="1543.9" r="2.4"/>
<circle cx="334.6" cy="1662" r="2.4"/><circle cx="389.6" cy="1496.1" r="2.4"/><circle cx="264.5" cy="1525.9" r="2.4"/><circle cx="251.6" cy="1469.6" r="2.4"/><circle cx="189.4" cy="1618.1" r="2.4"/><circle cx="194.8" cy="1661.5" r="2.4"/><circle cx="205.1" cy="1505" r="2.4"/><circle cx="155.1" cy="1606.6" r="2.4"/><circle cx="295.7" cy="1613.1" r="2.4"/><circle cx="171.6" cy="1581.4" r="2.4"/><circle cx="296.4" cy="1556.5" r="2.4"/><circle cx="405.4" cy="1493" r="2.4"/>
<circle cx="398.9" cy="1549.5" r="2.4"/><circle cx="325.9" cy="1601.3" r="2.4"/><circle cx="420.3" cy="1514.4" r="2.4"/><circle cx="167.8" cy="1663.7" r="2.4"/><circle cx="269.1" cy="1588.2" r="2.4"/><circle cx="430.7" cy="1481.8" r="2.4"/><circle cx="423.5" cy="1464.7" r="2.4"/><circle cx="354.6" cy="1558.9" r="2.4"/><circle cx="200.7" cy="1618.3" r="2.4"/><circle cx="329.8" cy="1582.2" r="2.4"/><circle cx="378.9" cy="1600.2" r="2.4"/><circle cx="240.4" cy="1486.3" r="2.4"/>
<circle cx="339.9" cy="1552.4" r="2.4"/><circle cx="383.4" cy="1471.3" r="2.4"/><circle cx="344.2" cy="1519.5" r="2.4"/><circle cx="418.4" cy="1457.2" r="2.4"/><circle cx="182.6" cy="1644.8" r="2.4"/><circle cx="342.7" cy="1551.4" r="2.4"/><circle cx="169.3" cy="1640.1" r="2.4"/><circle cx="371.9" cy="1462" r="2.4"/><circle cx="361.5" cy="1631.5" r="2.4"/><circle cx="215" cy="1654.4" r="2.4"/><circle cx="164.7" cy="1637.1" r="2.4"/><circle cx="156.9" cy="1547.7" r="2.4"/>
<circle cx="213" cy="1588.5" r="2.4"/><circle cx="175.1" cy="1584.3" r="2.4"/><circle cx="162" cy="1517.4" r="2.4"/><circle cx="358.7" cy="1592.4" r="2.4"/><circle cx="261.3" cy="1651.8" r="2.4"/><circle cx="201.1" cy="1532.3" r="2.4"/><circle cx="325.2" cy="1469.1" r="2.4"/><circle cx="306.2" cy="1589.4" r="2.4"/><circle cx="199.1" cy="1636.7" r="2.4"/><circle cx="399" cy="1569.1" r="2.4"/><circle cx="248.5" cy="1634.4" r="2.4"/><circle cx="241.5" cy="1630.3" r="2.4"/>
<circle cx="299.4" cy="1556.9" r="2.4"/><circle cx="212" cy="1549.3" r="2.4"/><circle cx="463.4" cy="1539" r="2.4"/><circle cx="179.1" cy="1655" r="2.4"/><circle cx="415.7" cy="1517.2" r="2.4"/><circle cx="234.2" cy="1636.2" r="2.4"/><circle cx="207" cy="1649.6" r="2.4"/><circle cx="346.2" cy="1612.6" r="2.4"/><circle cx="261.6" cy="1520.4" r="2.4"/><circle cx="155.2" cy="1507.7" r="2.4"/><circle cx="208.8" cy="1586.2" r="2.4"/><circle cx="153.2" cy="1557.7" r="2.4"/>
<circle cx="215.4" cy="1550.5" r="2.4"/><circle cx="181.1" cy="1642.4" r="2.4"/><circle cx="336.5" cy="1579" r="2.4"/><circle cx="235.1" cy="1650.4" r="2.4"/><circle cx="171.8" cy="1556.3" r="2.4"/><circle cx="294.1" cy="1628.8" r="2.4"/><circle cx="183.8" cy="1665.7" r="2.4"/><circle cx="261.2" cy="1514.5" r="2.4"/><circle cx="283.7" cy="1486.9" r="2.4"/><circle cx="278.7" cy="1619.3" r="2.4"/><circle cx="283.6" cy="1512.7" r="2.4"/><circle cx="225.7" cy="1659.2" r="2.4"/>
<circle cx="337.6" cy="1471.4" r="2.4"/><circle cx="279.1" cy="1503.8" r="2.4"/><circle cx="191.7" cy="1599.3" r="2.4"/><circle cx="222.4" cy="1523.7" r="2.4"/><circle cx="211.3" cy="1482.9" r="2.4"/><circle cx="190.3" cy="1642.2" r="2.4"/><circle cx="151" cy="1600.5" r="2.4"/><circle cx="168.4" cy="1608.9" r="2.4"/><circle cx="194" cy="1617.2" r="2.4"/><circle cx="481.4" cy="1555.2" r="2.4"/><circle cx="461.3" cy="1508.2" r="2.4"/><circle cx="278.7" cy="1583.7" r="2.4"/>
<circle cx="273.7" cy="1669.1" r="2.4"/><circle cx="179.5" cy="1537.8" r="2.4"/><circle cx="381.3" cy="1529.2" r="2.4"/><circle cx="432.4" cy="1667.4" r="2.4"/><circle cx="397" cy="1582.5" r="2.4"/><circle cx="362.4" cy="1587.6" r="2.4"/><circle cx="215.1" cy="1566.8" r="2.4"/><circle cx="369.8" cy="1561.1" r="2.4"/><circle cx="166.7" cy="1631.2" r="2.4"/><circle cx="319.8" cy="1571.4" r="2.4"/><circle cx="271.8" cy="1661.1" r="2.4"/><circle cx="226.2" cy="1531.9" r="2.4"/>
<circle cx="471.1" cy="1563.3" r="2.4"/><circle cx="328.9" cy="1623.9" r="2.4"/><circle cx="423.3" cy="1646.5" r="2.4"/><circle cx="283.9" cy="1464" r="2.4"/><circle cx="316" cy="1550.5" r="2.4"/><circle cx="467.3" cy="1540" r="2.4"/><circle cx="420.3" cy="1591.4" r="2.4"/><circle cx="417.2" cy="1528.9" r="2.4"/><circle cx="452.6" cy="1490.1" r="2.4"/><circle cx="411" cy="1557.1" r="2.4"/><circle cx="257.1" cy="1556" r="2.4"/><circle cx="281.3" cy="1676.4" r="2.4"/>
<circle cx="428.1" cy="1588.4" r="2.4"/><circle cx="483.6" cy="1509.4" r="2.4"/><circle cx="305.2" cy="1627.3" r="2.4"/><circle cx="328.1" cy="1514.9" r="2.4"/><circle cx="243.1" cy="1607.7" r="2.4"/><circle cx="171.7" cy="1609" r="2.4"/><circle cx="467.5" cy="1475.1" r="2.4"/><circle cx="389.8" cy="1622.5" r="2.4"/><circle cx="386.3" cy="1550.5" r="2.4"/><circle cx="385.1" cy="1569" r="2.4"/><circle cx="366.4" cy="1492.5" r="2.4"/><circle cx="285.8" cy="1486.5" r="2.4"/>
<circle cx="380.6" cy="1585.9" r="2.4"/><circle cx="358.7" cy="1563.7" r="2.4"/><circle cx="425.3" cy="1613.9" r="2.4"/><circle cx="159.3" cy="1642.7" r="2.4"/><circle cx="225.4" cy="1614.6" r="2.4"/><circle cx="214.7" cy="1537.6" r="2.4"/><circle cx="344.2" cy="1525.4" r="2.4"/><circle cx="368.4" cy="1501.8" r="2.4"/><circle cx="308.6" cy="1566.5" r="2.4"/><circle cx="163.9" cy="1677.4" r="2.4"/><circle cx="215.5" cy="1656" r="2.4"/><circle cx="210.8" cy="1509.9" r="2.4"/>
<circle cx="484.3" cy="1569" r="2.4"/><circle cx="380.4" cy="1525.1" r="2.4"/><circle cx="508.6" cy="1529" r="2.4"/><circle cx="308.3" cy="1524.8" r="2.4"/><circle cx="263.3" cy="1488.8" r="2.4"/><circle cx="375.6" cy="1627.4" r="2.4"/><circle cx="538.9" cy="1537.7" r="2.4"/><circle cx="218.3" cy="1584.1" r="2.4"/><circle cx="299.8" cy="1603.6" r="2.4"/><circle cx="222.9" cy="1588.8" r="2.4"/><circle cx="333" cy="1658.6" r="2.4"/><circle cx="264.8" cy="1661.8" r="2.4"/>
<circle cx="293.7" cy="1547.2" r="2.4"/><circle cx="341" cy="1559.9" r="2.4"/><circle cx="366.8" cy="1510.3" r="2.4"/><circle cx="376" cy="1573.6" r="2.4"/><circle cx="382.8" cy="1586.1" r="2.4"/><circle cx="314.5" cy="1474.7" r="2.4"/><circle cx="408.2" cy="1570.3" r="2.4"/><circle cx="182.3" cy="1616" r="2.4"/><circle cx="228" cy="1625.4" r="2.4"/><circle cx="433.3" cy="1568.6" r="2.4"/><circle cx="267.1" cy="1595.5" r="2.4"/><circle cx="293.1" cy="1608" r="2.4"/>
<circle cx="279.6" cy="1673.6" r="2.4"/><circle cx="437.7" cy="1544.1" r="2.4"/><circle cx="385.7" cy="1615.1" r="2.4"/><circle cx="336.9" cy="1641.4" r="2.4"/><circle cx="444.6" cy="1488.9" r="2.4"/><circle cx="259.6" cy="1478.5" r="2.4"/><circle cx="189.7" cy="1488.7" r="2.4"/><circle cx="175.8" cy="1644.9" r="2.4"/><circle cx="329.2" cy="1502.1" r="2.4"/><circle cx="420" cy="1472.3" r="2.4"/><circle cx="342.7" cy="1537.8" r="2.4"/><circle cx="377.2" cy="1553" r="2.4"/>
<circle cx="261.7" cy="1457.1" r="2.4"/><circle cx="270.8" cy="1606.8" r="2.4"/><circle cx="220.6" cy="1642.3" r="2.4"/><circle cx="373.5" cy="1579.5" r="2.4"/><circle cx="349.8" cy="1548.6" r="2.4"/><circle cx="338.3" cy="1673" r="2.4"/><circle cx="398.9" cy="1603.5" r="2.4"/><circle cx="298.2" cy="1521.9" r="2.4"/><circle cx="320.5" cy="1652.9" r="2.4"/><circle cx="210.2" cy="1607.5" r="2.4"/><circle cx="214.9" cy="1510.9" r="2.4"/><circle cx="337.2" cy="1632.4" r="2.4"/>
<circle cx="203.5" cy="1559.7" r="2.4"/><circle cx="271.7" cy="1590.9" r="2.4"/><circle cx="342" cy="1554" r="2.4"/><circle cx="299.6" cy="1477.9" r="2.4"/><circle cx="344.6" cy="1528.5" r="2.4"/><circle cx="334.1" cy="1628.2" r="2.4"/><circle cx="292.6" cy="1509.2" r="2.4"/><circle cx="177.1" cy="1646.4" r="2.4"/><circle cx="322.9" cy="1558.2" r="2.4"/><circle cx="359.3" cy="1605.5" r="2.4"/><circle cx="288.8" cy="1471.5" r="2.4"/><circle cx="225.3" cy="1577" r="2.4"/>
<circle cx="316.2" cy="1485.4" r="2.4"/><circle cx="238.8" cy="1606.2" r="2.4"/><circle cx="243.9" cy="1477.4" r="2.4"/><circle cx="406.4" cy="1514.3" r="2.4"/><circle cx="267.3" cy="1518.3" r="2.4"/><circle cx="281.1" cy="1501.4" r="2.4"/><circle cx="299.3" cy="1552.5" r="2.4"/><circle cx="293.2" cy="1616.4" r="2.4"/><circle cx="289.7" cy="1562.7" r="2.4"/><circle cx="269" cy="1588.7" r="2.4"/><circle cx="324.5" cy="1563.4" r="2.4"/><circle cx="330.2" cy="1485.4" r="2.4"/>
<circle cx="278" cy="1663.3" r="2.4"/><circle cx="434.2" cy="1565.5" r="2.4"/><circle cx="275.6" cy="1668.9" r="2.4"/><circle cx="245.2" cy="1472.8" r="2.4"/><circle cx="313.9" cy="1562.4" r="2.4"/><circle cx="266.9" cy="1608" r="2.4"/><circle cx="395.3" cy="1651.1" r="2.4"/><circle cx="156.1" cy="1567" r="2.4"/><circle cx="350.3" cy="1475.6" r="2.4"/><circle cx="459" cy="1552.8" r="2.4"/><circle cx="423.4" cy="1543" r="2.4"/><circle cx="157.6" cy="1652" r="2.4"/>
<circle cx="335.3" cy="1634.4" r="2.4"/><circle cx="161.1" cy="1567.9" r="2.4"/><circle cx="225.4" cy="1499.5" r="2.4"/><circle cx="362.1" cy="1453.8" r="2.4"/><circle cx="356.7" cy="1583.2" r="2.4"/><circle cx="359.7" cy="1657.1" r="2.4"/><circle cx="353.2" cy="1517.7" r="2.4"/><circle cx="266.9" cy="1534.6" r="2.4"/><circle cx="168.6" cy="1657" r="2.4"/><circle cx="314" cy="1522.4" r="2.4"/><circle cx="277.2" cy="1637.9" r="2.4"/><circle cx="368.1" cy="1493.4" r="2.4"/>
<circle cx="222.7" cy="1579.8" r="2.4"/><circle cx="209.1" cy="1511.9" r="2.4"/><circle cx="481.6" cy="1478.7" r="2.4"/><circle cx="351.9" cy="1540.2" r="2.4"/><circle cx="273" cy="1481.2" r="2.4"/><circle cx="352.7" cy="1624.9" r="2.4"/><circle cx="248.9" cy="1472.9" r="2.4"/><circle cx="313.5" cy="1552.4" r="2.4"/><circle cx="192.8" cy="1547.6" r="2.4"/><circle cx="154.5" cy="1619.2" r="2.4"/><circle cx="342.1" cy="1472.9" r="2.4"/><circle cx="174.3" cy="1546" r="2.4"/>
<circle cx="198.5" cy="1533.6" r="2.4"/><circle cx="331.1" cy="1629.4" r="2.4"/><circle cx="279.7" cy="1585.6" r="2.4"/><circle cx="350.4" cy="1526.4" r="2.4"/><circle cx="375.7" cy="1567.1" r="2.4"/><circle cx="480.2" cy="1567" r="2.4"/><circle cx="219.7" cy="1602" r="2.4"/><circle cx="294.2" cy="1647.5" r="2.4"/><circle cx="273.7" cy="1585.3" r="2.4"/><circle cx="265.8" cy="1525.2" r="2.4"/><circle cx="443.3" cy="1600.9" r="2.4"/><circle cx="390.6" cy="1459.5" r="2.4"/>
<circle cx="236.8" cy="1545.8" r="2.4"/><circle cx="332.4" cy="1638.8" r="2.4"/><circle cx="331.2" cy="1466.5" r="2.4"/><circle cx="217.3" cy="1645.4" r="2.4"/><circle cx="236.9" cy="1677.2" r="2.4"/><circle cx="365.7" cy="1525.4" r="2.4"/><circle cx="374.9" cy="1599.8" r="2.4"/><circle cx="369.3" cy="1498.6" r="2.4"/><circle cx="389.3" cy="1632.4" r="2.4"/><circle cx="210.7" cy="1630.5" r="2.4"/><circle cx="375.6" cy="1621.9" r="2.4"/><circle cx="459.3" cy="1510.7" r="2.4"/>
<circle cx="356.9" cy="1525.4" r="2.4"/><circle cx="412" cy="1573.3" r="2.4"/><circle cx="273.5" cy="1619.1" r="2.4"/><circle cx="203.4" cy="1661.6" r="2.4"/><circle cx="195.1" cy="1595.8" r="2.4"/><circle cx="213.1" cy="1631.9" r="2.4"/><circle cx="315.8" cy="1457.3" r="2.4"/><circle cx="378.4" cy="1460.8" r="2.4"/><circle cx="322.5" cy="1473.4" r="2.4"/><circle cx="300.3" cy="1567.8" r="2.4"/><circle cx="366.6" cy="1508.5" r="2.4"/><circle cx="376.7" cy="1496.7" r="2.4"/>
<circle cx="233.7" cy="1462.4" r="2.4"/><circle cx="214.7" cy="1593.3" r="2.4"/><circle cx="258.1" cy="1594.9" r="2.4"/><circle cx="207.6" cy="1510.4" r="2.4"/><circle cx="428.1" cy="1488.8" r="2.4"/><circle cx="270.3" cy="1556.4" r="2.4"/><circle cx="296.3" cy="1632.7" r="2.4"/><circle cx="178.3" cy="1639.2" r="2.4"/><circle cx="307.6" cy="1501.2" r="2.4"/><circle cx="274.6" cy="1543.2" r="2.4"/><circle cx="423.1" cy="1615.4" r="2.4"/><circle cx="396.2" cy="1449.4" r="2.4"/>
<circle cx="304.2" cy="1470" r="2.4"/><circle cx="296.9" cy="1640.4" r="2.4"/><circle cx="383.7" cy="1474.9" r="2.4"/><circle cx="361.3" cy="1546.8" r="2.4"/><circle cx="273.7" cy="1601.8" r="2.4"/><circle cx="215.7" cy="1633.5" r="2.4"/><circle cx="177.9" cy="1668.4" r="2.4"/><circle cx="289.4" cy="1566.1" r="2.4"/><circle cx="244.4" cy="1638.7" r="2.4"/><circle cx="410.2" cy="1476.9" r="2.4"/><circle cx="268.2" cy="1473.6" r="2.4"/><circle cx="444.9" cy="1502.1" r="2.4"/>
<circle cx="349.6" cy="1520.5" r="2.4"/><circle cx="456.1" cy="1488.8" r="2.4"/><circle cx="171.8" cy="1670.2" r="2.4"/><circle cx="380.6" cy="1612.2" r="2.4"/><circle cx="235" cy="1559" r="2.4"/><circle cx="360.2" cy="1501.1" r="2.4"/><circle cx="201.3" cy="1480.9" r="2.4"/><circle cx="171.9" cy="1630.1" r="2.4"/><circle cx="302.1" cy="1566.8" r="2.4"/><circle cx="251.9" cy="1538.7" r="2.4"/><circle cx="222.6" cy="1617.5" r="2.4"/><circle cx="152.1" cy="1532.1" r="2.4"/>
<circle cx="379" cy="1615.2" r="2.4"/><circle cx="437.6" cy="1478.4" r="2.4"/><circle cx="363.1" cy="1550.5" r="2.4"/><circle cx="448.8" cy="1626" r="2.4"/><circle cx="233.8" cy="1465.2" r="2.4"/><circle cx="153.3" cy="1521" r="2.4"/><circle cx="174.2" cy="1584.1" r="2.4"/><circle cx="273.8" cy="1565.9" r="2.4"/><circle cx="172.8" cy="1592.1" r="2.4"/><circle cx="162.4" cy="1659.8" r="2.4"/><circle cx="436" cy="1505.5" r="2.4"/><circle cx="344.6" cy="1478.8" r="2.4"/>
<circle cx="428.7" cy="1473.9" r="2.4"/><circle cx="472.4" cy="1595.1" r="2.4"/><circle cx="339.2" cy="1621.2" r="2.4"/><circle cx="285.4" cy="1494.6" r="2.4"/><circle cx="266.2" cy="1548.4" r="2.4"/><circle cx="238.2" cy="1638.5" r="2.4"/><circle cx="316.1" cy="1527.3" r="2.4"/><circle cx="263" cy="1556.7" r="2.4"/><circle cx="240.1" cy="1622.9" r="2.4"/><circle cx="170.3" cy="1583.7" r="2.4"/><circle cx="481.6" cy="1584.3" r="2.4"/><circle cx="185.8" cy="1674.2" r="2.4"/>
<circle cx="328.7" cy="1576.7" r="2.4"/><circle cx="226.5" cy="1646.9" r="2.4"/><circle cx="264.2" cy="1540.2" r="2.4"/><circle cx="160.5" cy="1656" r="2.4"/><circle cx="389.8" cy="1567" r="2.4"/><circle cx="339.5" cy="1515.4" r="2.4"/><circle cx="210.2" cy="1656.2" r="2.4"/><circle cx="436.2" cy="1534.9" r="2.4"/><circle cx="416.2" cy="1572.1" r="2.4"/><circle cx="301.7" cy="1653" r="2.4"/><circle cx="476.7" cy="1529.4" r="2.4"/><circle cx="327.2" cy="1479.9" r="2.4"/>
<circle cx="349.3" cy="1592.6" r="2.4"/><circle cx="446.5" cy="1548" r="2.4"/><circle cx="224" cy="1635.2" r="2.4"/><circle cx="427.7" cy="1502.3" r="2.4"/><circle cx="375.5" cy="1556" r="2.4"/><circle cx="318.4" cy="1661.6" r="2.4"/><circle cx="290.7" cy="1517.7" r="2.4"/><circle cx="364.8" cy="1661.8" r="2.4"/><circle cx="434.2" cy="1581.1" r="2.4"/><circle cx="296.8" cy="1461.7" r="2.4"/><circle cx="426.5" cy="1605.7" r="2.4"/><circle cx="486.9" cy="1500.4" r="2.4"/>
<circle cx="348.9" cy="1463.8" r="2.4"/><circle cx="350.2" cy="1471.6" r="2.4"/><circle cx="262.1" cy="1518.4" r="2.4"/><circle cx="377.8" cy="1515.9" r="2.4"/><circle cx="402.4" cy="1532.5" r="2.4"/><circle cx="226.4" cy="1597.9" r="2.4"/><circle cx="227.6" cy="1507.3" r="2.4"/><circle cx="312.6" cy="1610.8" r="2.4"/><circle cx="422.2" cy="1472.6" r="2.4"/><circle cx="160.4" cy="1552.1" r="2.4"/><circle cx="161.6" cy="1649.2" r="2.4"/><circle cx="192.1" cy="1553.5" r="2.4"/>
<circle cx="244.6" cy="1650.7" r="2.4"/><circle cx="423.6" cy="1566.2" r="2.4"/><circle cx="230.6" cy="1659" r="2.4"/><circle cx="386.6" cy="1489.8" r="2.4"/><circle cx="413.1" cy="1538" r="2.4"/><circle cx="252.9" cy="1481.5" r="2.4"/><circle cx="181.5" cy="1639" r="2.4"/><circle cx="155.9" cy="1570.7" r="2.4"/><circle cx="375.3" cy="1550.9" r="2.4"/><circle cx="288.4" cy="1604" r="2.4"/><circle cx="213.6" cy="1663.8" r="2.4"/><circle cx="200.4" cy="1572.9" r="2.4"/>
<circle cx="453.5" cy="1531" r="2.4"/><circle cx="328.1" cy="1529.4" r="2.4"/><circle cx="369.2" cy="1616.9" r="2.4"/><circle cx="313.3" cy="1569" r="2.4"/><circle cx="237.2" cy="1557.6" r="2.4"/><circle cx="387.7" cy="1470.9" r="2.4"/><circle cx="411.4" cy="1570.5" r="2.4"/><circle cx="391.5" cy="1564.2" r="2.4"/><circle cx="182.5" cy="1598.7" r="2.4"/><circle cx="156.1" cy="1511.3" r="2.4"/><circle cx="270.9" cy="1608.9" r="2.4"/><circle cx="194.7" cy="1482.6" r="2.4"/>
<circle cx="344.2" cy="1595.7" r="2.4"/><circle cx="197.4" cy="1616.3" r="2.4"/><circle cx="444.5" cy="1614.2" r="2.4"/><circle cx="404" cy="1528.1" r="2.4"/><circle cx="151.4" cy="1507.9" r="2.4"/><circle cx="222.9" cy="1621.1" r="2.4"/><circle cx="180.8" cy="1654.7" r="2.4"/><circle cx="215.2" cy="1478.1" r="2.4"/><circle cx="193.8" cy="1602.4" r="2.4"/><circle cx="180.6" cy="1535" r="2.4"/><circle cx="306.8" cy="1484.8" r="2.4"/><circle cx="344.3" cy="1517.1" r="2.4"/>
<circle cx="393.8" cy="1639.8" r="2.4"/><circle cx="395.7" cy="1553.5" r="2.4"/><circle cx="235.9" cy="1593.4" r="2.4"/><circle cx="367.6" cy="1467.4" r="2.4"/><circle cx="263.1" cy="1612.9" r="2.4"/><circle cx="420.5" cy="1506.3" r="2.4"/><circle cx="400.6" cy="1643" r="2.4"/><circle cx="226.7" cy="1679.5" r="2.4"/><circle cx="349" cy="1627.8" r="2.4"/><circle cx="162.8" cy="1503.6" r="2.4"/><circle cx="467.1" cy="1588.4" r="2.4"/><circle cx="326.3" cy="1461" r="2.4"/>
<circle cx="405.6" cy="1570.7" r="2.4"/><circle cx="157.8" cy="1653" r="2.4"/><circle cx="164" cy="1598.9" r="2.4"/><circle cx="316.8" cy="1548.4" r="2.4"/><circle cx="331.2" cy="1552.6" r="2.4"/><circle cx="232.2" cy="1647.9" r="2.4"/><circle cx="453.2" cy="1596" r="2.4"/><circle cx="439.1" cy="1481.2" r="2.4"/><circle cx="395.8" cy="1608.2" r="2.4"/><circle cx="152.4" cy="1568.7" r="2.4"/><circle cx="375.2" cy="1500.7" r="2.4"/><circle cx="216.6" cy="1563.7" r="2.4"/>
<circle cx="275.7" cy="1586.9" r="2.4"/><circle cx="407.1" cy="1582.5" r="2.4"/><circle cx="258.3" cy="1491.4" r="2.4"/><circle cx="340.9" cy="1542.2" r="2.4"/><circle cx="335" cy="1472.3" r="2.4"/><circle cx="324.9" cy="1553.2" r="2.4"/><circle cx="205.2" cy="1551.3" r="2.4"/><circle cx="366.9" cy="1490.6" r="2.4"/><circle cx="415.8" cy="1529.6" r="2.4"/><circle cx="216.9" cy="1619.5" r="2.4"/><circle cx="342.7" cy="1466.4" r="2.4"/><circle cx="217.8" cy="1580.4" r="2.4"/>
<circle cx="191.1" cy="1573.5" r="2.4"/><circle cx="342.3" cy="1525.9" r="2.4"/><circle cx="352.4" cy="1575.9" r="2.4"/><circle cx="149.8" cy="1657.9" r="2.4"/><circle cx="442.8" cy="1494" r="2.4"/><circle cx="273.7" cy="1540.5" r="2.4"/><circle cx="268.4" cy="1549.7" r="2.4"/><circle cx="308.4" cy="1483.3" r="2.4"/><circle cx="320.5" cy="1462.2" r="2.4"/><circle cx="423.3" cy="1521.7" r="2.4"/><circle cx="344" cy="1672.2" r="2.4"/><circle cx="408.2" cy="1631.2" r="2.4"/>
<circle cx="478" cy="1479.5" r="2.4"/><circle cx="426.2" cy="1574.1" r="2.4"/><circle cx="254" cy="1658.5" r="2.4"/><circle cx="411.1" cy="1637.1" r="2.4"/><circle cx="327" cy="1478.9" r="2.4"/><circle cx="256.6" cy="1516.9" r="2.4"/><circle cx="271" cy="1512.1" r="2.4"/><circle cx="425.7" cy="1507.8" r="2.4"/><circle cx="351.1" cy="1468.9" r="2.4"/><circle cx="263.8" cy="1586.5" r="2.4"/><circle cx="323.3" cy="1524.4" r="2.4"/><circle cx="373.5" cy="1577.8" r="2.4"/>
<circle cx="252.6" cy="1577.2" r="2.4"/><circle cx="303.9" cy="1638" r="2.4"/><circle cx="258" cy="1526.2" r="2.4"/><circle cx="419" cy="1624.9" r="2.4"/><circle cx="239.4" cy="1606" r="2.4"/><circle cx="290.6" cy="1543.7" r="2.4"/><circle cx="246.5" cy="1555.5" r="2.4"/><circle cx="443.9" cy="1603.2" r="2.4"/><circle cx="391.9" cy="1654.4" r="2.4"/><circle cx="445.9" cy="1510.2" r="2.4"/><circle cx="228.4" cy="1528.7" r="2.4"/><circle cx="230.5" cy="1644.7" r="2.4"/>
<circle cx="409.2" cy="1527.8" r="2.4"/><circle cx="375.4" cy="1603.9" r="2.4"/><circle cx="308.4" cy="1535.3" r="2.4"/><circle cx="176" cy="1523.1" r="2.4"/><circle cx="333.3" cy="1502.9" r="2.4"/><circle cx="366.6" cy="1524.6" r="2.4"/><circle cx="357.4" cy="1475" r="2.4"/><circle cx="403.1" cy="1489.9" r="2.4"/><circle cx="242" cy="1477.1" r="2.4"/><circle cx="326.7" cy="1574.3" r="2.4"/><circle cx="162.6" cy="1553.4" r="2.4"/><circle cx="167.7" cy="1613.6" r="2.4"/>
<circle cx="275.7" cy="1542.9" r="2.4"/><circle cx="203.6" cy="1471.1" r="2.4"/><circle cx="216.4" cy="1555.9" r="2.4"/><circle cx="236.1" cy="1657.7" r="2.4"/><circle cx="263.3" cy="1644.2" r="2.4"/><circle cx="189" cy="1489.3" r="2.4"/><circle cx="174" cy="1536.9" r="2.4"/><circle cx="267.3" cy="1525.4" r="2.4"/><circle cx="326.7" cy="1628.6" r="2.4"/><circle cx="295.2" cy="1525.5" r="2.4"/><circle cx="396" cy="1512.4" r="2.4"/><circle cx="384.3" cy="1525.8" r="2.4"/>
<circle cx="206.3" cy="1532.1" r="2.4"/><circle cx="441.7" cy="1527.2" r="2.4"/><circle cx="176" cy="1544" r="2.4"/><circle cx="188.3" cy="1662.9" r="2.4"/><circle cx="183.4" cy="1495.8" r="2.4"/><circle cx="407.5" cy="1514.1" r="2.4"/><circle cx="352.4" cy="1566.9" r="2.4"/><circle cx="357.6" cy="1537.4" r="2.4"/><circle cx="253.9" cy="1524.3" r="2.4"/><circle cx="238" cy="1495.6" r="2.4"/><circle cx="162.9" cy="1638.7" r="2.4"/><circle cx="180.9" cy="1538.1" r="2.4"/>
<circle cx="244.4" cy="1661.7" r="2.4"/><circle cx="455.9" cy="1591" r="2.4"/><circle cx="324.5" cy="1539.4" r="2.4"/><circle cx="265" cy="1585.9" r="2.4"/><circle cx="392.2" cy="1467.1" r="2.4"/><circle cx="251.7" cy="1579.2" r="2.4"/><circle cx="292.4" cy="1596.4" r="2.4"/><circle cx="257.1" cy="1514.2" r="2.4"/><circle cx="250.5" cy="1688.1" r="2.4"/><circle cx="214.3" cy="1688.1" r="2.4"/><circle cx="154.6" cy="1688.1" r="2.4"/><circle cx="242.7" cy="1688.1" r="2.4"/>
<circle cx="233.9" cy="1688.1" r="2.4"/><circle cx="248.3" cy="1688.1" r="2.4"/><circle cx="185.6" cy="1688.1" r="2.4"/><circle cx="201.6" cy="1688.1" r="2.4"/><circle cx="209.9" cy="1688.1" r="2.4"/><circle cx="228.4" cy="1688.1" r="2.4"/><circle cx="162.2" cy="1688.1" r="2.4"/><circle cx="184.6" cy="1688.1" r="2.4"/><circle cx="169.4" cy="1688.1" r="2.4"/><circle cx="231.2" cy="1688.1" r="2.4"/><circle cx="162.6" cy="1688.1" r="2.4"/><circle cx="231.8" cy="1688.1" r="2.4"/>
<circle cx="188.8" cy="1688.1" r="2.4"/><circle cx="240.1" cy="1688.1" r="2.4"/><circle cx="164" cy="1688.1" r="2.4"/><circle cx="166.7" cy="1688.1" r="2.4"/><circle cx="246.8" cy="1688.1" r="2.4"/><circle cx="200.5" cy="1688.1" r="2.4"/><circle cx="176.9" cy="1688.1" r="2.4"/><circle cx="143.8" cy="1688.1" r="2.4"/><circle cx="239.7" cy="1688.1" r="2.4"/><circle cx="146" cy="1688.1" r="2.4"/><circle cx="226" cy="1688.1" r="2.4"/><circle cx="176.1" cy="1688.1" r="2.4"/>
<circle cx="234.8" cy="1688.1" r="2.4"/><circle cx="215" cy="1688.1" r="2.4"/><circle cx="201.6" cy="1688.1" r="2.4"/><circle cx="208.1" cy="1688.1" r="2.4"/><circle cx="218.7" cy="1688.1" r="2.4"/><circle cx="177.1" cy="1688.1" r="2.4"/><circle cx="210" cy="1688.1" r="2.4"/><circle cx="159.2" cy="1688.1" r="2.4"/><circle cx="167.5" cy="1688.1" r="2.4"/><circle cx="238.6" cy="1688.1" r="2.4"/><circle cx="226.3" cy="1688.1" r="2.4"/><circle cx="187.4" cy="1688.1" r="2.4"/>
<circle cx="171.5" cy="1688.1" r="2.4"/><circle cx="224.7" cy="1688.1" r="2.4"/><circle cx="182.4" cy="1688.1" r="2.4"/><circle cx="187.2" cy="1688.1" r="2.4"/><circle cx="219.2" cy="1688.1" r="2.4"/><circle cx="237.8" cy="1688.1" r="2.4"/><circle cx="234.7" cy="1688.1" r="2.4"/><circle cx="176.3" cy="1688.1" r="2.4"/><circle cx="207.5" cy="1688.1" r="2.4"/><circle cx="190.2" cy="1688.1" r="2.4"/><circle cx="223.9" cy="1688.1" r="2.4"/><circle cx="150.6" cy="1688.1" r="2.4"/>
<circle cx="191.6" cy="1688.1" r="2.4"/><circle cx="189.1" cy="1688.1" r="2.4"/><circle cx="196.5" cy="1688.1" r="2.4"/><circle cx="149.3" cy="1688.1" r="2.4"/><circle cx="247.8" cy="1688.1" r="2.4"/><circle cx="206.4" cy="1688.1" r="2.4"/><circle cx="334.2" cy="1688.1" r="2.4"/><circle cx="401.3" cy="1688.1" r="2.4"/><circle cx="310.6" cy="1688.1" r="2.4"/><circle cx="289.8" cy="1688.1" r="2.4"/><circle cx="302.4" cy="1688.1" r="2.4"/><circle cx="389.2" cy="1688.1" r="2.4"/>
<circle cx="340.1" cy="1688.1" r="2.4"/><circle cx="364.1" cy="1688.1" r="2.4"/><circle cx="420.9" cy="1688.1" r="2.4"/><circle cx="383.4" cy="1688.1" r="2.4"/><circle cx="420.8" cy="1688.1" r="2.4"/><circle cx="374.4" cy="1688.1" r="2.4"/><circle cx="412.5" cy="1688.1" r="2.4"/><circle cx="318" cy="1688.1" r="2.4"/><circle cx="332.6" cy="1688.1" r="2.4"/><circle cx="386.9" cy="1688.1" r="2.4"/><circle cx="398.1" cy="1688.1" r="2.4"/><circle cx="373" cy="1688.1" r="2.4"/>
<circle cx="420.1" cy="1688.1" r="2.4"/><circle cx="311.2" cy="1688.1" r="2.4"/><circle cx="265" cy="1688.1" r="2.4"/><circle cx="283.3" cy="1688.1" r="2.4"/><circle cx="341.1" cy="1688.1" r="2.4"/><circle cx="320.9" cy="1688.1" r="2.4"/><circle cx="408.1" cy="1688.1" r="2.4"/><circle cx="298.2" cy="1688.1" r="2.4"/><circle cx="394.5" cy="1688.1" r="2.4"/><circle cx="337.7" cy="1688.1" r="2.4"/><circle cx="140.8" cy="1627.1" r="2.4"/><circle cx="142.5" cy="1670.1" r="2.4"/>
<circle cx="144" cy="1630.4" r="2.4"/><circle cx="147.3" cy="1499.1" r="2.4"/><circle cx="140.5" cy="1561.6" r="2.4"/><circle cx="140.1" cy="1511.5" r="2.4"/><circle cx="140.4" cy="1492.5" r="2.4"/><circle cx="142.3" cy="1570.6" r="2.4"/><circle cx="139.4" cy="1512.3" r="2.4"/><circle cx="144.2" cy="1575.1" r="2.4"/><circle cx="138.6" cy="1637.9" r="2.4"/><circle cx="145" cy="1644.8" r="2.4"/><circle cx="144.9" cy="1647.4" r="2.4"/><circle cx="150.2" cy="1592" r="2.4"/>
<circle cx="476" cy="1426.3" r="2.4"/><circle cx="501.5" cy="1431.2" r="2.4"/><circle cx="523.2" cy="1434.4" r="2.4"/><circle cx="535.7" cy="1433.1" r="2.4"/><circle cx="507.1" cy="1449.9" r="2.4"/><circle cx="468.6" cy="1449.9" r="2.4"/><circle cx="406.4" cy="1439.3" r="2.4"/><circle cx="425.1" cy="1440.6" r="2.4"/><circle cx="530.7" cy="1487.2" r="2.4"/><circle cx="540" cy="1488.5" r="2.4"/><circle cx="545" cy="1494.7" r="2.4"/><circle cx="535" cy="1501.5" r="2.4"/>
<circle cx="533.8" cy="1502.8" r="2.4"/><circle cx="512.1" cy="1545.1" r="2.4"/><circle cx="518.3" cy="1535.7" r="2.4"/><circle cx="523.2" cy="1553.8" r="2.4"/><circle cx="507.1" cy="1652.1" r="2.4"/><circle cx="504" cy="1658.3" r="2.4"/><circle cx="480.4" cy="1688.1" r="2.4"/><circle cx="527.6" cy="1555.7" r="2.4"/><circle cx="264.7" cy="1446.8" r="2.4"/><circle cx="283.4" cy="1450.5" r="2.4"/><circle cx="331.2" cy="1449.9" r="2.4"/><circle cx="229.3" cy="1456.1" r="2.4"/>
</g>
<path class="d" d="M154.3 1230.3V1726.7"/>
<path class="d" d="M92.6 1664.5H588.2"/>
<path d="M130 1683.3L392.9 1473.8" stroke="#0000f6" stroke-width="4.2" stroke-linecap="round" fill="none"/>
<path class="ax" d="M68.5 1229.1V1726.7M68.5 1726.7h-4.3M68.5 1664.5h-4.3M68.5 1602.3h-4.3M68.5 1540.1h-4.3M68.5 1477.9h-4.3M68.5 1415.7h-4.3M68.5 1353.5h-4.3M68.5 1291.3h-4.3M68.5 1229.1h-4.3M92.6 1751.5H589.7M92.6 1751.5v4.3M154.8 1751.5v4.3M216.9 1751.5v4.3M279 1751.5v4.3M341.2 1751.5v4.3M403.3 1751.5v4.3M465.4 1751.5v4.3M527.6 1751.5v4.3M589.7 1751.5v4.3"/>
<text class="t" x="59.1" y="1731.5" text-anchor="end">−1</text>
<text class="t" x="92.6" y="1770.3" text-anchor="middle">−1</text>
<text class="t" x="59.1" y="1669.3" text-anchor="end">0</text>
<text class="t" x="154.8" y="1770.3" text-anchor="middle">0</text>
<text class="t" x="59.1" y="1607.1" text-anchor="end">1</text>
<text class="t" x="216.9" y="1770.3" text-anchor="middle">1</text>
<text class="t" x="59.1" y="1544.9" text-anchor="end">2</text>
<text class="t" x="279" y="1770.3" text-anchor="middle">2</text>
<text class="t" x="59.1" y="1482.7" text-anchor="end">3</text>
<text class="t" x="341.2" y="1770.3" text-anchor="middle">3</text>
<text class="t" x="59.1" y="1420.5" text-anchor="end">4</text>
<text class="t" x="403.3" y="1770.3" text-anchor="middle">4</text>
<text class="t" x="59.1" y="1358.3" text-anchor="end">5</text>
<text class="t" x="465.4" y="1770.3" text-anchor="middle">5</text>
<text class="t" x="59.1" y="1296.1" text-anchor="end">6</text>
<text class="t" x="527.6" y="1770.3" text-anchor="middle">6</text>
<text class="t" x="59.1" y="1233.9" text-anchor="end">7</text>
<text class="t" x="589.7" y="1770.3" text-anchor="middle">7</text>
<text class="l" x="341" y="1787" text-anchor="middle">Hash rate</text>
<text class="l" transform="translate(30.4 1478) rotate(-90)" text-anchor="middle">Spatial lag of capacity</text>
<text class="h" x="939.6" y="1221.2" text-anchor="middle">Reference Distribution</text>
<path d="M713 1725.25C713.75 1724.91 716.33 1724.35 717.5 1723.22C718.67 1722.09 719.28 1720.4 720 1718.49C720.72 1716.57 721.38 1713.7 721.8 1711.73C722.22 1709.75 722.23 1708.53 722.5 1706.65C722.77 1704.78 723.07 1702.99 723.4 1700.46C723.73 1697.92 723.93 1696.7 724.5 1691.44C725.07 1686.18 725.92 1682.05 726.8 1668.9C727.68 1655.75 728.97 1631.33 729.8 1612.55C730.63 1593.77 731.13 1574.98 731.8 1556.2C732.47 1537.42 733.13 1518.63 733.8 1499.85C734.47 1481.07 735.13 1462.28 735.8 1443.5C736.47 1424.72 737.18 1405.93 737.8 1387.15C738.42 1368.37 738.97 1344.89 739.5 1330.8C740.03 1316.71 740.5 1312.02 741 1302.62C741.5 1293.23 742.13 1281.96 742.5 1274.45C742.87 1266.94 742.99 1261.21 743.2 1257.55C743.41 1253.88 743.55 1252.47 743.75 1252.47C743.95 1252.47 744.16 1253.88 744.4 1257.55C744.64 1261.21 744.93 1266.94 745.2 1274.45C745.47 1281.96 745.7 1293.23 746 1302.62C746.3 1312.02 746.53 1316.71 747 1330.8C747.47 1344.89 748.25 1368.37 748.8 1387.15C749.35 1405.93 749.85 1424.72 750.3 1443.5C750.75 1462.28 751.08 1481.07 751.5 1499.85C751.92 1518.63 752.3 1537.42 752.8 1556.2C753.3 1574.98 753.75 1593.77 754.5 1612.55C755.25 1631.33 756.55 1655.75 757.3 1668.9C758.05 1682.05 758.58 1686.18 759 1691.44C759.42 1696.7 759.37 1697.92 759.8 1700.46C760.23 1702.99 761.07 1704.78 761.6 1706.65C762.13 1708.53 762.35 1709.75 763 1711.73C763.65 1713.7 764.42 1716.57 765.5 1718.49C766.58 1720.4 768.12 1722.09 769.5 1723.22C770.88 1724.35 773.08 1724.91 773.8 1725.25Z" fill="#ececec" stroke="none"/>
<path d="M713 1725.25C713.75 1724.91 716.33 1724.35 717.5 1723.22C718.67 1722.09 719.28 1720.4 720 1718.49C720.72 1716.57 721.38 1713.7 721.8 1711.73C722.22 1709.75 722.23 1708.53 722.5 1706.65C722.77 1704.78 723.07 1702.99 723.4 1700.46C723.73 1697.92 723.93 1696.7 724.5 1691.44C725.07 1686.18 725.92 1682.05 726.8 1668.9C727.68 1655.75 728.97 1631.33 729.8 1612.55C730.63 1593.77 731.13 1574.98 731.8 1556.2C732.47 1537.42 733.13 1518.63 733.8 1499.85C734.47 1481.07 735.13 1462.28 735.8 1443.5C736.47 1424.72 737.18 1405.93 737.8 1387.15C738.42 1368.37 738.97 1344.89 739.5 1330.8C740.03 1316.71 740.5 1312.02 741 1302.62C741.5 1293.23 742.13 1281.96 742.5 1274.45C742.87 1266.94 742.99 1261.21 743.2 1257.55C743.41 1253.88 743.55 1252.47 743.75 1252.47C743.95 1252.47 744.16 1253.88 744.4 1257.55C744.64 1261.21 744.93 1266.94 745.2 1274.45C745.47 1281.96 745.7 1293.23 746 1302.62C746.3 1312.02 746.53 1316.71 747 1330.8C747.47 1344.89 748.25 1368.37 748.8 1387.15C749.35 1405.93 749.85 1424.72 750.3 1443.5C750.75 1462.28 751.08 1481.07 751.5 1499.85C751.92 1518.63 752.3 1537.42 752.8 1556.2C753.3 1574.98 753.75 1593.77 754.5 1612.55C755.25 1631.33 756.55 1655.75 757.3 1668.9C758.05 1682.05 758.58 1686.18 759 1691.44C759.42 1696.7 759.37 1697.92 759.8 1700.46C760.23 1702.99 761.07 1704.78 761.6 1706.65C762.13 1708.53 762.35 1709.75 763 1711.73C763.65 1713.7 764.42 1716.57 765.5 1718.49C766.58 1720.4 768.12 1722.09 769.5 1723.22C770.88 1724.35 773.08 1724.91 773.8 1725.25" fill="none" stroke="#ababab" stroke-width="1.2" stroke-linejoin="round"/>
<path d="M713 1725.2H773.8" stroke="#c4c4c4" stroke-width=".8"/>
<path d="M742.8 1713.2V1725.2" stroke="#1f6fb4" stroke-width="2.1"/>
<rect x="1120.8" y="1713.2" width="4" height="11.6" fill="#0000f6"/>
<path class="ax" d="M667.8 1229V1725.2M667.8 1725.2h-4.3M667.8 1668.9h-4.3M667.8 1612.5h-4.3M667.8 1556.2h-4.3M667.8 1499.8h-4.3M667.8 1443.5h-4.3M667.8 1387.2h-4.3M667.8 1330.8h-4.3M667.8 1274.5h-4.3M692.5 1750.2H1188.8M742.8 1750.2v4.3M817.1 1750.2v4.3M891.4 1750.2v4.3M965.7 1750.2v4.3M1040.1 1750.2v4.3M1114.4 1750.2v4.3M1188.7 1750.2v4.3"/>
<text class="t" x="658.4" y="1730" text-anchor="end">0</text>
<text class="t" x="658.4" y="1673.7" text-anchor="end">5</text>
<text class="t" x="658.4" y="1617.3" text-anchor="end">10</text>
<text class="t" x="658.4" y="1561" text-anchor="end">15</text>
<text class="t" x="658.4" y="1504.6" text-anchor="end">20</text>
<text class="t" x="658.4" y="1448.3" text-anchor="end">25</text>
<text class="t" x="658.4" y="1392" text-anchor="end">30</text>
<text class="t" x="658.4" y="1335.6" text-anchor="end">35</text>
<text class="t" x="658.4" y="1279.2" text-anchor="end">40</text>
<text class="t" x="742.8" y="1769" text-anchor="middle">0.0</text>
<text class="t" x="817.1" y="1769" text-anchor="middle">0.1</text>
<text class="t" x="891.4" y="1769" text-anchor="middle">0.2</text>
<text class="t" x="965.7" y="1769" text-anchor="middle">0.3</text>
<text class="t" x="1040.1" y="1769" text-anchor="middle">0.4</text>
<text class="t" x="1114.4" y="1769" text-anchor="middle">0.5</text>
<text class="t" x="1188.7" y="1769" text-anchor="middle">0.6</text>
<text class="l" x="939.6" y="1786.5" text-anchor="middle">Bivariate Moran I: 0.51</text>
<text class="l" transform="translate(632.5 1479.4) rotate(-90)" text-anchor="middle">Density</text>
</g>
</svg></body></html>
